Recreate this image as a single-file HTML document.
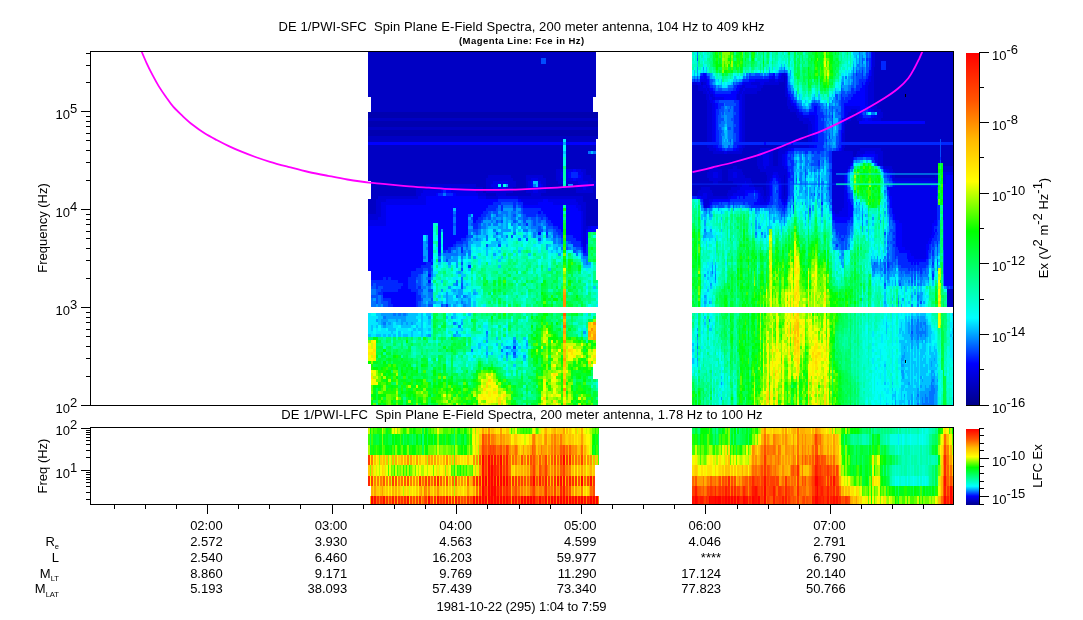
<!DOCTYPE html>
<html><head><meta charset="utf-8"><title>DE 1 PWI spectra</title>
<style>html,body{margin:0;padding:0;background:#fff}svg{display:block}text{font-family:"Liberation Sans",sans-serif;fill:#000}</style></head><body>
<svg width="1083" height="620" viewBox="0 0 1083 620">
<rect width="1083" height="620" fill="#fff"/>
<g fill="none" shape-rendering="crispEdges"><path stroke="#0000c4" stroke-width="2.5" d="M369.25 52v45M369.25 118v3M369.25 127v3M369.25 136v6M369.25 145v36M369.25 199v15M371.75 52v60M371.75 118v3M371.75 127v3M371.75 136v6M371.75 145v69M374.25 52v60M374.25 118v3M374.25 127v3M374.25 136v6M374.25 145v69M376.75 52v60M376.75 118v3M376.75 127v3M376.75 136v6M376.75 145v54M379.25 52v60M379.25 118v3M379.25 127v3M379.25 136v6M379.25 145v51M381.75 52v60M381.75 118v3M381.75 127v3M381.75 136v6M381.75 145v51M384.25 52v60M384.25 118v3M384.25 127v3M384.25 136v6M384.25 145v51M386.75 52v60M386.75 118v3M386.75 127v3M386.75 136v6M386.75 145v51M389.25 52v60M389.25 118v3M389.25 127v3M389.25 136v6M389.25 145v51M391.75 52v60M391.75 118v3M391.75 127v3M391.75 136v6M391.75 145v51M394.25 52v60M394.25 118v3M394.25 127v3M394.25 136v6M394.25 145v51M396.75 52v60M396.75 118v3M396.75 127v3M396.75 136v6M396.75 145v51M399.25 52v60M399.25 118v3M399.25 127v3M399.25 136v6M399.25 145v51M401.75 52v60M401.75 118v3M401.75 127v3M401.75 136v6M401.75 145v51M404.25 52v60M404.25 118v3M404.25 127v3M404.25 136v6M404.25 145v51M406.75 52v60M406.75 118v3M406.75 127v3M406.75 136v6M406.75 145v51M409.25 52v60M409.25 118v3M409.25 127v3M409.25 136v6M409.25 145v51M411.75 52v60M411.75 118v3M411.75 127v3M411.75 136v6M411.75 145v51M414.25 52v60M414.25 118v3M414.25 127v3M414.25 136v6M414.25 145v51M416.75 52v60M416.75 118v3M416.75 127v3M416.75 136v6M416.75 145v42M419.25 52v60M419.25 118v3M419.25 127v3M419.25 136v6M419.25 145v42M421.75 52v60M421.75 118v3M421.75 127v3M421.75 136v6M421.75 145v42M424.25 52v60M424.25 118v3M424.25 127v3M424.25 136v6M424.25 145v42M426.75 52v60M426.75 118v3M426.75 127v3M426.75 136v6M426.75 145v39M429.25 52v60M429.25 118v3M429.25 127v3M429.25 136v6M429.25 145v39M431.75 52v60M431.75 118v3M431.75 127v3M431.75 136v6M431.75 145v39M434.25 52v60M434.25 118v3M434.25 127v3M434.25 136v6M434.25 145v39M436.75 52v60M436.75 118v3M436.75 127v3M436.75 136v6M436.75 145v39M439.25 52v60M439.25 118v3M439.25 127v3M439.25 136v6M439.25 145v39M441.75 52v60M441.75 118v3M441.75 127v3M441.75 136v6M441.75 145v39M444.25 52v60M444.25 118v3M444.25 127v3M444.25 136v6M444.25 145v39M446.75 52v60M446.75 118v3M446.75 127v3M446.75 136v6M446.75 145v39M449.25 52v60M449.25 118v3M449.25 127v3M449.25 136v6M449.25 145v39M451.75 52v60M451.75 118v3M451.75 127v3M451.75 136v6M451.75 145v39M454.25 52v60M454.25 118v3M454.25 127v3M454.25 136v6M454.25 145v39M456.75 52v60M456.75 118v3M456.75 127v3M456.75 136v6M456.75 145v39M459.25 52v60M459.25 118v3M459.25 127v3M459.25 136v6M459.25 145v39M461.75 52v60M461.75 118v3M461.75 127v3M461.75 136v6M461.75 145v39M464.25 52v60M464.25 118v3M464.25 127v3M464.25 136v6M464.25 145v39M466.75 52v60M466.75 118v3M466.75 127v3M466.75 136v6M466.75 145v39M469.25 52v60M469.25 118v3M469.25 127v3M469.25 136v6M469.25 145v39M471.75 52v60M471.75 118v3M471.75 127v3M471.75 136v6M471.75 145v39M474.25 52v60M474.25 118v3M474.25 127v3M474.25 136v6M474.25 145v39M476.75 52v60M476.75 118v3M476.75 127v3M476.75 136v6M476.75 145v42M479.25 52v60M479.25 118v3M479.25 127v3M479.25 136v6M479.25 145v42M481.75 52v60M481.75 118v3M481.75 127v3M481.75 136v6M481.75 145v42M484.25 52v60M484.25 118v3M484.25 127v3M484.25 136v6M484.25 145v48M486.75 52v60M486.75 118v3M486.75 127v3M486.75 136v6M486.75 145v33M486.75 193v3M489.25 52v60M489.25 118v3M489.25 127v3M489.25 136v6M489.25 145v30M489.25 193v3M491.75 52v60M491.75 118v3M491.75 127v3M491.75 136v6M491.75 145v30M491.75 193v3M494.25 52v60M494.25 118v3M494.25 127v3M494.25 136v6M494.25 145v30M494.25 193v3M496.75 52v60M496.75 118v3M496.75 127v3M496.75 136v6M496.75 145v30M499.25 52v60M499.25 118v3M499.25 127v3M499.25 136v6M499.25 145v30M501.75 52v60M501.75 118v3M501.75 127v3M501.75 136v6M501.75 145v30M504.25 52v60M504.25 118v3M504.25 127v3M504.25 136v6M504.25 145v30M506.75 52v60M506.75 118v3M506.75 127v3M506.75 136v6M506.75 145v30M506.75 193v3M509.25 52v60M509.25 118v3M509.25 127v3M509.25 136v6M509.25 145v30M509.25 193v3M511.75 52v60M511.75 118v3M511.75 127v3M511.75 136v6M511.75 145v33M511.75 193v3M514.25 52v60M514.25 118v3M514.25 127v3M514.25 136v6M514.25 145v36M514.25 187v9M516.75 52v60M516.75 118v3M516.75 127v3M516.75 136v6M516.75 145v51M519.25 52v60M519.25 118v3M519.25 127v3M519.25 136v6M519.25 145v51M521.75 52v60M521.75 118v3M521.75 127v3M521.75 136v6M521.75 145v51M524.25 52v60M524.25 118v3M524.25 127v3M524.25 136v6M524.25 145v51M526.75 52v60M526.75 118v3M526.75 127v3M526.75 136v6M526.75 145v30M526.75 193v3M529.25 52v60M529.25 118v3M529.25 127v3M529.25 136v6M529.25 145v30M529.25 193v3M531.75 52v60M531.75 118v3M531.75 127v3M531.75 136v6M531.75 145v30M534.25 52v60M534.25 118v3M534.25 127v3M534.25 136v6M534.25 145v30M536.75 52v60M536.75 118v3M536.75 127v3M536.75 136v6M536.75 145v30M539.25 52v60M539.25 118v3M539.25 127v3M539.25 136v6M539.25 145v30M541.75 52v6M541.75 64v48M541.75 118v3M541.75 127v3M541.75 136v6M541.75 145v30M541.75 193v3M544.25 52v6M544.25 64v48M544.25 118v3M544.25 127v3M544.25 136v6M544.25 145v33M544.25 193v3M546.75 52v60M546.75 118v3M546.75 127v3M546.75 136v6M546.75 145v51M549.25 52v60M549.25 118v3M549.25 127v3M549.25 136v6M549.25 145v51M551.75 52v60M551.75 118v3M551.75 127v3M551.75 136v6M551.75 145v51M554.25 52v60M554.25 118v3M554.25 127v3M554.25 136v6M554.25 145v51M556.75 52v60M556.75 118v3M556.75 127v3M556.75 136v6M556.75 145v24M556.75 181v15M559.25 52v60M559.25 118v3M559.25 127v3M559.25 136v6M559.25 145v24M559.25 184v12M561.75 52v60M561.75 118v3M561.75 127v3M561.75 136v6M561.75 145v24M561.75 184v12M564.25 52v60M564.25 118v3M564.25 127v3M564.25 136v3M564.25 187v9M566.75 52v60M566.75 118v3M566.75 127v3M566.75 136v6M566.75 145v24M566.75 184v12M569.25 52v60M569.25 118v3M569.25 127v3M569.25 136v6M569.25 145v24M569.25 187v9M571.75 52v60M571.75 118v3M571.75 127v3M571.75 136v6M571.75 145v24M571.75 187v9M574.25 52v60M574.25 118v3M574.25 127v3M574.25 136v6M574.25 145v24M574.25 184v12M576.75 52v60M576.75 118v3M576.75 127v3M576.75 136v6M576.75 145v24M576.75 193v3M579.25 52v60M579.25 118v3M579.25 127v3M579.25 136v6M579.25 145v24M579.25 193v3M581.75 52v60M581.75 118v3M581.75 127v3M581.75 136v6M581.75 145v24M581.75 193v3M584.25 52v60M584.25 118v3M584.25 127v3M584.25 136v6M584.25 145v24M584.25 193v9M586.75 52v60M586.75 118v3M586.75 127v3M586.75 136v6M586.75 145v30M586.75 193v33M589.25 52v60M589.25 118v3M589.25 127v3M589.25 136v6M589.25 145v6M589.25 154v21M589.25 193v33M591.75 52v60M591.75 118v3M591.75 127v3M591.75 136v6M591.75 145v6M591.75 154v24M591.75 193v33M594.25 52v45M594.25 118v3M594.25 127v3M594.25 136v6M594.25 145v6M594.25 154v27M594.25 187v39M596.75 118v3M596.75 127v3M596.75 136v3M596.75 199v27"/><path stroke="#0000b0" stroke-width="2.5" d="M369.25 112v6M369.25 121v6M369.25 130v6M371.75 112v6M371.75 121v6M371.75 130v6M374.25 112v6M374.25 121v6M374.25 130v6M376.75 112v6M376.75 121v6M376.75 130v6M379.25 112v6M379.25 121v6M379.25 130v6M381.75 112v6M381.75 121v6M381.75 130v6M384.25 112v6M384.25 121v6M384.25 130v6M386.75 112v6M386.75 121v6M386.75 130v6M389.25 112v6M389.25 121v6M389.25 130v6M391.75 112v6M391.75 121v6M391.75 130v6M394.25 112v6M394.25 121v6M394.25 130v6M396.75 112v6M396.75 121v6M396.75 130v6M399.25 112v6M399.25 121v6M399.25 130v6M401.75 112v6M401.75 121v6M401.75 130v6M404.25 112v6M404.25 121v6M404.25 130v6M406.75 112v6M406.75 121v6M406.75 130v6M409.25 112v6M409.25 121v6M409.25 130v6M411.75 112v6M411.75 121v6M411.75 130v6M414.25 112v6M414.25 121v6M414.25 130v6M416.75 112v6M416.75 121v6M416.75 130v6M419.25 112v6M419.25 121v6M419.25 130v6M421.75 112v6M421.75 121v6M421.75 130v6M424.25 112v6M424.25 121v6M424.25 130v6M426.75 112v6M426.75 121v6M426.75 130v6M429.25 112v6M429.25 121v6M429.25 130v6M431.75 112v6M431.75 121v6M431.75 130v6M434.25 112v6M434.25 121v6M434.25 130v6M436.75 112v6M436.75 121v6M436.75 130v6M439.25 112v6M439.25 121v6M439.25 130v6M441.75 112v6M441.75 121v6M441.75 130v6M444.25 112v6M444.25 121v6M444.25 130v6M446.75 112v6M446.75 121v6M446.75 130v6M449.25 112v6M449.25 121v6M449.25 130v6M451.75 112v6M451.75 121v6M451.75 130v6M454.25 112v6M454.25 121v6M454.25 130v6M456.75 112v6M456.75 121v6M456.75 130v6M459.25 112v6M459.25 121v6M459.25 130v6M461.75 112v6M461.75 121v6M461.75 130v6M464.25 112v6M464.25 121v6M464.25 130v6M466.75 112v6M466.75 121v6M466.75 130v6M469.25 112v6M469.25 121v6M469.25 130v6M471.75 112v6M471.75 121v6M471.75 130v6M474.25 112v6M474.25 121v6M474.25 130v6M476.75 112v6M476.75 121v6M476.75 130v6M479.25 112v6M479.25 121v6M479.25 130v6M481.75 112v6M481.75 121v6M481.75 130v6M484.25 112v6M484.25 121v6M484.25 130v6M486.75 112v6M486.75 121v6M486.75 130v6M489.25 112v6M489.25 121v6M489.25 130v6M491.75 112v6M491.75 121v6M491.75 130v6M494.25 112v6M494.25 121v6M494.25 130v6M496.75 112v6M496.75 121v6M496.75 130v6M499.25 112v6M499.25 121v6M499.25 130v6M501.75 112v6M501.75 121v6M501.75 130v6M504.25 112v6M504.25 121v6M504.25 130v6M506.75 112v6M506.75 121v6M506.75 130v6M509.25 112v6M509.25 121v6M509.25 130v6M511.75 112v6M511.75 121v6M511.75 130v6M514.25 112v6M514.25 121v6M514.25 130v6M516.75 112v6M516.75 121v6M516.75 130v6M519.25 112v6M519.25 121v6M519.25 130v6M521.75 112v6M521.75 121v6M521.75 130v6M524.25 112v6M524.25 121v6M524.25 130v6M526.75 112v6M526.75 121v6M526.75 130v6M529.25 112v6M529.25 121v6M529.25 130v6M531.75 112v6M531.75 121v6M531.75 130v6M534.25 112v6M534.25 121v6M534.25 130v6M536.75 112v6M536.75 121v6M536.75 130v6M539.25 112v6M539.25 121v6M539.25 130v6M541.75 112v6M541.75 121v6M541.75 130v6M544.25 112v6M544.25 121v6M544.25 130v6M546.75 112v6M546.75 121v6M546.75 130v6M549.25 112v6M549.25 121v6M549.25 130v6M551.75 112v6M551.75 121v6M551.75 130v6M554.25 112v6M554.25 121v6M554.25 130v6M556.75 112v6M556.75 121v6M556.75 130v6M559.25 112v6M559.25 121v6M559.25 130v6M561.75 112v6M561.75 121v6M561.75 130v6M564.25 112v6M564.25 121v6M564.25 130v6M566.75 112v6M566.75 121v6M566.75 130v6M569.25 112v6M569.25 121v6M569.25 130v6M571.75 112v6M571.75 121v6M571.75 130v6M574.25 112v6M574.25 121v6M574.25 130v6M576.75 112v6M576.75 121v6M576.75 130v6M579.25 112v6M579.25 121v6M579.25 130v6M581.75 112v6M581.75 121v6M581.75 130v6M584.25 112v6M584.25 121v6M584.25 130v6M586.75 112v6M586.75 121v6M586.75 130v6M589.25 112v6M589.25 121v6M589.25 130v6M591.75 112v6M591.75 121v6M591.75 130v6M594.25 112v6M594.25 121v6M594.25 130v6M596.75 112v6M596.75 121v6M596.75 130v6"/><path stroke="#0000ff" stroke-width="2.5" d="M369.25 142v3M369.25 226v45M371.75 142v3M371.75 226v54M374.25 142v3M374.25 226v54M376.75 142v3M376.75 226v54M379.25 142v3M379.25 226v54M381.75 142v3M381.75 226v54M384.25 142v3M384.25 226v51M384.25 292v6M386.75 142v3M386.75 205v75M386.75 292v6M389.25 142v3M389.25 205v72M389.25 292v6M391.75 142v3M391.75 205v75M391.75 292v12M394.25 142v3M394.25 205v75M394.25 292v15M396.75 142v3M396.75 205v75M396.75 292v15M399.25 142v3M399.25 205v78M399.25 289v18M401.75 142v3M401.75 205v78M401.75 286v21M404.25 142v3M404.25 205v102M406.75 142v3M406.75 205v102M409.25 142v3M409.25 205v72M409.25 289v18M411.75 142v3M411.75 205v66M411.75 292v15M414.25 142v3M414.25 205v66M414.25 292v15M416.75 142v3M416.75 205v63M419.25 142v3M419.25 205v63M421.75 142v3M421.75 205v60M424.25 142v3M424.25 205v30M424.25 262v3M426.75 142v3M426.75 196v39M429.25 142v3M429.25 196v66M429.25 274v3M429.25 280v3M431.75 142v3M431.75 196v63M431.75 262v3M434.25 142v3M434.25 196v27M436.75 142v3M436.75 193v30M439.25 142v3M439.25 196v57M441.75 142v3M441.75 190v3M441.75 196v33M444.25 142v3M444.25 196v54M446.75 142v3M446.75 190v3M446.75 196v54M449.25 142v3M449.25 190v3M449.25 196v51M451.75 142v3M451.75 196v51M454.25 142v3M454.25 193v15M454.25 235v9M456.75 142v3M456.75 196v45M459.25 142v3M459.25 196v45M461.75 142v3M461.75 196v42M464.25 142v3M464.25 196v42M466.75 142v3M466.75 196v39M469.25 142v3M469.25 196v18M471.75 142v3M471.75 196v18M474.25 142v3M474.25 196v27M476.75 142v3M476.75 196v24M479.25 142v3M479.25 199v18M481.75 142v3M481.75 199v15M484.25 142v3M484.25 199v12M486.75 142v3M486.75 199v9M489.25 142v3M489.25 199v6M491.75 142v3M491.75 199v6M494.25 142v3M494.25 199v3M496.75 142v3M496.75 199v3M499.25 142v3M501.75 142v3M504.25 142v3M506.75 142v3M509.25 142v3M511.75 142v3M514.25 142v3M516.75 142v3M519.25 142v3M519.25 199v3M521.75 142v3M524.25 142v3M524.25 205v3M526.75 142v3M526.75 205v3M529.25 142v3M529.25 205v3M531.75 142v3M531.75 181v6M531.75 205v3M534.25 142v3M534.25 187v3M534.25 205v3M536.75 142v3M536.75 187v3M536.75 205v3M539.25 142v3M539.25 184v3M539.25 202v6M539.25 211v3M539.25 232v3M541.75 142v3M541.75 202v9M544.25 142v3M544.25 199v15M546.75 142v3M546.75 199v18M549.25 142v3M549.25 202v18M551.75 142v3M551.75 202v21M554.25 142v3M554.25 205v21M556.75 142v3M556.75 205v21M559.25 142v3M559.25 205v24M561.75 142v3M561.75 205v27M566.75 142v3M566.75 205v30M569.25 142v3M569.25 172v6M569.25 205v30M571.75 142v3M571.75 205v30M574.25 142v3M574.25 169v3M574.25 178v3M574.25 205v33M576.75 142v3M576.75 208v33M579.25 142v3M579.25 175v3M579.25 211v30M581.75 142v3M581.75 244v3M584.25 142v3M584.25 250v3M586.75 142v3M586.75 232v12M589.25 142v3M589.25 229v3M591.75 142v3M591.75 226v6M594.25 142v3M594.25 226v6M596.75 226v3"/><path stroke="#0000d8" stroke-width="2.5" d="M369.25 214v6M371.75 214v6M374.25 214v6M376.75 199v21M379.25 196v21M381.75 196v6M384.25 196v6M386.75 196v3M389.25 196v3M391.75 196v3M394.25 196v3M396.75 196v3M399.25 196v3M401.75 196v3M404.25 196v3M406.75 196v3M409.25 196v3M411.75 196v3M414.25 196v3M416.75 187v12M419.25 187v9M421.75 187v6M424.25 187v3M426.75 184v6M429.25 184v6M431.75 184v6M434.25 184v6M436.75 184v6M439.25 184v6M441.75 184v3M444.25 184v3M446.75 184v3M449.25 184v3M451.75 184v6M454.25 184v6M456.75 184v6M459.25 184v6M461.75 184v6M464.25 184v6M466.75 184v6M469.25 184v6M471.75 184v6M474.25 184v6M476.75 187v6M479.25 187v9M481.75 187v9M484.25 193v3M486.75 178v15M486.75 196v3M489.25 175v18M489.25 196v3M491.75 175v9M491.75 187v6M491.75 196v3M494.25 175v6M494.25 190v3M494.25 196v3M496.75 175v6M496.75 190v9M499.25 175v6M499.25 190v6M501.75 175v6M501.75 190v6M504.25 175v6M504.25 190v6M506.75 175v6M506.75 187v6M509.25 175v18M511.75 178v15M514.25 181v6M519.25 196v3M521.75 196v3M524.25 196v3M526.75 175v18M526.75 196v3M529.25 175v6M529.25 190v3M529.25 196v3M531.75 175v3M531.75 190v9M534.25 175v3M534.25 193v6M536.75 175v3M536.75 193v6M539.25 175v6M539.25 190v9M541.75 175v9M541.75 187v6M541.75 196v3M544.25 178v15M544.25 196v3M546.75 196v3M549.25 196v3M551.75 196v3M554.25 196v3M556.75 169v12M556.75 196v3M559.25 169v15M559.25 196v3M561.75 169v3M561.75 178v6M561.75 196v3M564.25 196v3M566.75 181v3M566.75 196v3M569.25 181v3M569.25 196v3M571.75 181v3M571.75 196v3M574.25 181v3M574.25 196v3M576.75 181v12M576.75 196v6M579.25 184v9M579.25 196v9M581.75 169v3M581.75 187v6M581.75 196v15M584.25 169v12M584.25 190v3M584.25 202v45M586.75 175v6M586.75 187v6M586.75 226v3M589.25 175v18M591.75 178v15M594.25 181v6"/><path stroke="#0000eb" stroke-width="2.5" d="M369.25 220v6M371.75 220v6M374.25 220v6M376.75 220v6M379.25 217v9M381.75 202v24M384.25 202v24M386.75 199v6M389.25 199v6M391.75 199v6M394.25 199v6M396.75 199v6M399.25 199v6M401.75 199v6M404.25 199v6M406.75 199v6M409.25 199v6M411.75 199v6M414.25 199v6M416.75 199v6M419.25 196v9M421.75 193v12M424.25 190v15M426.75 190v6M429.25 190v6M431.75 190v6M434.25 190v6M436.75 190v3M439.25 190v3M441.75 187v3M444.25 187v3M446.75 187v3M449.25 187v3M451.75 190v3M454.25 190v3M456.75 190v6M459.25 190v6M461.75 190v6M464.25 190v6M466.75 190v6M469.25 190v6M471.75 190v6M474.25 190v6M476.75 193v3M479.25 196v3M481.75 196v3M484.25 196v3M491.75 184v3M494.25 181v9M496.75 181v9M499.25 181v3M499.25 187v3M499.25 196v3M501.75 181v9M501.75 196v3M504.25 181v3M504.25 187v3M504.25 196v3M506.75 181v3M506.75 196v3M509.25 196v3M511.75 196v3M514.25 196v3M516.75 196v3M521.75 199v3M524.25 199v6M526.75 199v6M529.25 181v9M529.25 199v6M531.75 178v3M531.75 187v3M531.75 199v6M534.25 178v3M534.25 190v3M534.25 199v6M536.75 178v3M536.75 190v3M536.75 199v6M539.25 181v3M539.25 187v3M539.25 199v3M541.75 184v3M541.75 199v3M549.25 199v3M551.75 199v3M554.25 199v6M556.75 199v6M559.25 199v6M561.75 172v6M561.75 199v6M564.25 199v6M566.75 169v12M566.75 199v6M569.25 169v3M569.25 178v3M569.25 199v6M571.75 169v3M571.75 178v3M571.75 199v6M574.25 199v6M576.75 169v3M576.75 178v3M576.75 202v6M579.25 169v6M579.25 178v6M579.25 205v6M581.75 172v15M581.75 211v33M584.25 181v9M584.25 247v3M586.75 181v6M586.75 229v3M589.25 226v3"/><path stroke="#00e8ff" stroke-width="2.5" d="M369.25 313v21M371.75 316v9M371.75 331v6M374.25 316v12M374.25 334v3M376.75 316v3M376.75 322v3M376.75 328v6M379.25 331v3M381.75 328v9M384.25 328v6M386.75 331v6M389.25 331v3M391.75 334v3M394.25 322v6M394.25 331v3M396.75 325v3M399.25 328v3M401.75 328v3M401.75 334v3M404.25 328v6M406.75 328v6M409.25 331v6M411.75 325v6M414.25 331v6M416.75 316v3M416.75 322v3M416.75 328v9M419.25 313v6M419.25 322v6M419.25 334v3M424.25 235v6M424.25 316v6M424.25 328v9M426.75 316v15M429.25 325v3M429.25 331v3M431.75 280v3M434.25 259v3M434.25 271v3M436.75 247v3M436.75 271v3M436.75 295v3M436.75 304v3M439.25 265v3M439.25 292v3M439.25 298v3M439.25 304v3M441.75 244v3M444.25 292v3M444.25 301v3M446.75 262v3M446.75 289v3M449.25 292v3M451.75 286v3M451.75 292v3M451.75 304v3M451.75 328v3M454.25 277v3M454.25 298v3M454.25 328v3M456.75 274v6M456.75 286v3M456.75 298v3M456.75 316v3M456.75 328v3M459.25 256v3M459.25 286v3M459.25 304v3M459.25 328v3M461.75 295v3M464.25 280v6M464.25 292v3M464.25 316v3M466.75 253v6M466.75 262v6M466.75 292v3M466.75 334v3M469.25 283v3M469.25 334v3M471.75 244v3M471.75 250v3M471.75 295v3M471.75 346v3M471.75 352v3M471.75 358v3M474.25 244v3M474.25 295v6M474.25 337v3M474.25 346v3M476.75 247v6M476.75 256v3M479.25 250v3M479.25 259v6M481.75 340v6M484.25 238v3M484.25 247v3M484.25 304v3M484.25 325v3M484.25 337v3M484.25 343v3M486.75 325v6M489.25 229v9M489.25 247v3M489.25 262v3M491.75 229v6M494.25 250v3M494.25 256v3M496.75 244v6M496.75 253v3M499.25 229v3M499.25 235v3M499.25 355v3M501.75 238v6M501.75 337v3M501.75 352v3M501.75 358v3M504.25 232v3M504.25 241v3M504.25 349v6M506.75 232v3M506.75 238v6M506.75 256v3M506.75 325v3M506.75 334v3M506.75 340v3M506.75 367v3M509.25 349v3M511.75 226v6M511.75 238v3M511.75 250v3M511.75 343v6M511.75 352v3M514.25 253v3M514.25 358v3M516.75 235v3M516.75 340v3M516.75 352v3M519.25 235v3M519.25 247v3M519.25 352v3M521.75 229v3M521.75 238v3M521.75 247v3M524.25 232v3M524.25 346v3M524.25 352v3M534.25 244v3M536.75 238v3M539.25 250v3M541.75 241v3M549.25 250v3M551.75 244v3M554.25 250v3M559.25 247v6M564.25 139v3M564.25 154v3M566.75 250v6M579.25 253v3M584.25 328v3M584.25 334v3M586.75 268v3M586.75 286v3M586.75 313v3M596.75 304v3"/><path stroke="#00c1ff" stroke-width="2.5" d="M369.25 334v3M371.75 325v6M376.75 313v3M376.75 325v3M376.75 334v3M379.25 313v12M379.25 334v3M381.75 316v3M381.75 325v3M384.25 334v3M386.75 322v6M389.25 319v3M389.25 325v6M389.25 334v3M391.75 319v15M394.25 319v3M394.25 328v3M394.25 334v3M396.75 322v3M399.25 319v6M399.25 331v6M401.75 325v3M404.25 322v6M404.25 334v3M406.75 316v6M406.75 325v3M406.75 334v3M409.25 313v15M411.75 313v9M411.75 331v6M414.25 313v12M414.25 328v3M416.75 313v3M416.75 319v3M416.75 325v3M419.25 328v3M421.75 313v24M426.75 301v3M426.75 313v3M426.75 334v3M429.25 313v3M429.25 319v6M429.25 328v3M431.75 286v3M434.25 274v3M436.75 301v3M439.25 262v3M439.25 295v3M439.25 301v3M441.75 253v3M441.75 280v3M444.25 295v3M446.75 316v3M449.25 265v3M449.25 295v9M451.75 256v3M451.75 289v3M451.75 295v9M454.25 208v3M454.25 292v3M454.25 301v3M454.25 313v6M456.75 271v3M456.75 289v6M456.75 304v3M456.75 322v3M456.75 334v3M459.25 298v6M459.25 334v3M461.75 271v6M461.75 304v3M461.75 319v3M461.75 328v3M464.25 256v3M464.25 274v3M464.25 286v3M464.25 298v3M466.75 283v3M466.75 298v6M469.25 262v3M469.25 268v3M469.25 292v6M469.25 313v3M471.75 214v3M471.75 232v3M471.75 238v3M474.25 235v3M474.25 241v3M474.25 289v3M474.25 301v6M476.75 241v6M476.75 292v3M479.25 235v3M479.25 241v6M479.25 343v6M481.75 229v12M484.25 235v3M486.75 229v6M486.75 247v9M486.75 337v3M486.75 346v6M486.75 355v3M489.25 226v3M489.25 244v3M491.75 214v3M491.75 223v6M491.75 241v6M491.75 352v3M494.25 226v3M494.25 232v3M494.25 241v6M496.75 226v6M496.75 235v3M496.75 241v3M496.75 337v3M496.75 343v3M499.25 223v3M499.25 238v3M499.25 250v3M499.25 259v3M499.25 265v3M501.75 256v3M501.75 343v3M501.75 355v3M504.25 217v12M504.25 235v6M504.25 346v3M506.75 244v3M506.75 358v3M509.25 220v3M509.25 352v3M514.25 364v3M516.75 217v3M516.75 223v6M516.75 343v3M516.75 349v3M516.75 355v3M519.25 214v3M519.25 220v3M519.25 229v3M519.25 250v3M519.25 346v3M524.25 337v3M524.25 358v3M526.75 226v3M526.75 232v6M526.75 340v3M526.75 346v3M529.25 229v3M529.25 253v3M531.75 232v6M534.25 181v3M536.75 181v6M536.75 235v3M539.25 241v3M541.75 232v9M544.25 226v3M546.75 238v3M549.25 232v3M549.25 238v3M549.25 244v3M549.25 268v3M551.75 235v3M551.75 250v3M554.25 244v6M556.75 244v3M556.75 250v3M561.75 250v3M564.25 151v3M581.75 259v3M584.25 265v3M586.75 265v3M589.25 265v3M591.75 151v3M594.25 286v3"/><path stroke="#00ff69" stroke-width="2.5" d="M369.25 337v3M371.75 337v3M379.25 343v3M381.75 343v3M386.75 337v3M386.75 349v3M386.75 361v3M389.25 337v6M391.75 361v3M391.75 370v3M394.25 340v3M394.25 382v3M399.25 349v6M401.75 340v3M404.25 337v3M404.25 349v6M404.25 400v5M409.25 343v3M409.25 352v3M414.25 361v3M414.25 367v3M414.25 376v3M416.75 358v3M419.25 343v3M421.75 349v3M421.75 376v3M424.25 343v3M426.75 337v3M426.75 349v3M429.25 376v3M429.25 403v2M431.75 379v3M431.75 394v3M434.25 280v3M434.25 334v3M434.25 361v3M436.75 259v3M436.75 322v6M436.75 331v3M436.75 364v3M439.25 319v3M439.25 337v3M441.75 319v3M441.75 349v3M441.75 358v3M441.75 364v6M444.25 271v3M444.25 319v3M444.25 328v3M444.25 361v3M446.75 376v3M451.75 352v3M454.25 379v3M456.75 340v3M456.75 349v3M459.25 376v3M461.75 337v3M461.75 343v3M461.75 355v3M461.75 367v3M464.25 346v3M464.25 370v3M469.25 343v3M469.25 376v3M471.75 268v3M471.75 328v3M474.25 316v3M476.75 367v3M481.75 268v3M481.75 313v3M481.75 361v3M484.25 274v3M484.25 286v6M486.75 262v3M486.75 286v6M486.75 364v3M489.25 286v3M491.75 322v3M491.75 361v3M494.25 286v3M494.25 301v3M496.75 271v3M496.75 289v3M496.75 295v3M496.75 319v3M499.25 292v3M499.25 304v3M499.25 325v3M499.25 370v3M501.75 280v3M501.75 286v6M504.25 289v3M504.25 304v3M504.25 328v3M506.75 289v3M509.25 262v3M509.25 286v3M509.25 322v3M511.75 286v3M511.75 379v6M514.25 262v3M514.25 268v3M514.25 301v6M514.25 322v3M514.25 379v3M514.25 397v3M516.75 280v3M516.75 295v3M516.75 313v6M516.75 328v3M516.75 373v6M516.75 382v3M516.75 400v3M519.25 304v3M519.25 313v3M519.25 367v3M519.25 388v6M521.75 283v3M521.75 292v3M521.75 361v3M521.75 391v3M521.75 397v8M524.25 316v3M526.75 304v3M526.75 373v3M529.25 265v3M529.25 337v3M529.25 355v12M529.25 388v3M531.75 289v3M531.75 319v6M531.75 367v3M531.75 385v3M534.25 253v3M534.25 280v3M534.25 298v3M534.25 304v3M534.25 316v3M534.25 334v3M534.25 382v3M534.25 388v6M536.75 277v3M536.75 283v3M536.75 292v6M536.75 322v3M539.25 301v3M541.75 268v3M541.75 304v3M544.25 274v6M546.75 280v3M546.75 289v3M546.75 316v3M549.25 271v3M549.25 292v3M549.25 316v3M551.75 268v3M551.75 274v6M554.25 262v3M554.25 268v3M554.25 274v3M554.25 289v3M554.25 295v3M554.25 325v6M556.75 283v3M556.75 304v3M556.75 313v3M556.75 325v3M559.25 271v3M559.25 298v6M559.25 313v6M559.25 331v6M561.75 289v3M561.75 301v6M561.75 331v6M566.75 265v3M566.75 271v6M566.75 313v3M566.75 322v3M569.25 295v6M569.25 331v6M571.75 286v3M571.75 328v9M574.25 277v9M574.25 289v3M574.25 301v6M574.25 382v3M576.75 268v3M576.75 283v3M576.75 292v3M576.75 334v3M579.25 262v3M579.25 286v3M579.25 295v3M581.75 286v6M581.75 295v3M581.75 313v3M584.25 304v3M589.25 244v3M589.25 253v6M589.25 292v3M591.75 238v3M591.75 244v3M591.75 250v3M591.75 256v3M591.75 370v3M591.75 388v6M594.25 241v3M594.25 280v3"/><path stroke="#87ff00" stroke-width="2.5" d="M369.25 340v3M371.75 361v3M371.75 391v3M376.75 370v6M379.25 391v3M384.25 385v6M396.75 382v3M396.75 394v3M416.75 391v3M416.75 403v2M424.25 388v3M424.25 394v3M424.25 400v3M444.25 376v3M444.25 397v3M449.25 397v3M449.25 403v2M451.75 388v3M454.25 397v3M476.75 397v3M479.25 385v3M481.75 373v6M481.75 400v3M484.25 373v3M494.25 373v6M496.75 379v3M496.75 403v2M499.25 391v3M506.75 403v2M541.75 337v3M541.75 400v3M546.75 334v3M546.75 349v6M546.75 358v3M546.75 364v6M546.75 379v3M546.75 391v6M549.25 334v3M549.25 370v9M549.25 382v3M549.25 403v2M551.75 343v3M551.75 391v3M554.25 343v3M554.25 349v6M554.25 361v3M554.25 370v3M554.25 397v3M556.75 340v3M556.75 388v3M559.25 355v3M559.25 364v3M559.25 379v3M559.25 385v6M561.75 370v3M564.25 253v3M564.25 277v3M564.25 286v3M566.75 361v3M566.75 367v3M566.75 373v3M566.75 379v3M569.25 373v3M569.25 382v6M569.25 391v3M571.75 340v3M571.75 382v3M571.75 397v3M574.25 346v3M576.75 355v3M576.75 361v3M576.75 367v3M581.75 346v3M584.25 355v3M584.25 364v3M589.25 343v3M589.25 355v3M591.75 349v3M594.25 319v3"/><path stroke="#f1ff00" stroke-width="2.5" d="M369.25 343v3M369.25 358v3M374.25 370v6M374.25 382v3M396.75 397v3M444.25 394v3M479.25 394v9M481.75 379v3M481.75 403v2M484.25 391v3M486.75 373v3M486.75 388v3M486.75 394v3M486.75 400v5M489.25 388v3M489.25 397v3M491.75 391v9M494.25 382v3M494.25 400v3M504.25 391v3M541.75 397v3M544.25 340v3M544.25 382v9M544.25 394v3M551.75 340v3M551.75 379v3M551.75 394v3M554.25 379v3M554.25 388v6M556.75 352v3M556.75 394v3M559.25 394v3M564.25 268v3M566.75 370v3M569.25 346v3M569.25 358v3M571.75 358v3M574.25 352v3M576.75 352v3M579.25 349v6M579.25 397v3M581.75 343v3M589.25 358v3M591.75 355v3M591.75 364v3M594.25 352v3"/><path stroke="#ffec00" stroke-width="2.5" d="M369.25 346v3M369.25 352v3M371.75 340v3M374.25 343v6M374.25 352v3M374.25 358v3M481.75 394v3M484.25 397v3M489.25 391v6M491.75 400v3M496.75 388v6M544.25 379v3M556.75 373v3M564.25 385v3M564.25 400v3M571.75 346v3M574.25 355v3M594.25 349v3"/><path stroke="#fff800" stroke-width="2.5" d="M369.25 349v3M369.25 355v3M371.75 349v3M371.75 358v3M371.75 370v3M371.75 379v6M374.25 340v3M374.25 379v3M376.75 382v3M481.75 385v3M481.75 397v3M484.25 394v3M486.75 397v3M489.25 376v3M489.25 382v3M489.25 400v3M491.75 373v3M491.75 379v12M494.25 385v3M494.25 394v6M496.75 385v3M496.75 394v3M501.75 394v6M504.25 400v5M544.25 400v5M546.75 331v3M551.75 373v3M554.25 364v3M554.25 376v3M556.75 403v2M559.25 349v3M564.25 397v3M569.25 352v6M571.75 355v3M574.25 349v3M581.75 355v3M591.75 358v3M594.25 361v3"/><path stroke="#00ff04" stroke-width="2.5" d="M369.25 361v3M371.75 400v5M374.25 367v3M374.25 385v3M374.25 394v6M376.75 367v3M379.25 385v3M379.25 394v6M379.25 403v2M381.75 367v3M381.75 394v3M381.75 400v3M384.25 349v3M384.25 361v3M384.25 373v3M384.25 394v3M386.75 370v3M386.75 376v9M389.25 370v6M391.75 364v3M391.75 385v3M391.75 400v3M394.25 355v3M396.75 367v3M396.75 376v3M399.25 403v2M401.75 370v3M401.75 391v3M401.75 400v3M404.25 373v3M406.75 340v3M409.25 382v3M409.25 391v6M411.75 367v3M411.75 391v3M414.25 394v3M416.75 370v3M416.75 379v3M416.75 388v3M419.25 379v3M419.25 385v3M419.25 400v3M421.75 364v3M421.75 379v6M421.75 400v5M426.75 403v2M429.25 394v3M431.75 400v3M434.25 370v6M434.25 385v3M434.25 400v3M439.25 382v6M439.25 394v3M441.75 382v3M444.25 379v3M446.75 388v6M449.25 382v3M451.75 376v3M451.75 382v3M454.25 388v3M459.25 388v3M464.25 385v3M466.75 385v3M466.75 391v3M466.75 400v5M469.25 403v2M471.75 394v3M471.75 400v5M474.25 379v3M476.75 370v3M476.75 400v3M489.25 367v3M491.75 316v3M491.75 367v3M494.25 370v3M499.25 379v3M504.25 385v3M511.75 403v2M531.75 316v3M531.75 325v3M531.75 352v3M534.25 337v3M534.25 349v3M536.75 334v3M536.75 355v9M539.25 346v3M539.25 400v3M541.75 292v3M541.75 319v3M541.75 355v3M541.75 370v3M541.75 379v3M544.25 298v3M544.25 304v3M544.25 313v3M544.25 364v3M546.75 313v3M546.75 382v3M549.25 328v3M549.25 337v3M549.25 346v3M549.25 364v3M551.75 337v3M554.25 298v3M554.25 334v9M556.75 298v3M556.75 322v3M556.75 337v3M561.75 358v6M561.75 379v3M561.75 388v3M561.75 403v2M564.25 229v6M564.25 250v3M564.25 259v3M566.75 382v3M566.75 391v3M569.25 265v3M569.25 280v3M569.25 337v3M571.75 367v3M571.75 385v6M571.75 400v3M574.25 397v3M576.75 295v3M576.75 400v3M579.25 340v3M579.25 361v3M579.25 367v3M579.25 376v3M579.25 400v3M581.75 358v3M581.75 391v3M581.75 403v2M584.25 367v3M584.25 379v3M584.25 391v3M586.75 343v3M586.75 349v3M586.75 361v3M586.75 367v6M586.75 403v2M589.25 340v3M589.25 370v3M591.75 346v3M594.25 343v3"/><path stroke="#0027ff" stroke-width="2.5" d="M371.75 280v6M374.25 280v3M376.75 280v9M379.25 280v6M379.25 292v3M381.75 280v6M381.75 289v6M384.25 277v15M384.25 298v3M386.75 280v12M386.75 298v3M389.25 277v15M389.25 298v9M391.75 280v12M391.75 304v3M394.25 280v12M396.75 280v12M399.25 283v6M401.75 283v3M409.25 277v12M411.75 271v21M414.25 271v21M416.75 268v9M416.75 289v18M419.25 268v6M419.25 286v3M419.25 295v6M421.75 265v9M424.25 265v3M426.75 262v6M429.25 262v12M431.75 259v3M439.25 193v3M439.25 253v3M441.75 193v3M444.25 190v3M444.25 250v3M446.75 193v3M446.75 304v3M449.25 193v3M449.25 247v6M451.75 193v3M454.25 244v3M456.75 241v3M459.25 241v3M461.75 238v6M461.75 247v6M464.25 238v3M466.75 235v3M469.25 265v3M474.25 223v6M476.75 220v9M479.25 217v6M481.75 214v6M484.25 211v6M486.75 208v6M489.25 205v6M491.75 205v6M494.25 202v9M496.75 202v6M499.25 199v6M501.75 199v3M501.75 205v6M504.25 199v3M506.75 199v3M509.25 199v3M511.75 199v3M514.25 199v9M514.25 346v3M516.75 199v3M519.25 202v3M521.75 202v6M524.25 208v6M526.75 208v9M526.75 223v3M529.25 208v9M531.75 208v9M534.25 208v9M536.75 208v6M539.25 208v3M539.25 214v3M541.75 211v9M544.25 214v3M546.75 217v6M546.75 232v3M549.25 220v6M551.75 223v3M554.25 226v3M556.75 226v6M559.25 229v6M561.75 232v6M566.75 235v6M569.25 235v6M571.75 172v6M571.75 235v9M574.25 172v6M574.25 238v9M576.75 172v6M576.75 241v6M579.25 241v6M581.75 247v3M584.25 253v3M586.75 244v12"/><path stroke="#004dff" stroke-width="2.5" d="M371.75 286v3M371.75 295v3M374.25 283v6M374.25 295v3M376.75 289v15M379.25 286v6M381.75 286v3M381.75 295v9M384.25 301v6M386.75 301v6M416.75 277v3M416.75 283v6M419.25 274v12M419.25 289v6M419.25 301v6M421.75 289v3M421.75 298v3M424.25 268v3M426.75 268v3M429.25 277v3M429.25 283v3M429.25 289v3M429.25 304v3M431.75 268v3M431.75 289v3M431.75 298v3M431.75 304v3M439.25 259v3M441.75 304v3M446.75 250v3M446.75 259v3M451.75 247v3M454.25 214v3M454.25 223v3M454.25 247v3M456.75 244v3M459.25 244v3M461.75 244v3M461.75 262v3M461.75 268v3M461.75 283v6M464.25 241v3M466.75 238v9M469.25 214v3M469.25 235v3M471.75 217v3M471.75 223v3M471.75 235v3M474.25 229v3M476.75 229v6M479.25 223v6M481.75 220v3M484.25 217v3M486.75 214v3M486.75 244v3M489.25 211v9M494.25 211v3M496.75 208v9M496.75 220v3M496.75 232v3M499.25 244v3M501.75 202v3M501.75 220v3M504.25 202v3M506.75 202v3M509.25 202v3M511.75 202v3M511.75 235v3M514.25 208v3M514.25 214v3M514.25 220v3M514.25 352v3M516.75 202v3M519.25 205v3M521.75 208v6M524.25 214v9M526.75 217v3M526.75 238v3M531.75 217v3M534.25 217v9M536.75 214v3M539.25 217v6M539.25 226v6M539.25 238v3M541.75 58v6M541.75 229v3M544.25 58v6M544.25 217v3M546.75 223v9M546.75 235v3M549.25 226v3M551.75 226v3M554.25 229v9M556.75 232v3M559.25 235v3M561.75 238v6M566.75 247v3M569.25 241v3M574.25 250v3M576.75 247v3M579.25 247v3M581.75 250v3"/><path stroke="#0074ff" stroke-width="2.5" d="M371.75 289v6M371.75 298v9M374.25 289v6M374.25 301v6M379.25 295v12M384.25 316v3M384.25 322v3M394.25 313v3M399.25 313v3M404.25 313v3M416.75 280v3M421.75 274v15M421.75 292v6M421.75 301v6M424.25 256v3M424.25 271v3M424.25 286v3M424.25 295v3M424.25 304v3M426.75 241v3M426.75 247v3M426.75 277v3M426.75 283v3M429.25 286v3M429.25 292v6M429.25 301v3M431.75 265v3M431.75 271v6M431.75 292v6M431.75 301v3M439.25 256v3M444.25 193v3M444.25 253v3M444.25 304v3M446.75 253v6M449.25 253v6M451.75 250v6M454.25 211v3M454.25 217v6M454.25 226v9M454.25 253v3M454.25 322v3M456.75 247v9M456.75 280v6M456.75 295v3M459.25 325v3M461.75 253v6M461.75 277v6M461.75 301v3M464.25 244v3M464.25 250v6M464.25 295v3M464.25 304v3M466.75 247v3M469.25 220v6M469.25 229v6M469.25 238v3M469.25 250v6M471.75 220v3M471.75 229v3M471.75 349v3M474.25 232v3M476.75 238v3M479.25 229v6M481.75 226v3M484.25 223v6M486.75 217v3M486.75 235v6M486.75 331v3M489.25 223v3M491.75 211v3M491.75 220v3M494.25 217v3M494.25 223v3M494.25 229v3M496.75 223v3M496.75 238v3M499.25 205v6M499.25 214v3M499.25 220v3M501.75 211v9M501.75 349v3M504.25 205v3M504.25 211v3M506.75 205v3M506.75 211v6M506.75 235v3M506.75 346v3M506.75 352v3M509.25 205v3M511.75 205v3M511.75 211v9M511.75 223v3M514.25 211v3M514.25 217v3M514.25 232v3M514.25 340v3M514.25 355v3M516.75 205v3M516.75 220v3M519.25 211v3M519.25 217v3M519.25 223v3M519.25 238v3M521.75 214v6M524.25 223v3M524.25 229v3M526.75 229v3M529.25 217v3M531.75 220v9M534.25 184v3M534.25 226v3M534.25 232v6M536.75 217v15M539.25 223v3M541.75 220v3M541.75 226v3M544.25 220v6M549.25 229v3M551.75 229v3M554.25 238v6M556.75 235v3M559.25 238v6M561.75 247v3M566.75 241v6M569.25 247v3M574.25 247v3M576.75 250v6M584.25 256v3M586.75 256v9M589.25 151v3M594.25 151v3"/><path stroke="#00fff7" stroke-width="2.5" d="M371.75 313v3M374.25 313v3M374.25 328v6M379.25 325v6M386.75 328v3M396.75 328v9M399.25 325v3M401.75 331v3M409.25 328v3M414.25 325v3M419.25 319v3M419.25 331v3M424.25 313v3M424.25 322v6M426.75 331v3M431.75 316v3M434.25 244v3M434.25 256v3M434.25 286v3M434.25 304v3M436.75 238v3M436.75 358v3M441.75 247v3M441.75 259v3M441.75 265v3M441.75 292v3M444.25 298v3M446.75 277v3M446.75 313v3M446.75 319v3M446.75 328v6M449.25 280v3M449.25 322v3M449.25 334v3M451.75 262v3M451.75 313v3M454.25 262v3M454.25 271v3M454.25 286v3M454.25 295v3M454.25 319v3M454.25 331v3M456.75 268v3M459.25 259v3M459.25 277v3M459.25 283v3M459.25 313v12M461.75 316v3M461.75 325v3M461.75 334v3M464.25 259v3M464.25 334v3M466.75 259v3M466.75 271v3M466.75 313v3M466.75 328v6M466.75 352v3M466.75 364v3M469.25 271v3M469.25 280v3M469.25 289v3M469.25 352v3M469.25 358v3M471.75 298v3M471.75 355v3M474.25 247v3M474.25 253v3M474.25 274v6M474.25 352v3M476.75 295v3M476.75 343v3M479.25 295v3M479.25 337v6M479.25 349v6M481.75 244v9M481.75 337v3M481.75 355v3M484.25 322v3M484.25 346v3M484.25 352v3M486.75 241v3M486.75 256v6M486.75 322v3M486.75 343v3M489.25 238v6M489.25 250v3M489.25 259v3M489.25 352v3M491.75 238v3M494.25 247v3M494.25 343v6M496.75 325v3M496.75 331v3M496.75 346v6M499.25 184v3M499.25 247v3M499.25 253v3M499.25 358v3M501.75 244v3M501.75 346v3M506.75 295v3M506.75 304v3M506.75 331v3M506.75 343v3M506.75 349v3M506.75 364v3M506.75 373v3M509.25 223v6M509.25 340v6M511.75 247v3M511.75 319v3M511.75 340v3M511.75 355v6M514.25 235v3M516.75 229v3M519.25 226v3M519.25 253v3M519.25 271v3M519.25 343v3M521.75 352v3M524.25 238v9M524.25 340v6M524.25 361v3M526.75 241v3M526.75 295v3M526.75 316v3M526.75 337v3M526.75 355v3M529.25 232v3M531.75 247v3M536.75 244v3M539.25 244v6M539.25 259v6M541.75 256v3M544.25 232v3M544.25 238v3M549.25 247v3M549.25 253v6M549.25 262v3M551.75 247v3M561.75 253v3M564.25 145v6M569.25 250v3M579.25 256v3M586.75 283v3M586.75 289v3M589.25 304v3M591.75 262v6M591.75 283v3"/><path stroke="#cdff00" stroke-width="2.5" d="M371.75 343v6M371.75 355v3M371.75 373v3M376.75 376v3M416.75 385v3M446.75 400v3M456.75 403v2M474.25 394v3M481.75 382v3M481.75 391v3M484.25 379v3M484.25 385v3M484.25 403v2M486.75 376v6M486.75 391v3M489.25 385v3M489.25 403v2M491.75 376v3M494.25 388v3M496.75 397v6M499.25 394v3M501.75 391v3M501.75 400v3M504.25 397v3M541.75 346v3M541.75 403v2M544.25 334v6M544.25 391v3M546.75 337v3M546.75 355v3M549.25 394v3M551.75 349v3M551.75 364v3M551.75 376v3M551.75 382v3M554.25 358v3M554.25 382v6M554.25 394v3M554.25 403v2M556.75 358v3M556.75 379v3M556.75 385v3M559.25 370v3M566.75 343v3M566.75 349v6M566.75 358v3M569.25 343v3M569.25 394v9M571.75 343v3M574.25 343v3M576.75 349v3M579.25 403v2M589.25 349v6M591.75 352v3M594.25 358v3"/><path stroke="#ffe100" stroke-width="2.5" d="M371.75 352v3M371.75 376v3M374.25 349v3M374.25 355v3M484.25 388v3M486.75 382v3M494.25 391v3M499.25 397v3M504.25 394v3M554.25 373v3M554.25 400v3M564.25 370v3M571.75 349v6M591.75 322v3M591.75 334v3M594.25 355v3"/><path stroke="#1cff00" stroke-width="2.5" d="M371.75 364v6M379.25 370v3M379.25 382v3M381.75 370v3M381.75 376v6M381.75 385v3M384.25 367v6M384.25 391v3M384.25 400v3M386.75 391v3M389.25 376v3M389.25 382v3M389.25 388v6M391.75 391v3M391.75 403v2M394.25 367v3M394.25 373v3M394.25 379v3M394.25 388v6M394.25 397v3M396.75 355v3M396.75 385v3M401.75 385v6M404.25 382v3M406.75 388v3M406.75 394v3M411.75 379v6M411.75 403v2M414.25 391v3M419.25 388v3M421.75 385v3M421.75 397v3M424.25 385v3M424.25 403v2M426.75 397v6M431.75 397v3M434.25 379v3M434.25 388v6M434.25 397v3M436.75 394v6M439.25 373v3M439.25 388v3M439.25 397v3M441.75 403v2M444.25 388v3M449.25 388v3M449.25 400v3M451.75 391v3M454.25 385v3M454.25 391v3M459.25 400v3M461.75 400v3M464.25 391v3M464.25 397v3M471.75 397v3M474.25 400v3M476.75 379v3M476.75 385v6M479.25 382v3M489.25 370v3M496.75 376v3M501.75 382v3M504.25 313v3M506.75 385v3M511.75 397v3M531.75 349v3M531.75 355v3M536.75 340v3M536.75 373v6M539.25 379v3M539.25 385v6M541.75 328v3M541.75 382v9M544.25 316v3M544.25 367v3M549.25 325v3M549.25 331v3M549.25 343v3M549.25 352v3M549.25 385v6M551.75 295v3M551.75 358v3M556.75 346v3M556.75 367v3M559.25 340v6M561.75 349v3M561.75 364v3M561.75 373v6M561.75 382v6M561.75 394v3M564.25 238v3M564.25 244v3M564.25 256v3M564.25 262v3M566.75 337v3M569.25 283v3M569.25 364v6M569.25 379v3M574.25 340v3M576.75 340v3M576.75 364v3M576.75 391v3M579.25 358v3M579.25 364v3M579.25 385v6M581.75 388v3M584.25 352v3M584.25 361v3M584.25 370v3M584.25 400v3M586.75 394v3M589.25 394v3M589.25 403v2M591.75 397v3"/><path stroke="#63ff00" stroke-width="2.5" d="M371.75 385v6M374.25 403v2M376.75 379v3M379.25 376v6M381.75 391v3M381.75 397v3M386.75 394v6M389.25 394v11M394.25 370v3M396.75 370v3M396.75 379v3M396.75 388v3M396.75 403v2M399.25 397v3M419.25 391v3M424.25 379v3M424.25 397v3M426.75 391v6M439.25 376v3M441.75 388v3M441.75 394v3M441.75 400v3M444.25 391v3M446.75 403v2M449.25 385v3M451.75 400v5M454.25 400v3M456.75 394v6M464.25 382v3M464.25 388v3M466.75 397v3M471.75 391v3M474.25 403v2M476.75 394v3M479.25 373v3M479.25 379v3M479.25 391v3M481.75 370v3M484.25 376v3M484.25 400v3M491.75 370v3M499.25 385v3M504.25 388v3M506.75 397v3M509.25 385v3M536.75 343v3M539.25 376v3M539.25 403v2M541.75 340v3M541.75 352v3M541.75 376v3M544.25 301v3M544.25 325v6M544.25 352v9M544.25 370v6M546.75 346v3M546.75 373v6M546.75 385v3M546.75 403v2M551.75 346v3M551.75 352v3M551.75 370v3M551.75 388v3M551.75 400v3M556.75 349v3M556.75 364v3M556.75 382v3M556.75 397v3M559.25 352v3M559.25 361v3M559.25 373v3M559.25 391v3M561.75 343v6M561.75 352v3M564.25 274v3M564.25 283v3M566.75 340v3M566.75 376v3M566.75 385v6M566.75 397v3M566.75 403v2M569.25 340v3M569.25 361v3M569.25 370v3M571.75 361v3M571.75 394v3M574.25 358v3M576.75 343v3M579.25 343v3M581.75 361v3M584.25 343v3M586.75 358v3M591.75 361v3M591.75 403v2M594.25 340v3"/><path stroke="#00ff18" stroke-width="2.5" d="M371.75 394v3M374.25 337v3M374.25 361v3M374.25 388v6M376.75 337v6M376.75 355v3M376.75 361v3M376.75 385v3M379.25 388v3M381.75 352v3M384.25 364v3M384.25 379v3M384.25 403v2M386.75 364v3M386.75 388v3M389.25 358v3M389.25 385v3M391.75 367v3M391.75 373v3M391.75 379v3M391.75 388v3M394.25 385v3M394.25 403v2M399.25 394v3M399.25 400v3M401.75 358v3M401.75 367v3M401.75 373v3M401.75 379v3M401.75 403v2M404.25 364v3M404.25 379v3M406.75 367v6M406.75 382v3M406.75 391v3M406.75 400v5M409.25 364v3M409.25 376v3M409.25 388v3M409.25 397v3M409.25 403v2M411.75 373v3M411.75 385v3M411.75 400v3M414.25 385v3M414.25 397v3M416.75 367v3M416.75 382v3M419.25 397v3M421.75 388v3M424.25 337v3M424.25 364v3M426.75 388v3M429.25 382v3M429.25 388v3M434.25 382v3M436.75 385v3M436.75 391v3M439.25 379v3M441.75 385v3M444.25 346v3M444.25 364v6M449.25 379v3M451.75 337v3M451.75 349v3M451.75 379v3M451.75 397v3M454.25 403v2M456.75 385v9M459.25 394v3M461.75 397v3M464.25 379v3M464.25 394v3M464.25 400v3M466.75 382v3M466.75 394v3M469.25 388v3M474.25 397v3M476.75 373v6M476.75 382v3M476.75 403v2M479.25 364v3M479.25 370v3M484.25 367v3M504.25 283v3M506.75 388v3M509.25 382v3M514.25 385v3M514.25 394v3M514.25 400v5M531.75 334v3M534.25 352v3M534.25 358v3M536.75 316v3M536.75 328v3M536.75 337v3M536.75 346v3M536.75 370v3M536.75 379v3M539.25 328v3M539.25 349v6M539.25 367v3M539.25 391v3M539.25 397v3M541.75 283v3M541.75 316v3M541.75 325v3M541.75 358v6M541.75 367v3M541.75 373v3M544.25 280v3M544.25 295v3M546.75 325v3M549.25 349v3M549.25 358v3M551.75 304v3M551.75 322v12M561.75 337v6M561.75 355v3M564.25 208v3M569.25 259v6M569.25 268v3M569.25 328v3M571.75 370v9M574.25 361v6M574.25 391v6M574.25 403v2M576.75 313v3M576.75 337v3M576.75 373v6M576.75 382v3M576.75 388v3M579.25 265v6M579.25 373v3M579.25 382v3M579.25 391v3M581.75 337v3M581.75 367v6M584.25 346v3M584.25 358v3M584.25 376v3M584.25 385v6M586.75 355v3M586.75 373v3M589.25 373v3M589.25 388v3M591.75 247v3M591.75 340v6M591.75 400v3"/><path stroke="#40ff00" stroke-width="2.5" d="M371.75 397v3M379.25 373v3M379.25 400v3M381.75 382v3M381.75 388v3M384.25 382v3M386.75 367v3M386.75 400v5M389.25 364v3M391.75 394v6M394.25 364v3M394.25 376v3M394.25 394v3M396.75 400v3M404.25 376v3M406.75 385v3M414.25 388v3M416.75 394v9M419.25 394v3M421.75 394v3M424.25 370v3M424.25 382v3M424.25 391v3M426.75 382v6M436.75 400v3M439.25 391v3M439.25 400v5M441.75 391v3M441.75 397v3M444.25 382v6M444.25 403v2M446.75 394v6M449.25 391v3M451.75 394v3M456.75 400v3M459.25 391v3M459.25 397v3M459.25 403v2M464.25 403v2M466.75 388v3M469.25 394v6M474.25 388v3M476.75 391v3M484.25 370v3M486.75 370v3M496.75 382v3M504.25 280v3M504.25 379v3M506.75 391v3M506.75 400v3M509.25 388v6M509.25 400v5M511.75 391v3M534.25 343v3M536.75 352v3M539.25 382v3M541.75 322v3M541.75 331v6M541.75 343v3M541.75 364v3M544.25 343v3M544.25 349v3M544.25 361v3M546.75 322v3M546.75 361v3M546.75 370v3M546.75 397v3M549.25 379v3M551.75 334v3M554.25 346v3M556.75 343v3M556.75 376v3M559.25 346v3M559.25 358v3M559.25 367v3M559.25 376v3M559.25 382v3M559.25 400v3M561.75 367v3M561.75 391v3M561.75 397v6M564.25 235v3M564.25 247v3M564.25 265v3M566.75 394v3M569.25 376v3M569.25 403v2M571.75 262v3M571.75 337v3M571.75 364v3M571.75 379v3M571.75 391v3M571.75 403v2M574.25 337v3M574.25 367v3M579.25 394v3M581.75 340v3M581.75 349v3M581.75 364v3M581.75 397v6M584.25 382v3M584.25 394v3M584.25 403v2M586.75 346v3M586.75 352v3M589.25 346v3M589.25 367v3M589.25 400v3M594.25 346v3"/><path stroke="#009bff" stroke-width="2.5" d="M374.25 298v3M376.75 304v3M376.75 319v3M381.75 304v3M381.75 313v3M381.75 319v6M384.25 313v3M384.25 319v3M384.25 325v3M386.75 313v9M389.25 313v6M389.25 322v3M391.75 313v6M394.25 316v3M396.75 313v9M399.25 316v3M401.75 313v12M404.25 316v6M406.75 313v3M406.75 322v3M411.75 322v3M424.25 241v15M424.25 259v3M424.25 274v12M424.25 289v6M424.25 298v6M426.75 235v6M426.75 244v3M426.75 250v12M426.75 271v6M426.75 280v3M426.75 286v15M426.75 304v3M429.25 298v3M429.25 316v3M429.25 334v3M431.75 277v3M431.75 283v3M434.25 301v3M441.75 229v3M441.75 289v3M441.75 301v3M444.25 256v6M446.75 292v12M449.25 259v6M449.25 286v3M449.25 304v3M451.75 259v3M451.75 316v3M454.25 250v3M454.25 256v6M454.25 283v3M454.25 289v3M454.25 304v3M454.25 334v3M456.75 256v12M456.75 301v3M456.75 331v3M459.25 247v9M459.25 271v3M459.25 289v9M461.75 259v3M461.75 265v3M461.75 289v6M461.75 298v3M461.75 322v3M464.25 247v3M464.25 301v3M466.75 250v3M466.75 295v3M466.75 304v3M469.25 217v3M469.25 226v3M469.25 241v9M469.25 256v3M469.25 298v9M471.75 226v3M471.75 241v3M474.25 238v3M474.25 256v3M474.25 292v3M476.75 235v3M479.25 238v3M481.75 223v3M484.25 220v3M484.25 229v6M486.75 220v9M486.75 334v3M486.75 340v3M486.75 352v3M489.25 220v3M491.75 217v3M494.25 214v3M494.25 220v3M494.25 235v3M494.25 253v3M496.75 217v3M499.25 211v3M499.25 217v3M499.25 226v3M499.25 232v3M499.25 241v3M501.75 223v15M504.25 208v3M504.25 214v3M504.25 229v3M506.75 184v3M506.75 208v3M506.75 217v15M506.75 355v3M509.25 208v12M509.25 229v3M509.25 346v3M511.75 208v3M511.75 220v3M511.75 349v3M514.25 223v9M514.25 337v3M514.25 343v3M514.25 349v3M516.75 208v9M519.25 208v3M521.75 220v9M524.25 226v3M524.25 235v3M524.25 355v3M526.75 220v3M526.75 343v3M529.25 220v9M531.75 229v3M534.25 229v3M536.75 232v3M539.25 235v3M541.75 223v3M544.25 229v3M546.75 244v6M549.25 235v3M551.75 232v3M551.75 238v3M556.75 238v6M556.75 247v3M559.25 244v3M559.25 253v3M561.75 244v3M564.25 142v3M569.25 184v3M569.25 244v3M571.75 184v3M571.75 244v6M579.25 250v3M581.75 253v6M584.25 259v6M584.25 331v3M589.25 262v3"/><path stroke="#00ff55" stroke-width="2.5" d="M374.25 364v3M374.25 400v3M376.75 343v3M376.75 349v3M376.75 358v3M376.75 388v3M376.75 400v3M379.25 349v3M381.75 349v3M381.75 361v3M384.25 358v3M386.75 340v3M386.75 346v3M389.25 349v3M389.25 355v3M391.75 355v3M391.75 382v3M394.25 337v3M394.25 343v3M394.25 349v3M396.75 352v3M399.25 337v3M399.25 367v9M399.25 385v3M401.75 343v6M401.75 352v3M401.75 376v3M404.25 355v3M404.25 388v3M404.25 394v3M406.75 349v6M406.75 364v3M406.75 376v3M409.25 358v3M411.75 337v3M411.75 361v3M416.75 364v3M416.75 376v3M419.25 337v3M419.25 373v6M421.75 352v3M421.75 361v3M421.75 370v3M424.25 355v3M426.75 340v3M426.75 367v3M426.75 373v3M426.75 379v3M429.25 397v6M431.75 364v3M431.75 370v3M431.75 385v3M434.25 328v6M436.75 367v6M436.75 376v3M436.75 382v3M439.25 328v3M439.25 343v3M439.25 349v3M439.25 364v3M439.25 370v3M441.75 340v3M441.75 379v3M444.25 337v3M444.25 358v3M446.75 382v3M449.25 346v6M451.75 355v3M451.75 370v3M454.25 340v3M454.25 346v3M456.75 337v3M456.75 343v3M456.75 376v3M459.25 340v3M461.75 340v3M461.75 346v3M461.75 373v3M461.75 385v3M464.25 340v3M464.25 349v3M464.25 373v6M469.25 337v6M469.25 379v3M471.75 373v3M471.75 382v6M474.25 322v9M481.75 364v3M484.25 280v3M486.75 283v3M486.75 313v3M489.25 301v3M491.75 295v3M494.25 298v3M499.25 286v3M499.25 367v3M501.75 373v6M504.25 253v3M504.25 271v3M504.25 301v3M504.25 334v3M504.25 376v3M506.75 382v3M509.25 268v3M509.25 283v3M509.25 313v6M509.25 379v3M511.75 313v3M511.75 388v3M514.25 277v3M516.75 271v3M516.75 319v3M516.75 370v3M516.75 379v3M516.75 385v6M516.75 397v3M519.25 316v3M519.25 379v3M519.25 394v6M521.75 373v3M524.25 271v3M524.25 382v3M524.25 400v3M526.75 250v3M526.75 268v3M526.75 391v3M526.75 397v3M529.25 289v3M529.25 334v3M529.25 340v3M529.25 349v6M529.25 382v3M529.25 400v3M531.75 313v3M531.75 340v3M531.75 361v3M531.75 379v3M531.75 400v3M534.25 376v3M536.75 286v3M536.75 394v3M539.25 304v3M539.25 325v3M539.25 358v9M541.75 265v3M544.25 289v3M546.75 283v6M546.75 292v3M546.75 319v3M549.25 313v3M549.25 319v6M549.25 355v3M551.75 271v3M551.75 283v6M551.75 298v3M551.75 316v3M554.25 292v3M556.75 274v3M556.75 280v3M556.75 301v3M556.75 316v3M559.25 289v3M559.25 304v3M559.25 319v6M561.75 286v3M561.75 292v6M561.75 313v3M561.75 319v3M564.25 214v3M566.75 292v3M566.75 304v3M566.75 325v3M566.75 331v3M569.25 253v3M569.25 277v3M569.25 286v3M569.25 313v3M569.25 325v3M571.75 295v9M571.75 316v6M574.25 265v6M574.25 292v6M574.25 328v3M574.25 376v3M576.75 265v3M576.75 289v3M576.75 304v3M579.25 271v3M579.25 301v3M579.25 379v3M581.75 379v3M586.75 379v3M589.25 232v6M589.25 250v3M591.75 259v3M591.75 373v3M591.75 394v3M594.25 232v3M594.25 238v3M594.25 247v6M594.25 256v3M594.25 316v3M594.25 379v3M594.25 403v2M596.75 391v3M596.75 403v2"/><path stroke="#aaff00" stroke-width="2.5" d="M374.25 376v3M381.75 373v3M384.25 376v3M389.25 379v3M396.75 373v3M396.75 391v3M409.25 385v3M409.25 400v3M421.75 391v3M444.25 400v3M449.25 394v3M474.25 391v3M479.25 376v3M479.25 388v3M479.25 403v2M481.75 388v3M484.25 382v3M489.25 373v3M491.75 403v2M494.25 379v3M494.25 403v2M499.25 382v3M499.25 388v3M501.75 388v3M501.75 403v2M506.75 394v3M509.25 394v6M536.75 349v3M541.75 391v6M544.25 331v3M544.25 376v3M546.75 328v3M546.75 340v6M546.75 388v3M546.75 400v3M549.25 391v3M549.25 397v6M551.75 355v3M551.75 361v3M551.75 367v3M551.75 385v3M551.75 397v3M551.75 403v2M554.25 355v3M554.25 367v3M556.75 355v3M556.75 361v3M556.75 370v3M556.75 391v3M556.75 400v3M559.25 397v3M559.25 403v2M564.25 271v3M564.25 280v3M566.75 346v3M566.75 355v3M566.75 364v3M566.75 400v3M569.25 388v3M576.75 346v3M576.75 358v3M579.25 346v3M579.25 355v3M581.75 352v3M581.75 394v3M584.25 397v3M589.25 364v3"/><path stroke="#00ff41" stroke-width="2.5" d="M376.75 346v3M376.75 352v3M376.75 364v3M376.75 391v9M379.25 340v3M379.25 346v3M379.25 352v3M381.75 346v3M381.75 358v3M384.25 397v3M389.25 346v3M391.75 358v3M391.75 376v3M394.25 352v3M396.75 349v3M399.25 358v3M399.25 364v3M399.25 376v3M399.25 391v3M401.75 361v3M401.75 382v3M401.75 394v3M404.25 358v3M404.25 367v3M406.75 337v3M406.75 355v6M406.75 373v3M406.75 397v3M409.25 346v6M409.25 361v3M409.25 370v6M409.25 379v3M411.75 343v3M411.75 358v3M411.75 397v3M414.25 382v3M414.25 403v2M416.75 361v3M419.25 403v2M421.75 367v3M424.25 361v3M424.25 367v3M426.75 358v3M426.75 376v3M431.75 376v3M431.75 403v2M434.25 313v3M434.25 319v6M434.25 337v3M434.25 358v3M436.75 313v3M436.75 319v3M436.75 373v3M436.75 379v3M436.75 403v2M439.25 355v9M441.75 325v3M441.75 337v3M441.75 355v3M441.75 376v3M444.25 313v6M444.25 322v3M446.75 373v3M446.75 379v3M446.75 385v3M449.25 376v3M451.75 343v3M451.75 358v12M451.75 373v3M454.25 337v3M454.25 349v6M454.25 373v3M454.25 382v3M456.75 346v3M456.75 373v3M456.75 379v3M459.25 343v6M459.25 379v3M461.75 379v3M461.75 388v3M461.75 394v3M464.25 337v3M466.75 379v3M469.25 385v3M474.25 313v3M474.25 319v3M474.25 376v3M484.25 277v3M486.75 367v3M489.25 292v3M491.75 319v3M494.25 292v3M494.25 313v3M496.75 367v6M499.25 277v3M499.25 298v3M499.25 313v3M499.25 373v3M504.25 277v3M504.25 286v3M504.25 292v3M504.25 316v3M509.25 274v3M509.25 304v3M509.25 325v6M511.75 283v3M516.75 304v3M516.75 391v3M516.75 403v2M519.25 382v6M521.75 379v9M524.25 283v3M526.75 280v3M526.75 385v3M526.75 400v3M529.25 376v3M531.75 280v3M531.75 328v3M531.75 343v3M531.75 376v3M531.75 391v3M534.25 319v3M534.25 340v3M534.25 346v3M534.25 370v3M534.25 385v3M534.25 400v3M536.75 301v3M536.75 319v3M536.75 364v3M536.75 391v3M536.75 397v3M536.75 403v2M539.25 313v6M539.25 322v3M539.25 331v3M539.25 343v3M539.25 370v3M539.25 394v3M541.75 286v6M541.75 295v9M541.75 313v3M541.75 349v3M544.25 286v3M544.25 346v3M546.75 298v6M549.25 304v3M549.25 361v3M551.75 301v3M551.75 313v3M554.25 280v3M556.75 265v3M556.75 271v3M556.75 277v3M556.75 328v6M559.25 295v3M564.25 220v3M566.75 268v3M566.75 286v3M566.75 295v3M566.75 334v3M569.25 301v3M571.75 265v12M571.75 280v3M571.75 289v3M571.75 325v3M574.25 262v3M574.25 298v3M574.25 385v6M576.75 370v3M576.75 379v3M576.75 394v3M576.75 403v2M579.25 280v3M579.25 298v3M579.25 337v3M581.75 301v3M581.75 376v3M581.75 382v3M586.75 376v3M586.75 391v3M586.75 400v3M589.25 247v3M589.25 259v3M589.25 319v3M589.25 379v3M589.25 385v3M589.25 397v3M591.75 253v3M591.75 319v3M594.25 397v6M596.75 394v3"/><path stroke="#00ff92" stroke-width="2.5" d="M376.75 403v2M381.75 340v3M384.25 340v6M386.75 343v3M389.25 343v3M396.75 343v6M404.25 346v3M404.25 397v3M411.75 340v3M416.75 337v6M416.75 346v6M419.25 340v3M419.25 349v3M419.25 358v3M419.25 370v3M421.75 340v3M424.25 349v6M429.25 349v3M429.25 364v6M434.25 346v6M434.25 364v3M436.75 226v9M436.75 241v3M436.75 274v3M436.75 286v6M439.25 271v3M439.25 277v3M439.25 313v6M439.25 331v3M439.25 346v3M441.75 316v3M441.75 328v3M441.75 334v3M441.75 343v3M441.75 352v3M441.75 370v3M444.25 274v3M444.25 280v3M444.25 340v3M446.75 346v3M446.75 370v3M449.25 343v3M449.25 352v3M449.25 367v3M451.75 274v3M454.25 355v6M454.25 370v3M459.25 355v3M459.25 373v3M461.75 358v3M464.25 313v3M464.25 361v6M466.75 337v3M466.75 349v3M469.25 349v3M469.25 373v3M469.25 382v3M471.75 376v3M474.25 268v3M474.25 331v3M474.25 355v3M474.25 370v3M476.75 274v3M476.75 280v3M476.75 331v3M479.25 280v6M479.25 313v6M479.25 331v3M481.75 280v3M481.75 286v3M484.25 265v3M484.25 271v3M484.25 295v3M484.25 316v3M486.75 298v6M486.75 316v3M489.25 298v3M489.25 304v3M489.25 358v3M491.75 271v6M491.75 286v3M491.75 298v3M494.25 274v3M494.25 328v3M494.25 334v3M494.25 358v3M494.25 364v3M496.75 313v3M496.75 322v3M499.25 319v3M499.25 334v3M499.25 346v3M501.75 265v3M501.75 274v6M501.75 298v6M501.75 319v3M504.25 265v3M504.25 319v6M504.25 358v3M504.25 364v3M504.25 373v3M506.75 280v6M506.75 292v3M506.75 316v3M509.25 256v3M509.25 265v3M509.25 292v3M509.25 301v3M509.25 319v3M509.25 331v3M509.25 370v3M509.25 376v3M511.75 253v3M511.75 262v3M511.75 268v6M511.75 280v3M511.75 295v3M511.75 322v3M511.75 361v3M511.75 376v3M514.25 250v3M514.25 286v3M514.25 313v3M516.75 241v3M516.75 253v3M516.75 262v3M516.75 337v3M516.75 361v3M516.75 367v3M519.25 274v6M519.25 283v9M519.25 301v3M519.25 325v3M519.25 361v3M519.25 376v3M521.75 265v3M521.75 274v3M521.75 280v3M521.75 286v3M521.75 313v6M521.75 370v3M521.75 388v3M524.25 256v3M524.25 262v3M524.25 274v3M524.25 292v3M524.25 328v3M524.25 334v3M524.25 376v6M524.25 394v3M526.75 256v3M526.75 271v6M526.75 298v6M526.75 322v3M526.75 331v3M526.75 376v3M526.75 382v3M529.25 295v3M529.25 313v6M529.25 322v3M529.25 328v3M529.25 343v3M529.25 367v6M529.25 379v3M531.75 274v3M531.75 298v6M531.75 364v3M531.75 373v3M531.75 394v3M534.25 259v3M534.25 271v3M534.25 283v3M534.25 292v3M534.25 301v3M534.25 322v6M534.25 367v3M534.25 397v3M536.75 256v3M536.75 280v3M536.75 289v3M536.75 385v3M539.25 256v3M539.25 283v9M539.25 295v6M541.75 271v3M544.25 253v6M544.25 271v3M546.75 265v6M546.75 274v3M551.75 262v6M554.25 265v3M554.25 313v3M554.25 322v3M556.75 268v3M556.75 289v3M556.75 295v3M556.75 319v3M559.25 268v3M559.25 280v3M561.75 268v9M561.75 322v3M561.75 328v3M566.75 259v3M566.75 319v3M569.25 274v3M569.25 322v3M571.75 256v3M571.75 283v3M571.75 292v3M574.25 259v3M574.25 316v3M574.25 331v3M576.75 259v3M576.75 274v3M576.75 316v3M576.75 325v6M579.25 292v3M579.25 304v3M579.25 322v3M581.75 277v3M581.75 283v3M581.75 292v3M581.75 322v3M584.25 301v3M584.25 337v3M586.75 298v3M586.75 337v3M589.25 274v3M589.25 280v3M589.25 286v3M589.25 376v3M591.75 235v3M591.75 241v3M591.75 298v3M591.75 376v9M594.25 262v3M594.25 298v3M596.75 286v3M596.75 379v3M596.75 397v3"/><path stroke="#00ff7d" stroke-width="2.5" d="M379.25 337v3M379.25 355v3M381.75 337v3M386.75 355v3M391.75 346v9M396.75 340v3M399.25 340v3M399.25 346v3M401.75 337v3M401.75 349v3M406.75 343v3M409.25 337v6M409.25 355v3M411.75 364v3M414.25 343v3M414.25 358v3M416.75 343v3M416.75 355v3M419.25 346v3M419.25 355v3M419.25 361v9M421.75 346v3M424.25 340v3M426.75 352v6M426.75 370v3M429.25 343v3M429.25 370v6M429.25 379v3M431.75 349v3M431.75 355v6M431.75 373v3M431.75 382v3M434.25 343v3M434.25 355v3M436.75 265v3M436.75 283v3M436.75 298v3M436.75 316v3M436.75 328v3M436.75 361v3M439.25 322v3M441.75 313v3M441.75 331v3M441.75 346v3M441.75 361v3M444.25 283v3M444.25 343v3M444.25 349v9M446.75 340v6M449.25 337v6M449.25 370v6M451.75 268v3M451.75 340v3M454.25 367v3M454.25 376v3M456.75 352v3M459.25 337v3M459.25 349v3M459.25 382v3M461.75 349v3M461.75 376v3M461.75 382v3M464.25 352v3M464.25 367v3M466.75 346v3M466.75 367v3M466.75 373v6M469.25 346v3M471.75 271v3M471.75 277v3M471.75 370v3M474.25 265v3M474.25 367v3M476.75 313v3M476.75 319v3M476.75 364v3M479.25 271v3M479.25 277v3M479.25 325v3M479.25 358v3M481.75 271v6M481.75 316v3M481.75 367v3M484.25 268v3M484.25 292v3M484.25 313v3M484.25 364v3M489.25 283v3M489.25 289v3M489.25 313v3M489.25 319v3M489.25 361v6M491.75 283v3M491.75 289v3M491.75 304v3M491.75 313v3M491.75 328v9M494.25 271v3M494.25 295v3M494.25 319v3M496.75 280v3M496.75 286v3M496.75 292v3M496.75 316v3M496.75 361v3M499.25 274v3M499.25 331v3M499.25 337v3M501.75 283v3M501.75 313v6M501.75 367v6M504.25 268v3M504.25 370v3M506.75 265v3M506.75 271v6M506.75 286v3M509.25 253v3M509.25 259v3M509.25 280v3M509.25 289v3M511.75 259v3M511.75 265v3M511.75 292v3M511.75 325v3M511.75 370v6M514.25 283v3M514.25 289v3M514.25 298v3M514.25 316v6M514.25 376v3M514.25 382v3M516.75 259v3M516.75 268v3M516.75 277v3M516.75 301v3M516.75 322v6M516.75 334v3M519.25 400v5M521.75 271v3M521.75 325v3M521.75 334v3M521.75 367v3M524.25 250v3M524.25 388v3M526.75 259v3M526.75 265v3M526.75 277v3M526.75 286v3M526.75 313v3M526.75 370v3M526.75 379v3M526.75 394v3M529.25 250v3M529.25 262v3M529.25 280v3M529.25 292v3M529.25 304v3M529.25 319v3M529.25 373v3M529.25 385v3M529.25 397v3M529.25 403v2M531.75 331v3M531.75 346v3M531.75 358v3M531.75 370v3M531.75 382v3M531.75 388v3M531.75 397v3M534.25 268v3M534.25 277v3M534.25 289v3M534.25 328v3M534.25 373v3M534.25 394v3M536.75 265v3M536.75 274v3M536.75 304v3M536.75 313v3M541.75 274v3M546.75 271v3M546.75 277v3M549.25 277v12M549.25 295v3M549.25 301v3M551.75 280v3M551.75 292v3M551.75 319v3M554.25 259v3M554.25 277v3M554.25 283v6M554.25 304v3M554.25 316v6M559.25 262v6M559.25 274v3M559.25 325v3M561.75 265v3M561.75 283v3M564.25 166v3M564.25 217v3M566.75 262v3M566.75 277v9M566.75 298v3M566.75 328v3M569.25 256v3M569.25 319v3M571.75 277v3M571.75 322v3M574.25 271v3M574.25 319v3M574.25 325v3M574.25 334v3M574.25 379v3M576.75 262v3M576.75 286v3M576.75 301v3M579.25 277v3M579.25 283v3M579.25 313v3M581.75 298v3M581.75 331v6M584.25 283v3M584.25 298v3M586.75 295v3M586.75 322v6M586.75 382v3M589.25 238v6M589.25 295v9M589.25 313v3M589.25 382v3M591.75 232v3M594.25 244v3M594.25 253v3M594.25 271v9M594.25 385v6M596.75 280v3"/><path stroke="#00ff2d" stroke-width="2.5" d="M379.25 358v12M381.75 355v3M381.75 364v3M381.75 403v2M384.25 355v3M386.75 352v3M386.75 358v3M386.75 373v3M386.75 385v3M389.25 352v3M389.25 361v3M389.25 367v3M394.25 358v6M394.25 400v3M396.75 358v9M399.25 355v3M399.25 361v3M399.25 379v6M399.25 388v3M401.75 364v3M401.75 397v3M404.25 361v3M404.25 370v3M404.25 385v3M404.25 391v3M406.75 361v3M406.75 379v3M409.25 367v3M411.75 370v3M411.75 376v3M411.75 388v3M411.75 394v3M414.25 370v6M414.25 379v3M414.25 400v3M416.75 373v3M419.25 382v3M421.75 358v3M421.75 373v3M424.25 358v3M424.25 373v6M426.75 361v6M429.25 385v3M429.25 391v3M431.75 388v6M434.25 316v3M434.25 325v3M434.25 367v3M434.25 376v3M434.25 394v3M434.25 403v2M436.75 388v3M439.25 367v3M441.75 373v3M444.25 325v3M444.25 370v6M446.75 349v3M451.75 346v3M451.75 385v3M454.25 343v3M454.25 394v3M456.75 382v3M459.25 385v3M461.75 391v3M461.75 403v2M464.25 343v3M466.75 370v3M469.25 391v3M469.25 400v3M471.75 319v3M471.75 379v3M471.75 388v3M474.25 373v3M474.25 382v6M479.25 361v3M479.25 367v3M484.25 283v3M486.75 280v3M491.75 364v3M494.25 280v6M494.25 289v3M494.25 367v3M496.75 373v3M499.25 280v6M499.25 289v3M499.25 301v3M499.25 316v3M499.25 376v3M501.75 379v3M501.75 385v3M504.25 382v3M506.75 379v3M511.75 385v3M511.75 394v3M511.75 400v3M514.25 388v6M516.75 394v3M521.75 376v3M521.75 394v3M526.75 388v3M526.75 403v2M531.75 337v3M531.75 403v2M534.25 331v3M534.25 355v3M534.25 361v6M534.25 379v3M534.25 403v2M536.75 325v3M536.75 331v3M536.75 367v3M536.75 382v3M536.75 388v3M536.75 400v3M539.25 319v3M539.25 334v9M539.25 355v3M539.25 373v3M544.25 283v3M544.25 292v3M544.25 319v6M546.75 295v3M546.75 304v3M549.25 298v3M549.25 340v3M549.25 367v3M554.25 331v3M556.75 286v3M556.75 292v3M556.75 334v3M559.25 292v3M559.25 328v3M559.25 337v3M561.75 298v3M564.25 223v6M564.25 241v3M566.75 301v3M569.25 271v3M569.25 289v3M569.25 304v3M571.75 259v3M571.75 304v3M571.75 313v3M574.25 286v3M574.25 313v3M574.25 370v6M574.25 400v3M576.75 298v3M576.75 385v3M576.75 397v3M579.25 370v3M581.75 304v3M581.75 373v3M581.75 385v3M584.25 340v3M584.25 349v3M584.25 373v3M586.75 364v3M586.75 385v6M586.75 397v3M589.25 391v3M591.75 367v3M594.25 259v3M594.25 391v6M596.75 400v3"/><path stroke="#00ffa6" stroke-width="2.5" d="M384.25 337v3M384.25 352v3M391.75 337v3M391.75 343v3M394.25 346v3M396.75 337v3M399.25 343v3M401.75 355v3M404.25 340v3M406.75 346v3M411.75 349v9M414.25 337v3M416.75 352v3M419.25 352v3M421.75 343v3M421.75 355v3M424.25 346v3M426.75 343v3M429.25 337v3M429.25 346v3M429.25 352v6M429.25 361v3M431.75 319v3M431.75 334v6M431.75 343v6M431.75 367v3M434.25 241v3M434.25 250v3M434.25 292v6M434.25 340v3M434.25 352v3M436.75 244v3M436.75 277v3M436.75 292v3M436.75 334v3M436.75 346v12M439.25 340v3M439.25 352v3M441.75 271v3M441.75 322v3M444.25 268v3M444.25 331v6M446.75 274v3M446.75 280v3M446.75 352v3M446.75 367v3M449.25 331v3M449.25 358v3M451.75 265v3M451.75 325v3M451.75 334v3M456.75 367v3M459.25 274v3M459.25 364v3M461.75 364v3M464.25 319v3M464.25 325v3M464.25 331v3M464.25 358v3M466.75 277v3M466.75 319v6M466.75 340v3M466.75 355v6M469.25 325v3M469.25 364v9M471.75 280v6M471.75 316v3M471.75 322v6M471.75 331v3M474.25 259v3M474.25 364v3M476.75 271v3M476.75 277v3M476.75 283v3M476.75 316v3M476.75 358v6M479.25 253v3M481.75 265v3M481.75 283v3M481.75 301v3M481.75 322v3M481.75 358v3M484.25 298v3M484.25 319v3M484.25 340v3M484.25 361v3M486.75 265v3M486.75 274v3M486.75 292v3M486.75 304v3M489.25 268v3M489.25 280v3M489.25 295v3M489.25 316v3M489.25 322v6M489.25 346v3M489.25 355v3M491.75 268v3M491.75 280v3M491.75 325v3M491.75 337v3M491.75 346v3M491.75 355v6M494.25 265v6M494.25 277v3M494.25 304v3M494.25 316v3M494.25 322v3M494.25 331v3M494.25 361v3M496.75 259v12M496.75 274v6M496.75 283v3M496.75 298v3M496.75 358v3M496.75 364v3M499.25 268v3M499.25 295v3M499.25 328v3M499.25 343v3M501.75 262v3M501.75 268v6M501.75 292v3M501.75 304v3M504.25 250v3M504.25 256v3M504.25 262v3M504.25 274v3M504.25 295v6M504.25 331v3M506.75 262v3M506.75 268v3M506.75 277v3M506.75 313v3M506.75 376v3M509.25 271v3M509.25 277v3M509.25 295v6M509.25 334v3M509.25 361v3M509.25 367v3M511.75 274v6M511.75 289v3M511.75 298v3M511.75 331v6M511.75 364v3M514.25 265v3M514.25 274v3M514.25 295v3M514.25 325v6M516.75 247v3M516.75 256v3M516.75 274v3M516.75 298v3M516.75 331v3M516.75 358v3M516.75 364v3M519.25 268v3M519.25 292v3M519.25 298v3M519.25 334v3M519.25 340v3M521.75 244v3M521.75 250v3M521.75 256v3M521.75 262v3M521.75 268v3M521.75 289v3M521.75 301v3M521.75 322v3M521.75 328v6M521.75 337v3M521.75 349v3M521.75 364v3M524.25 253v3M524.25 268v3M524.25 277v3M524.25 289v3M524.25 331v3M524.25 367v3M524.25 373v3M524.25 403v2M526.75 247v3M526.75 262v3M526.75 325v3M526.75 367v3M529.25 259v3M529.25 268v3M529.25 274v6M529.25 283v6M529.25 298v6M529.25 325v3M529.25 331v3M529.25 394v3M531.75 259v6M531.75 277v3M531.75 292v3M534.25 265v3M534.25 286v3M534.25 295v3M534.25 313v3M536.75 262v3M536.75 298v3M539.25 277v3M539.25 292v3M541.75 250v3M541.75 262v3M544.25 265v3M546.75 262v3M551.75 259v3M554.25 271v3M554.25 301v3M559.25 256v3M559.25 283v6M561.75 262v3M561.75 277v3M564.25 169v12M564.25 205v3M564.25 211v3M566.75 289v3M566.75 316v3M569.25 316v3M571.75 253v3M574.25 274v3M576.75 271v3M576.75 280v3M576.75 319v3M579.25 259v3M579.25 274v3M579.25 289v3M579.25 319v3M581.75 265v3M581.75 280v3M581.75 319v3M584.25 277v3M584.25 289v3M584.25 295v3M586.75 328v3M586.75 340v3M589.25 289v3M594.25 283v3M594.25 292v3M596.75 388v3"/><path stroke="#00ffba" stroke-width="2.5" d="M384.25 346v3M404.25 343v3M411.75 346v3M414.25 346v6M414.25 355v3M414.25 364v3M421.75 337v3M426.75 346v3M431.75 313v3M431.75 322v6M431.75 352v3M431.75 361v3M434.25 298v3M436.75 337v3M436.75 343v3M439.25 274v3M439.25 283v3M439.25 289v3M441.75 268v3M441.75 295v3M444.25 277v3M444.25 289v3M446.75 265v3M446.75 283v3M446.75 325v3M446.75 337v3M446.75 355v3M446.75 364v3M449.25 268v9M449.25 319v3M449.25 325v3M449.25 355v3M449.25 361v6M451.75 283v3M451.75 331v3M454.25 361v3M456.75 358v6M459.25 262v3M459.25 268v3M459.25 352v3M459.25 358v3M459.25 370v3M461.75 352v3M461.75 361v3M461.75 370v3M464.25 277v3M464.25 322v3M466.75 274v3M466.75 316v3M466.75 325v3M469.25 361v3M471.75 256v3M471.75 262v3M471.75 274v3M471.75 289v3M471.75 313v3M471.75 334v3M471.75 340v3M474.25 262v3M474.25 334v3M474.25 361v3M476.75 259v3M476.75 265v6M476.75 328v3M479.25 268v3M479.25 274v3M479.25 289v3M479.25 301v6M479.25 319v6M479.25 355v3M481.75 262v3M481.75 295v6M481.75 325v9M481.75 352v3M484.25 256v3M484.25 262v3M484.25 301v3M484.25 358v3M486.75 268v6M486.75 277v3M486.75 295v3M489.25 265v3M489.25 271v3M489.25 328v3M489.25 334v6M489.25 349v3M491.75 256v3M491.75 262v6M491.75 277v3M491.75 301v3M494.25 337v3M494.25 355v3M496.75 301v3M496.75 328v3M496.75 340v3M499.25 256v3M499.25 271v3M499.25 322v3M499.25 349v3M499.25 361v6M501.75 247v3M501.75 253v3M501.75 295v3M501.75 322v6M501.75 340v3M506.75 250v3M506.75 259v3M506.75 301v3M506.75 319v3M509.25 358v3M509.25 364v3M511.75 301v6M511.75 328v3M514.25 241v6M514.25 256v6M514.25 271v3M514.25 292v3M514.25 331v3M514.25 361v3M516.75 244v3M516.75 250v3M516.75 286v6M519.25 232v3M519.25 259v3M519.25 265v3M519.25 295v3M519.25 319v6M519.25 328v3M519.25 337v3M519.25 358v3M519.25 364v3M519.25 370v6M521.75 253v3M521.75 259v3M521.75 295v3M524.25 259v3M524.25 265v3M524.25 280v3M524.25 286v3M524.25 319v9M524.25 349v3M524.25 391v3M524.25 397v3M526.75 253v3M526.75 283v3M526.75 328v3M526.75 352v3M526.75 358v3M529.25 241v3M529.25 247v3M529.25 391v3M531.75 265v3M531.75 283v6M531.75 295v3M531.75 304v3M534.25 241v3M534.25 250v3M534.25 256v3M534.25 262v3M534.25 274v3M536.75 250v6M536.75 259v3M539.25 253v3M539.25 280v3M541.75 244v6M541.75 253v3M541.75 277v3M544.25 235v3M544.25 247v6M544.25 259v6M544.25 268v3M546.75 250v9M549.25 274v3M549.25 289v3M551.75 256v3M551.75 289v3M556.75 253v6M556.75 262v3M559.25 277v3M561.75 259v3M561.75 280v3M561.75 316v3M561.75 325v3M564.25 184v3M569.25 292v3M576.75 277v3M576.75 331v3M579.25 316v3M579.25 325v3M579.25 331v3M581.75 274v3M581.75 316v3M581.75 325v6M584.25 271v3M584.25 286v3M584.25 292v3M584.25 322v3M586.75 274v6M586.75 301v6M586.75 319v3M589.25 283v3M589.25 316v3M591.75 286v3M591.75 292v6M591.75 301v3M594.25 265v6M594.25 304v3M594.25 313v3M594.25 382v3M596.75 301v3"/><path stroke="#00ffce" stroke-width="2.5" d="M391.75 340v3M414.25 340v3M414.25 352v3M429.25 340v3M431.75 328v6M431.75 340v3M434.25 223v9M434.25 277v3M434.25 283v3M436.75 223v3M436.75 250v3M436.75 256v3M436.75 262v3M436.75 268v3M436.75 280v3M439.25 280v3M439.25 286v3M439.25 325v3M439.25 334v3M441.75 235v3M441.75 250v3M441.75 277v3M441.75 286v3M441.75 298v3M444.25 262v6M444.25 286v3M446.75 268v6M446.75 286v3M446.75 322v3M446.75 358v3M449.25 277v3M449.25 283v3M449.25 313v3M449.25 328v3M451.75 271v3M451.75 319v6M454.25 274v3M454.25 280v3M454.25 364v3M456.75 325v3M456.75 364v3M456.75 370v3M459.25 280v3M459.25 361v3M459.25 367v3M461.75 331v3M464.25 271v3M464.25 328v3M464.25 355v3M466.75 286v3M466.75 361v3M469.25 316v3M469.25 322v3M469.25 331v3M471.75 259v3M471.75 286v3M471.75 337v3M471.75 343v3M471.75 361v6M474.25 271v3M474.25 280v6M474.25 343v3M474.25 349v3M476.75 262v3M476.75 289v3M476.75 298v3M476.75 322v6M476.75 349v3M479.25 256v3M479.25 292v3M479.25 298v3M481.75 256v3M481.75 319v3M481.75 346v6M484.25 259v3M484.25 349v3M484.25 355v3M486.75 319v3M486.75 361v3M489.25 274v6M489.25 340v6M491.75 247v3M491.75 253v3M491.75 259v3M491.75 340v3M491.75 349v3M494.25 259v6M494.25 340v3M494.25 352v3M496.75 304v3M496.75 355v3M499.25 262v3M499.25 352v3M501.75 250v3M501.75 259v3M501.75 331v6M501.75 361v6M504.25 247v3M504.25 337v3M504.25 355v3M504.25 367v3M506.75 247v3M506.75 298v3M506.75 361v3M506.75 370v3M509.25 250v3M509.25 355v3M509.25 373v3M511.75 232v3M511.75 244v3M511.75 316v3M511.75 337v3M511.75 367v3M514.25 280v3M514.25 334v3M514.25 370v3M516.75 238v3M516.75 265v3M516.75 292v3M519.25 241v6M519.25 256v3M519.25 262v3M519.25 280v3M519.25 331v3M519.25 355v3M521.75 232v6M521.75 241v3M521.75 277v3M521.75 298v3M521.75 304v3M521.75 340v9M521.75 358v3M524.25 247v3M524.25 295v3M524.25 301v6M524.25 313v3M524.25 385v3M526.75 244v3M526.75 289v3M526.75 334v3M526.75 361v3M529.25 235v6M529.25 244v3M529.25 271v3M529.25 346v3M531.75 238v3M531.75 244v3M531.75 253v3M531.75 268v3M534.25 238v3M534.25 247v3M536.75 247v3M536.75 268v6M539.25 265v3M539.25 271v6M541.75 259v3M541.75 280v3M544.25 244v3M546.75 259v3M564.25 157v3M564.25 181v3M574.25 256v3M574.25 322v3M576.75 256v3M576.75 322v3M579.25 334v3M581.75 262v3M581.75 268v3M584.25 274v3M584.25 280v3M584.25 313v3M584.25 319v3M586.75 271v3M586.75 280v3M586.75 316v3M586.75 331v6M589.25 268v3M589.25 277v3M591.75 271v3M591.75 289v3M591.75 304v3M591.75 385v3M594.25 295v3M594.25 301v3M596.75 283v3M596.75 292v6M596.75 385v3"/><path stroke="#00ffe3" stroke-width="2.5" d="M429.25 358v3M434.25 232v9M434.25 247v3M434.25 253v3M434.25 262v9M434.25 289v3M436.75 235v3M436.75 253v3M436.75 340v3M439.25 268v3M441.75 232v3M441.75 238v6M441.75 256v3M441.75 262v3M441.75 274v3M441.75 283v3M446.75 334v3M446.75 361v3M449.25 289v3M449.25 316v3M451.75 277v6M454.25 265v6M454.25 325v3M456.75 313v3M456.75 319v3M456.75 355v3M459.25 265v3M459.25 331v3M461.75 313v3M464.25 262v9M464.25 289v3M466.75 268v3M466.75 280v3M466.75 289v3M466.75 343v3M469.25 259v3M469.25 274v6M469.25 286v3M469.25 319v3M469.25 328v3M469.25 355v3M471.75 247v3M471.75 253v3M471.75 265v3M471.75 292v3M471.75 301v6M471.75 367v3M474.25 250v3M474.25 286v3M474.25 340v3M474.25 358v3M476.75 253v3M476.75 286v3M476.75 301v6M476.75 334v9M476.75 346v3M476.75 352v6M479.25 247v3M479.25 265v3M479.25 286v3M479.25 328v3M479.25 334v3M481.75 241v3M481.75 253v3M481.75 259v3M481.75 277v3M481.75 289v6M481.75 304v3M481.75 334v3M484.25 241v6M484.25 250v6M484.25 328v9M486.75 358v3M489.25 253v6M489.25 331v3M491.75 235v3M491.75 250v3M491.75 292v3M491.75 343v3M494.25 238v3M494.25 325v3M494.25 349v3M496.75 250v3M496.75 256v3M496.75 334v3M496.75 352v3M499.25 340v3M501.75 328v3M504.25 184v3M504.25 244v3M504.25 259v3M504.25 325v3M504.25 340v6M504.25 361v3M506.75 253v3M506.75 322v3M506.75 328v3M506.75 337v3M509.25 232v18M509.25 337v3M511.75 241v3M511.75 256v3M514.25 238v3M514.25 247v3M514.25 367v3M514.25 373v3M516.75 232v3M516.75 283v3M516.75 346v3M519.25 349v3M521.75 319v3M521.75 355v3M524.25 298v3M524.25 364v3M524.25 370v3M526.75 292v3M526.75 319v3M526.75 349v3M526.75 364v3M529.25 256v3M531.75 241v3M531.75 250v3M531.75 256v3M531.75 271v3M536.75 241v3M539.25 268v3M544.25 241v3M546.75 241v3M549.25 241v3M549.25 259v3M549.25 265v3M551.75 241v3M551.75 253v3M554.25 253v6M556.75 259v3M559.25 259v3M561.75 256v3M564.25 160v6M566.75 256v3M571.75 250v3M574.25 253v3M579.25 328v3M581.75 271v3M584.25 268v3M584.25 316v3M584.25 325v3M586.75 292v3M589.25 271v3M591.75 268v3M591.75 274v9M591.75 313v6M594.25 235v3M594.25 289v3M596.75 289v3M596.75 298v3M596.75 382v3"/><path stroke="#ffd500" stroke-width="2.5" d="M486.75 385v3M489.25 379v3M499.25 400v5M544.25 397v3M564.25 343v3M564.25 367v3M564.25 376v3M564.25 391v6M569.25 349v3M589.25 328v3M591.75 325v3"/><path stroke="#ffaf00" stroke-width="2.5" d="M564.25 289v3M564.25 328v3M564.25 349v3M564.25 379v6M594.25 331v3"/><path stroke="#ff9d00" stroke-width="2.5" d="M564.25 292v3M564.25 322v3M564.25 331v3M564.25 358v3M589.25 331v6M594.25 334v6"/><path stroke="#ff8c00" stroke-width="2.5" d="M564.25 295v12M564.25 316v3M564.25 340v3M564.25 388v3M591.75 328v3M594.25 322v3"/><path stroke="#ff5700" stroke-width="2.5" d="M564.25 313v3"/><path stroke="#ffbe00" stroke-width="2.5" d="M564.25 319v3M564.25 334v6M564.25 352v6M564.25 361v6M589.25 322v3M589.25 337v3M591.75 331v3M591.75 337v3M594.25 325v6"/><path stroke="#ff6900" stroke-width="2.5" d="M564.25 325v3"/><path stroke="#ffc900" stroke-width="2.5" d="M564.25 346v3M564.25 373v3M564.25 403v2M589.25 325v3M589.25 361v3"/><path stroke="#00ffba" stroke-width="1.5" d="M692.75 52v3M692.75 58v3M692.75 64v3M692.75 199v3M692.75 331v3M694.25 64v3M694.25 325v3M694.25 370v3M695.75 55v6M695.75 64v3M695.75 313v6M695.75 337v3M695.75 346v9M695.75 376v3M697.25 214v3M698.75 52v3M698.75 67v3M698.75 340v3M698.75 349v3M698.75 361v6M700.25 67v3M700.25 217v3M700.25 322v3M700.25 331v3M700.25 337v3M700.25 343v6M700.25 352v3M700.25 370v6M701.75 52v3M701.75 61v3M701.75 235v3M701.75 247v3M701.75 262v6M701.75 280v3M701.75 364v3M701.75 370v3M703.25 247v3M703.25 256v3M703.25 277v9M703.25 328v6M703.25 352v6M703.25 370v3M704.75 61v3M704.75 253v9M704.75 343v3M704.75 349v6M704.75 358v6M704.75 370v3M704.75 376v6M704.75 388v3M706.25 61v3M706.25 241v3M706.25 250v3M706.25 256v3M706.25 286v3M706.25 322v3M706.25 346v3M706.25 361v9M707.75 55v3M707.75 250v3M707.75 340v6M707.75 355v12M707.75 373v3M707.75 379v3M709.25 52v3M709.25 64v3M709.25 244v3M709.25 256v3M709.25 346v3M709.25 361v3M709.25 367v3M709.25 373v9M709.25 385v3M710.75 244v3M710.75 250v3M710.75 355v3M712.25 70v3M712.25 295v3M712.25 325v3M713.75 211v3M713.75 217v9M713.75 259v3M713.75 289v3M713.75 301v3M713.75 352v9M713.75 364v12M713.75 397v8M715.25 73v3M715.25 223v3M715.25 289v3M715.25 313v3M715.25 337v6M715.25 346v3M715.25 355v6M715.25 367v3M715.25 385v3M715.25 400v3M716.75 76v3M716.75 235v6M716.75 256v3M716.75 328v3M716.75 334v3M716.75 346v3M716.75 367v9M716.75 385v9M716.75 397v8M718.25 223v6M718.25 244v3M718.25 265v6M718.25 280v3M718.25 325v3M718.25 343v3M718.25 349v6M718.25 367v3M718.25 373v9M718.25 397v3M718.25 403v2M719.75 214v3M719.75 220v3M719.75 241v3M719.75 247v3M719.75 253v3M719.75 265v3M719.75 274v3M719.75 280v6M719.75 343v3M719.75 364v3M719.75 388v3M721.25 250v3M721.25 256v12M721.25 271v3M721.25 277v3M721.25 340v3M722.75 214v3M722.75 226v3M722.75 238v6M722.75 352v3M722.75 370v3M722.75 391v9M724.25 79v3M724.25 214v3M724.25 229v3M724.25 238v3M724.25 250v9M724.25 382v6M724.25 391v6M724.25 400v3M725.75 79v3M725.75 226v12M725.75 244v6M725.75 397v3M727.25 79v3M727.25 247v6M727.25 340v3M727.25 352v6M727.25 373v3M727.25 385v9M727.25 400v5M728.75 76v3M728.75 217v3M728.75 226v3M728.75 238v6M728.75 262v3M728.75 346v3M728.75 352v6M728.75 364v6M728.75 373v3M728.75 382v3M728.75 391v6M730.25 211v3M730.25 262v3M731.75 76v3M733.25 214v3M733.25 220v6M733.25 247v3M733.25 253v3M733.25 262v3M733.25 370v3M733.25 394v3M734.75 211v3M734.75 238v3M734.75 370v3M734.75 376v3M734.75 388v3M736.25 238v3M736.25 247v3M736.25 271v3M736.25 298v6M736.25 331v3M736.25 349v3M736.25 376v6M736.25 385v3M736.25 394v9M737.75 73v3M739.25 211v3M740.75 73v3M742.25 73v3M742.25 217v3M745.25 211v3M746.75 70v3M748.25 229v3M749.75 55v3M749.75 229v6M752.75 214v9M754.25 214v6M754.25 223v3M754.25 229v6M755.75 67v3M757.25 262v3M757.25 271v3M758.75 61v3M758.75 241v3M760.25 214v3M760.25 238v3M761.75 55v3M761.75 64v3M761.75 247v3M763.25 214v3M763.25 244v3M764.75 52v9M766.25 70v3M766.25 217v3M766.25 223v3M766.25 247v3M767.75 67v3M769.25 55v3M772.25 235v3M773.75 58v3M773.75 64v3M775.25 64v3M775.25 226v3M776.75 61v3M776.75 229v3M778.25 226v3M781.25 55v3M782.75 58v3M784.25 232v3M785.75 55v9M787.25 55v3M787.25 223v3M788.75 67v3M788.75 220v6M790.25 52v3M790.25 58v3M791.75 52v3M791.75 64v3M791.75 217v3M793.25 52v6M793.25 220v3M794.75 85v3M794.75 202v3M796.25 52v3M796.25 58v3M796.25 79v3M796.25 211v3M797.75 217v3M799.25 82v3M799.25 223v3M799.25 229v3M800.75 64v3M800.75 211v3M800.75 217v3M802.25 91v3M802.25 97v3M805.25 229v3M808.25 205v3M809.75 97v3M809.75 232v3M811.25 211v3M811.25 226v3M812.75 223v9M814.25 85v3M814.25 208v3M815.75 91v6M815.75 199v3M817.25 94v3M818.75 88v3M818.75 226v6M820.25 205v6M820.25 214v18M821.75 94v3M821.75 235v9M823.25 97v3M823.25 217v6M823.25 226v3M824.75 97v3M824.75 217v3M826.25 238v3M826.25 247v3M827.75 97v6M827.75 226v3M829.25 88v3M829.25 223v3M829.25 244v3M829.25 259v3M830.75 232v3M830.75 238v3M832.25 91v3M832.25 262v9M833.75 253v3M833.75 259v12M835.25 280v3M836.75 79v3M836.75 274v3M838.25 265v3M838.25 274v3M839.75 268v3M839.75 274v3M839.75 280v3M842.75 58v3M842.75 67v3M842.75 277v3M844.25 52v3M844.25 58v6M844.25 67v3M844.25 253v6M845.75 55v6M845.75 265v3M847.25 64v6M847.25 265v6M847.25 274v3M848.75 52v3M848.75 265v3M851.75 340v3M851.75 349v3M851.75 358v3M851.75 364v3M853.25 172v3M853.25 190v3M853.25 247v3M853.25 325v6M853.25 337v3M853.25 346v12M854.75 232v6M856.25 193v3M856.25 229v3M856.25 238v3M856.25 313v24M856.25 343v3M856.25 349v27M856.25 379v3M857.75 232v3M859.25 244v3M859.25 253v3M859.25 259v6M859.25 271v3M859.25 295v3M859.25 313v3M859.25 319v3M859.25 328v15M859.25 346v6M859.25 358v24M859.25 403v2M860.75 229v9M860.75 325v3M860.75 334v6M860.75 343v3M860.75 349v33M860.75 385v12M860.75 400v3M862.25 199v3M862.25 235v3M862.25 262v3M862.25 274v3M862.25 280v3M862.25 349v6M862.25 397v8M863.75 226v6M863.75 241v3M863.75 259v3M863.75 316v15M863.75 364v3M863.75 370v12M863.75 394v9M865.25 202v3M865.25 238v3M865.25 253v3M865.25 259v3M865.25 268v3M865.25 277v3M865.25 313v3M865.25 319v3M865.25 367v3M865.25 376v6M866.75 253v15M866.75 274v3M868.25 256v3M868.25 325v3M868.25 334v12M868.25 352v6M868.25 364v3M868.25 379v3M868.25 388v3M868.25 394v11M869.75 262v3M869.75 271v3M869.75 313v6M869.75 322v3M869.75 328v3M869.75 343v6M869.75 370v3M869.75 403v2M871.25 208v3M871.25 283v3M871.25 313v15M871.25 370v3M872.75 208v6M872.75 289v3M872.75 298v3M874.25 211v3M874.25 223v6M874.25 232v3M874.25 295v6M874.25 304v3M874.25 316v3M874.25 325v6M875.75 211v3M875.75 217v3M875.75 238v6M875.75 283v9M875.75 313v3M875.75 322v3M875.75 328v3M877.25 217v3M877.25 223v3M877.25 235v3M877.25 313v9M877.25 325v3M878.75 220v3M878.75 238v15M878.75 313v9M880.25 286v6M881.75 202v3M881.75 220v3M881.75 241v3M881.75 295v6M881.75 316v3M883.25 211v6M883.25 235v12M886.25 292v3M887.75 298v6M889.25 304v3M890.75 292v6M890.75 304v3M890.75 313v6M890.75 373v3M893.75 286v9M893.75 298v3M893.75 304v3M895.25 289v3M896.75 316v9M896.75 349v3M896.75 367v3M896.75 376v3M899.75 301v3M904.25 286v18M907.25 286v3M910.25 286v3M910.25 298v9M913.25 286v6M916.25 286v3M928.25 301v3M929.75 301v6M932.75 319v3M934.25 286v3M934.25 316v3M934.25 322v3M935.75 268v3M935.75 277v3M935.75 319v3M937.25 328v3M938.75 340v12M940.25 331v6M940.25 340v3M941.75 394v6M944.75 352v9M944.75 364v3M944.75 370v3M946.25 292v3M946.25 349v3M946.25 355v3M946.25 361v3M946.25 367v3M946.25 373v12M946.25 388v3M947.75 319v3M947.75 325v3M947.75 337v3M947.75 343v3M947.75 400v3M949.25 313v24M949.25 340v6M949.25 373v3M949.25 388v9M950.75 397v8M862.25 434v11M863.75 434v11M865.25 434v11M868.25 434v11M889.25 434v11M892.25 465v11M893.75 465v11M896.75 445v10M896.75 465v11M899.75 445v10M899.75 465v11M901.25 428v6M902.75 428v6M902.75 455v21M904.25 428v6M904.25 455v10M907.25 445v20M908.75 455v21M911.75 428v6M911.75 445v10M911.75 465v11M913.25 428v6M913.25 455v10M914.75 428v6M914.75 445v10M916.25 428v6M916.25 445v10M916.25 465v11M917.75 445v20M920.75 465v11M922.25 455v10M923.75 445v20M925.25 445v31M926.75 465v11M928.25 445v10M929.75 428v6M931.25 428v6M931.25 455v10M932.75 455v10M934.25 455v10M937.25 455v10"/><path stroke="#00ffce" stroke-width="1.5" d="M692.75 55v3M692.75 61v3M692.75 334v6M692.75 373v3M694.25 61v3M694.25 199v3M694.25 322v3M694.25 328v3M694.25 334v3M694.25 367v3M695.75 61v3M695.75 67v6M695.75 202v3M695.75 322v3M695.75 340v3M695.75 370v3M697.25 208v6M697.25 373v3M697.25 382v3M698.75 343v3M698.75 355v3M700.25 58v6M700.25 70v3M700.25 211v6M700.25 355v9M701.75 58v3M701.75 241v3M701.75 253v3M701.75 259v3M701.75 268v3M701.75 274v6M701.75 283v3M701.75 349v3M701.75 361v3M703.25 244v3M703.25 268v3M703.25 274v3M703.25 286v3M703.25 301v3M703.25 322v6M703.25 337v6M703.25 346v6M704.75 52v3M704.75 58v3M704.75 250v3M704.75 340v3M704.75 355v3M704.75 364v3M706.25 52v3M706.25 223v3M706.25 259v9M706.25 280v3M706.25 331v3M706.25 355v6M707.75 67v6M707.75 223v3M707.75 253v3M707.75 259v3M707.75 304v3M707.75 349v3M707.75 367v6M709.25 253v3M709.25 349v6M709.25 358v3M709.25 394v6M709.25 403v2M710.75 220v3M710.75 319v3M710.75 337v9M710.75 349v3M710.75 358v6M712.25 220v9M712.25 292v3M712.25 304v3M712.25 328v6M712.25 340v3M712.25 355v3M712.25 361v3M712.25 376v3M712.25 400v3M713.75 226v3M713.75 247v12M713.75 262v3M713.75 286v3M713.75 298v3M713.75 313v3M713.75 328v3M713.75 334v6M713.75 346v6M713.75 361v3M713.75 376v3M715.25 214v3M715.25 343v3M715.25 361v3M715.25 382v3M715.25 391v3M715.25 397v3M716.75 226v6M716.75 268v3M716.75 337v6M716.75 349v3M716.75 355v3M716.75 376v3M718.25 76v3M718.25 214v3M718.25 241v3M718.25 247v3M718.25 262v3M718.25 283v3M718.25 313v12M718.25 334v3M718.25 355v3M718.25 370v3M718.25 385v3M718.25 391v3M718.25 400v3M719.75 76v3M719.75 217v3M719.75 235v3M719.75 256v9M719.75 268v3M719.75 346v3M719.75 367v3M719.75 373v9M719.75 394v3M721.25 76v3M721.25 247v3M721.25 253v3M721.25 268v3M721.25 352v3M722.75 232v6M722.75 358v3M722.75 364v3M724.25 211v3M724.25 217v3M724.25 232v6M724.25 388v3M724.25 397v3M725.75 238v6M725.75 271v3M725.75 277v6M725.75 373v12M725.75 388v6M728.75 223v3M728.75 247v3M728.75 358v3M728.75 370v3M728.75 385v6M728.75 400v5M733.25 217v3M733.25 244v3M733.25 382v12M734.75 241v9M734.75 262v3M734.75 397v8M736.25 346v3M736.25 382v3M737.75 208v3M739.25 208v3M743.75 70v3M746.75 208v3M749.75 58v3M749.75 67v6M749.75 214v3M749.75 220v9M751.25 235v3M752.75 211v3M754.25 211v3M754.25 220v3M754.25 226v3M755.75 58v3M755.75 70v3M755.75 238v3M757.25 52v3M757.25 67v3M757.25 235v9M757.25 268v3M760.25 235v3M761.75 217v3M761.75 229v3M761.75 238v3M763.25 217v3M764.75 244v3M766.25 214v3M766.25 220v3M766.25 226v3M766.25 235v9M767.75 241v6M769.25 58v3M770.75 61v3M772.25 70v3M772.25 229v3M773.75 235v6M775.25 67v3M776.75 64v6M776.75 223v6M778.25 52v9M779.75 52v6M779.75 229v3M779.75 238v3M781.25 52v3M781.25 58v6M782.75 55v3M782.75 64v3M782.75 226v3M784.25 58v3M784.25 229v3M785.75 52v3M785.75 226v3M787.25 64v3M787.25 220v3M787.25 226v3M787.25 232v3M790.25 55v3M790.25 223v3M791.75 55v3M791.75 61v3M791.75 220v3M793.25 61v3M793.25 67v6M793.25 217v3M794.75 199v3M796.25 85v3M797.75 94v3M797.75 220v3M799.25 85v3M799.25 226v3M800.75 85v3M800.75 202v3M800.75 214v3M802.25 94v3M802.25 214v3M803.75 52v3M803.75 97v3M803.75 205v6M803.75 223v6M805.25 94v3M805.25 232v3M806.75 91v6M806.75 220v15M808.25 97v6M809.75 229v3M811.25 214v3M811.25 220v3M812.75 220v3M814.25 205v3M814.25 211v3M817.25 217v3M818.75 220v3M820.25 94v3M820.25 199v6M821.75 97v3M823.25 214v3M823.25 223v3M824.75 94v3M824.75 205v3M824.75 214v3M826.25 94v6M826.25 250v3M827.75 214v3M827.75 223v3M830.75 217v3M830.75 226v6M830.75 235v3M830.75 247v6M832.25 253v3M832.25 259v3M832.25 274v3M833.75 88v3M836.75 265v3M838.25 82v3M838.25 262v3M838.25 268v3M838.25 280v6M839.75 70v3M839.75 262v3M839.75 277v3M841.25 70v3M841.25 271v3M842.75 52v6M842.75 64v3M845.75 61v3M847.25 250v3M848.75 55v6M848.75 64v3M848.75 262v3M850.25 67v3M851.75 58v6M851.75 175v3M851.75 184v3M853.25 169v3M853.25 238v3M853.25 244v3M854.75 199v3M854.75 229v3M856.25 241v3M857.75 163v3M859.25 235v9M859.25 247v3M859.25 322v6M859.25 352v3M860.75 202v3M862.25 265v3M862.25 277v3M862.25 286v3M862.25 313v6M862.25 325v3M862.25 337v12M862.25 355v9M862.25 367v6M862.25 376v21M863.75 160v3M863.75 214v3M863.75 232v3M863.75 331v9M863.75 349v15M863.75 388v3M865.25 235v3M865.25 262v3M865.25 271v3M865.25 292v3M865.25 322v3M865.25 337v12M865.25 355v12M865.25 370v6M865.25 382v18M866.75 205v3M866.75 268v3M866.75 277v6M866.75 286v6M866.75 295v3M866.75 301v3M866.75 313v9M866.75 346v3M866.75 352v3M866.75 358v12M866.75 373v3M866.75 379v18M868.25 253v3M868.25 259v3M868.25 268v3M868.25 367v12M868.25 382v6M868.25 391v3M869.75 211v3M869.75 217v3M869.75 223v3M869.75 241v6M869.75 265v6M869.75 319v3M869.75 325v3M869.75 331v9M869.75 349v9M869.75 361v9M869.75 376v6M869.75 385v3M869.75 391v6M869.75 400v3M871.25 211v9M871.25 235v3M871.25 250v3M871.25 274v9M871.25 298v9M871.25 328v6M871.25 337v21M871.25 364v3M871.25 373v6M871.25 382v18M872.75 286v3M872.75 292v3M872.75 313v9M874.25 214v6M874.25 241v3M874.25 247v3M874.25 292v3M874.25 313v3M874.25 319v3M874.25 331v3M874.25 364v3M874.25 376v15M875.75 214v3M875.75 220v3M875.75 247v3M875.75 331v3M875.75 337v3M875.75 343v3M875.75 352v3M877.25 214v3M877.25 226v9M877.25 238v6M877.25 286v6M877.25 322v3M877.25 328v3M877.25 358v3M878.75 253v3M878.75 280v6M878.75 322v3M878.75 328v3M878.75 334v3M878.75 358v3M878.75 364v3M880.25 202v3M880.25 235v3M880.25 304v3M880.25 313v9M881.75 175v3M881.75 187v3M881.75 199v3M881.75 205v3M881.75 211v3M881.75 223v15M881.75 289v3M881.75 313v3M883.25 196v6M883.25 247v3M883.25 295v3M883.25 313v6M886.25 205v6M886.25 214v12M886.25 289v3M886.25 367v3M887.75 295v3M887.75 313v6M887.75 340v6M887.75 355v3M887.75 370v6M889.25 286v3M889.25 292v3M889.25 301v3M889.25 340v3M889.25 349v9M889.25 364v3M889.25 370v3M889.25 376v3M890.75 286v3M890.75 319v3M890.75 325v3M890.75 331v12M890.75 358v6M890.75 376v12M895.25 301v3M895.25 361v3M895.25 367v3M896.75 313v3M896.75 325v9M896.75 337v6M896.75 352v3M896.75 358v9M896.75 370v6M896.75 379v6M898.25 286v3M899.75 295v3M899.75 304v3M904.25 304v3M907.25 295v6M910.25 289v3M916.25 289v9M919.25 286v3M925.25 289v6M926.75 289v3M928.25 286v3M929.75 277v3M929.75 283v3M931.25 286v3M931.25 313v9M932.75 286v3M932.75 316v3M932.75 322v3M934.25 319v3M934.25 325v3M935.75 322v3M937.25 331v15M938.75 352v3M938.75 358v3M938.75 364v3M938.75 370v9M938.75 397v3M938.75 403v2M940.25 337v3M940.25 343v6M940.25 361v3M940.25 403v2M941.75 373v15M941.75 391v3M944.75 361v3M944.75 367v3M944.75 373v3M946.25 358v3M946.25 364v3M947.75 313v6M947.75 322v3M947.75 328v9M947.75 340v3M947.75 382v3M947.75 388v12M949.25 337v3M949.25 346v6M949.25 355v3M949.25 364v9M949.25 376v12M950.75 367v3M950.75 382v3M950.75 388v9M886.25 434v11M892.25 476v10M893.75 476v10M895.25 445v10M895.25 465v11M898.25 428v6M898.25 465v11M899.75 476v10M901.25 434v11M902.75 445v10M905.75 434v11M905.75 476v10M907.25 428v6M907.25 465v11M908.75 476v10M910.25 428v6M910.25 445v31M913.25 445v10M913.25 465v11M917.75 434v11M917.75 476v10M919.25 428v6M919.25 445v31M920.75 428v6M920.75 476v10M922.25 445v10M922.25 465v11M923.75 428v6M923.75 465v11M926.75 434v11M928.25 428v17M928.25 455v10M928.25 476v10"/><path stroke="#00ffa6" stroke-width="1.5" d="M692.75 67v3M692.75 202v3M692.75 313v3M692.75 319v3M692.75 328v3M694.25 202v3M694.25 316v6M694.25 373v6M695.75 205v3M695.75 355v3M695.75 379v3M697.25 217v12M697.25 385v3M698.75 337v3M698.75 367v3M698.75 373v3M700.25 52v3M700.25 64v3M700.25 223v3M700.25 229v6M700.25 319v3M700.25 325v6M700.25 334v3M700.25 340v3M700.25 376v6M701.75 55v3M701.75 64v3M701.75 256v3M701.75 286v3M701.75 367v3M701.75 373v6M703.25 250v6M703.25 259v3M703.25 361v3M703.25 367v3M703.25 373v3M704.75 367v3M704.75 397v8M706.25 244v6M706.25 253v3M706.25 319v3M706.25 382v3M706.25 388v3M707.75 52v3M707.75 61v6M707.75 256v3M707.75 313v3M707.75 319v6M707.75 334v3M707.75 346v3M707.75 376v3M707.75 397v3M709.25 55v3M709.25 70v3M709.25 250v3M709.25 355v3M709.25 364v3M709.25 388v6M709.25 400v3M710.75 364v6M712.25 67v3M712.25 298v6M713.75 292v3M713.75 340v6M713.75 379v9M713.75 394v3M715.25 292v3M715.25 298v3M715.25 316v6M715.25 334v3M715.25 349v3M716.75 73v3M716.75 214v3M716.75 220v6M716.75 253v3M716.75 259v3M716.75 286v3M716.75 313v3M716.75 322v6M716.75 343v3M716.75 358v3M716.75 379v3M716.75 394v3M718.25 250v3M718.25 277v3M718.25 286v3M718.25 328v6M718.25 337v3M718.25 346v3M718.25 364v3M718.25 382v3M719.75 73v3M719.75 226v6M719.75 244v3M719.75 250v3M719.75 277v3M719.75 325v3M719.75 331v3M719.75 337v6M719.75 370v3M721.25 274v3M721.25 280v3M721.25 286v3M721.25 355v6M722.75 217v9M722.75 229v3M722.75 244v6M722.75 259v3M722.75 265v3M722.75 277v3M724.25 220v3M724.25 265v3M724.25 271v3M724.25 373v9M724.25 403v2M725.75 211v6M725.75 223v3M725.75 355v3M725.75 361v3M725.75 367v3M725.75 400v5M727.25 76v3M727.25 211v3M727.25 223v3M727.25 241v6M727.25 331v3M727.25 343v3M727.25 358v3M727.25 367v6M727.25 379v6M727.25 394v6M728.75 244v3M728.75 250v3M728.75 328v3M728.75 334v3M728.75 343v3M728.75 349v3M728.75 361v3M730.25 244v3M730.25 265v3M730.25 388v6M730.25 403v2M731.75 223v3M731.75 238v3M733.25 229v6M733.25 238v3M733.25 250v3M733.25 256v6M733.25 265v6M733.25 346v3M733.25 355v3M733.25 361v6M733.25 376v3M733.25 400v5M734.75 220v3M734.75 232v6M734.75 253v6M734.75 268v3M734.75 316v15M734.75 364v3M734.75 373v3M734.75 382v3M736.25 211v6M736.25 223v3M736.25 229v9M736.25 241v6M736.25 250v6M736.25 262v3M736.25 268v3M736.25 286v6M736.25 328v3M736.25 334v6M736.25 352v12M736.25 388v6M736.25 403v2M737.75 211v3M737.75 241v3M737.75 313v3M739.25 214v3M740.75 208v3M742.25 214v3M742.25 226v3M742.25 232v3M743.75 67v3M745.25 397v3M748.25 70v3M748.25 208v3M751.25 238v3M752.75 70v3M752.75 223v9M754.25 235v3M755.75 241v3M757.25 55v3M757.25 61v6M757.25 250v3M757.25 274v6M758.75 64v6M758.75 244v3M761.75 58v6M761.75 67v3M761.75 241v3M763.25 247v3M764.75 61v3M764.75 250v3M764.75 262v3M766.25 64v3M766.25 244v3M767.75 64v3M769.25 52v3M772.25 232v3M773.75 52v6M773.75 61v3M773.75 244v3M775.25 61v3M775.25 229v6M776.75 55v6M776.75 232v3M779.75 235v3M781.25 238v9M782.75 52v3M782.75 229v3M784.25 55v3M784.25 235v3M787.25 52v3M790.25 226v3M793.25 58v3M794.75 82v3M794.75 205v6M796.25 64v3M796.25 82v3M796.25 214v3M799.25 220v3M799.25 232v3M800.75 58v3M800.75 67v3M800.75 82v3M800.75 220v3M802.25 220v3M802.25 226v3M802.25 232v3M803.75 55v3M803.75 91v6M803.75 229v3M805.25 61v3M805.25 235v3M806.75 55v3M806.75 88v3M806.75 238v3M808.25 208v3M808.25 223v3M809.75 94v3M811.25 91v3M811.25 223v3M811.25 232v3M812.75 79v3M812.75 85v3M814.25 214v6M815.75 88v3M815.75 202v9M817.25 223v3M818.75 85v3M820.25 232v6M821.75 232v3M826.25 229v3M826.25 241v6M826.25 253v6M827.75 229v3M829.25 226v9M829.25 238v6M829.25 250v3M830.75 88v3M832.25 88v3M832.25 271v3M833.75 250v3M833.75 256v3M833.75 271v6M835.25 79v3M835.25 277v3M836.75 280v6M838.25 253v3M838.25 286v3M839.75 55v6M839.75 67v3M839.75 73v3M839.75 283v3M841.25 64v3M841.25 274v3M841.25 283v3M842.75 61v3M842.75 280v6M842.75 343v3M844.25 55v3M844.25 334v15M845.75 52v3M845.75 268v3M845.75 337v3M847.25 58v6M847.25 337v9M848.75 268v6M848.75 328v3M850.25 58v9M851.75 178v3M851.75 331v9M851.75 343v6M851.75 352v6M851.75 361v3M851.75 367v6M853.25 250v3M853.25 262v3M853.25 268v3M853.25 313v3M853.25 319v6M853.25 331v6M853.25 340v6M853.25 358v21M854.75 196v3M854.75 238v3M854.75 343v3M854.75 355v3M854.75 364v3M856.25 235v3M856.25 247v3M856.25 268v3M856.25 298v3M856.25 337v6M856.25 346v3M856.25 376v3M856.25 382v3M856.25 388v6M856.25 400v5M857.75 313v3M857.75 358v3M857.75 367v3M859.25 268v3M859.25 301v6M859.25 316v3M859.25 343v3M859.25 355v3M859.25 382v6M859.25 391v12M860.75 163v3M860.75 262v3M860.75 316v3M860.75 328v6M860.75 340v3M860.75 346v3M860.75 382v3M860.75 397v3M860.75 403v2M862.25 244v6M862.25 259v3M862.25 283v3M863.75 262v3M863.75 271v3M863.75 295v3M863.75 304v3M863.75 367v3M863.75 382v6M863.75 391v3M863.75 403v2M865.25 244v3M865.25 256v3M865.25 274v3M865.25 283v3M865.25 298v6M865.25 316v3M866.75 241v9M866.75 283v3M866.75 292v3M866.75 298v3M868.25 217v6M868.25 235v3M868.25 241v3M868.25 247v3M868.25 322v3M868.25 328v6M868.25 346v6M868.25 358v6M869.75 208v3M869.75 214v3M871.25 163v3M871.25 286v6M871.25 295v3M874.25 208v3M874.25 229v3M874.25 235v6M874.25 244v3M874.25 301v3M874.25 322v3M875.75 208v3M875.75 223v3M875.75 229v6M875.75 292v15M875.75 316v6M875.75 325v3M877.25 166v3M877.25 220v3M877.25 292v3M877.25 301v3M878.75 229v9M878.75 286v12M880.25 238v3M880.25 298v3M881.75 184v3M881.75 301v6M883.25 208v3M883.25 232v3M883.25 250v3M890.75 289v3M890.75 298v3M893.75 301v3M896.75 286v3M910.25 295v3M928.25 304v3M931.25 289v3M932.75 289v3M932.75 313v3M934.25 289v3M934.25 298v3M934.25 313v3M935.75 313v6M937.25 319v9M938.75 334v6M940.25 214v6M940.25 328v3M941.75 400v3M943.25 289v3M944.75 343v9M946.25 298v6M946.25 331v6M946.25 343v6M946.25 352v3M946.25 370v3M946.25 385v3M946.25 394v3M947.75 403v2M949.25 397v8M736.25 428v6M853.25 434v11M859.25 434v11M866.75 434v11M871.25 428v6M874.25 428v6M883.25 434v11M884.75 434v11M887.75 434v11M890.75 445v10M890.75 476v10M892.25 445v10M893.75 445v10M895.25 428v6M898.25 455v10M901.25 445v31M904.25 445v10M904.25 465v11M905.75 428v6M905.75 445v31M908.75 428v6M908.75 445v10M911.75 455v10M914.75 455v21M916.25 455v10M917.75 428v6M917.75 465v11M920.75 445v20M926.75 445v20M928.25 465v11M929.75 455v10M932.75 428v6M934.25 428v6M935.75 455v10"/><path stroke="#00fff7" stroke-width="1.5" d="M692.75 70v6M692.75 340v3M692.75 355v3M692.75 364v3M692.75 370v3M694.25 55v6M694.25 340v9M694.25 364v3M695.75 73v3M695.75 328v6M695.75 358v9M695.75 373v3M697.25 199v3M697.25 319v3M697.25 325v3M697.25 367v3M697.25 376v3M698.75 70v3M700.25 208v3M700.25 364v3M701.75 211v3M701.75 229v3M701.75 238v3M701.75 244v3M701.75 295v3M701.75 325v6M701.75 334v9M701.75 352v6M703.25 52v3M703.25 61v3M703.25 217v3M703.25 226v3M703.25 265v3M703.25 295v6M703.25 304v3M704.75 67v3M704.75 244v3M704.75 265v3M704.75 271v3M704.75 280v3M704.75 289v3M704.75 313v3M704.75 328v3M706.25 271v3M706.25 277v3M706.25 289v3M706.25 328v3M706.25 349v3M707.75 214v3M707.75 226v6M707.75 238v6M707.75 247v3M707.75 265v3M707.75 280v3M707.75 292v12M709.25 220v3M709.25 271v6M709.25 283v3M709.25 292v3M709.25 304v3M709.25 325v3M709.25 331v15M710.75 241v3M710.75 268v3M710.75 304v3M710.75 313v3M710.75 322v3M712.25 229v3M712.25 244v6M712.25 256v3M712.25 280v3M712.25 334v6M712.25 379v3M712.25 391v9M713.75 208v3M713.75 229v3M713.75 238v3M713.75 244v3M713.75 265v6M713.75 274v3M713.75 283v3M713.75 319v3M713.75 325v3M715.25 208v6M715.25 244v3M715.25 259v3M715.25 286v3M715.25 379v3M715.25 394v3M716.75 82v3M716.75 208v3M716.75 232v3M716.75 265v3M716.75 271v3M716.75 280v3M716.75 352v3M718.25 211v3M718.25 220v3M718.25 229v6M719.75 211v3M719.75 238v3M719.75 352v9M719.75 385v3M719.75 397v8M721.25 223v6M721.25 232v3M721.25 361v3M721.25 373v3M722.75 208v3M722.75 367v3M722.75 373v6M722.75 385v6M724.25 208v3M725.75 82v3M725.75 208v3M725.75 256v3M725.75 268v3M728.75 376v3M730.25 79v3M733.25 73v6M733.25 211v3M733.25 235v3M737.75 76v3M739.25 73v3M740.75 76v3M745.25 73v3M749.75 211v3M749.75 217v3M751.25 214v6M751.25 229v6M754.25 208v3M757.25 217v3M758.75 70v3M758.75 232v6M760.25 211v3M761.75 226v3M763.25 223v3M763.25 235v3M764.75 70v3M764.75 220v6M764.75 238v6M766.25 232v3M767.75 217v9M767.75 235v6M769.25 61v3M770.75 55v6M770.75 220v3M772.25 223v3M773.75 70v3M773.75 223v6M773.75 232v3M773.75 241v3M775.25 220v6M776.75 220v3M778.25 61v3M778.25 220v3M779.75 64v3M779.75 226v3M784.25 52v3M784.25 61v3M785.75 223v3M787.25 61v3M787.25 67v3M787.25 217v3M788.75 217v3M790.25 61v3M790.25 67v3M791.75 73v3M791.75 79v3M791.75 214v3M793.25 76v3M794.75 193v3M796.25 196v3M797.75 97v3M797.75 181v3M797.75 187v3M797.75 208v3M799.25 208v3M800.75 199v3M800.75 205v3M802.25 100v3M802.25 205v3M803.75 100v3M803.75 211v3M803.75 220v3M805.25 226v3M806.75 97v3M806.75 103v3M806.75 214v3M808.25 175v3M808.25 181v6M808.25 190v9M809.75 100v3M809.75 226v3M811.25 97v3M811.25 199v3M812.75 88v6M812.75 178v3M812.75 202v3M812.75 214v3M814.25 91v3M815.75 196v3M817.25 97v3M817.25 184v3M817.25 205v3M818.75 208v6M820.25 172v3M820.25 178v12M821.75 100v3M821.75 223v9M823.25 100v3M823.25 205v3M824.75 202v3M826.25 208v12M826.25 223v3M827.75 103v3M827.75 205v6M830.75 94v3M830.75 220v3M832.25 250v3M835.25 85v3M835.25 253v3M835.25 259v3M836.75 82v6M836.75 250v3M838.25 271v3M839.75 82v3M839.75 88v3M839.75 265v3M841.25 265v6M842.75 268v6M844.25 73v3M847.25 73v3M847.25 256v3M847.25 262v3M848.75 61v3M848.75 67v3M848.75 250v6M848.75 259v3M850.25 70v3M850.25 244v6M851.75 52v3M851.75 241v3M851.75 247v3M853.25 235v3M853.25 241v3M854.75 163v3M854.75 202v3M854.75 217v9M856.25 220v3M856.25 226v3M857.75 199v3M857.75 226v3M859.25 199v3M859.25 229v6M860.75 205v6M860.75 220v3M862.25 232v3M862.25 289v9M862.25 304v3M863.75 208v3M863.75 217v9M865.25 160v3M865.25 205v3M865.25 211v3M865.25 217v3M865.25 232v3M865.25 265v3M866.75 226v3M866.75 232v3M866.75 238v3M866.75 325v9M866.75 400v3M869.75 112v3M869.75 226v3M869.75 235v3M869.75 250v3M871.25 223v3M871.25 232v3M871.25 238v9M871.25 253v3M871.25 268v6M871.25 400v3M872.75 163v3M872.75 232v6M872.75 241v3M872.75 247v3M872.75 280v3M872.75 304v3M872.75 337v6M872.75 346v3M872.75 352v6M872.75 364v6M872.75 373v21M872.75 400v5M874.25 250v6M874.25 277v3M874.25 283v3M874.25 289v3M874.25 340v3M874.25 346v6M874.25 397v3M874.25 403v2M875.75 250v3M875.75 349v3M875.75 355v6M875.75 364v3M875.75 370v3M875.75 376v24M877.25 250v3M877.25 277v3M877.25 283v3M877.25 331v3M877.25 355v3M877.25 364v6M877.25 373v9M877.25 385v6M877.25 394v9M878.75 256v3M878.75 343v6M878.75 355v3M878.75 370v3M878.75 379v15M878.75 400v3M880.25 169v3M880.25 208v3M880.25 244v3M880.25 250v3M880.25 256v3M880.25 283v3M880.25 328v6M880.25 337v3M880.25 343v6M880.25 361v3M880.25 367v6M880.25 379v15M881.75 247v3M881.75 259v3M881.75 277v3M881.75 283v3M881.75 325v3M881.75 331v3M881.75 343v12M881.75 361v6M881.75 370v3M881.75 385v6M881.75 397v8M883.25 184v6M883.25 205v3M883.25 256v3M883.25 277v3M883.25 292v3M883.25 298v3M883.25 325v45M883.25 373v3M883.25 382v12M883.25 400v3M884.75 226v3M884.75 316v15M884.75 334v6M884.75 343v3M884.75 349v12M884.75 385v3M884.75 391v9M884.75 403v2M886.25 229v9M886.25 244v3M886.25 250v3M886.25 280v3M886.25 286v3M886.25 298v3M886.25 313v3M886.25 340v9M886.25 352v9M886.25 370v6M886.25 382v9M886.25 394v3M887.75 289v3M887.75 304v3M887.75 322v3M887.75 337v3M887.75 379v3M887.75 385v3M887.75 394v9M889.25 322v9M889.25 334v3M889.25 382v3M889.25 391v9M889.25 403v2M890.75 394v11M892.25 289v6M892.25 346v3M892.25 373v3M893.75 319v6M893.75 343v3M893.75 349v3M893.75 355v9M893.75 367v3M893.75 373v6M893.75 388v3M893.75 400v5M895.25 295v3M895.25 316v6M895.25 325v12M895.25 343v3M895.25 349v6M895.25 385v3M896.75 277v6M896.75 391v9M898.25 319v15M898.25 337v21M898.25 364v3M898.25 373v9M898.25 388v6M899.75 289v6M899.75 313v6M899.75 352v3M899.75 364v3M899.75 370v18M901.25 292v6M901.25 316v3M902.75 286v6M902.75 295v3M902.75 304v3M902.75 313v6M904.25 319v3M905.75 292v3M905.75 298v3M907.25 289v6M907.25 304v3M907.25 313v6M908.75 289v3M908.75 295v6M908.75 304v3M910.25 313v6M910.25 349v3M913.25 298v3M913.25 352v3M913.25 394v3M913.25 400v5M914.75 286v3M919.25 289v3M919.25 304v3M919.25 352v3M919.25 379v6M922.25 286v6M923.75 286v3M925.25 295v3M925.25 304v3M926.75 292v3M926.75 298v6M926.75 313v3M928.25 289v3M928.25 313v9M928.25 343v12M928.25 370v3M929.75 268v9M929.75 313v9M931.25 280v6M932.75 328v3M932.75 340v6M934.25 277v3M934.25 283v3M934.25 340v3M935.75 331v12M937.25 274v6M937.25 349v3M938.75 262v3M938.75 382v3M940.25 379v3M940.25 385v3M940.25 394v3M946.25 289v3M947.75 367v3M947.75 373v3M950.75 313v9M950.75 328v3M952.25 364v3M952.25 370v3M952.25 376v21M895.25 476v10M898.25 476v10M902.75 434v11M907.25 476v10M910.25 434v11M913.25 476v10M919.25 434v11M919.25 476v10M922.25 428v17M922.25 476v10M925.25 476v10"/><path stroke="#009bff" stroke-width="1.5" d="M692.75 76v3M695.75 76v3M697.25 67v9M697.25 328v3M697.25 337v3M697.25 343v3M697.25 352v3M697.25 358v3M698.75 76v3M700.25 202v3M701.75 208v3M703.25 67v3M703.25 208v3M703.25 235v3M704.75 211v6M704.75 220v6M704.75 232v6M704.75 274v3M704.75 295v3M704.75 301v3M706.25 232v3M707.75 208v3M709.25 214v3M709.25 301v3M710.75 73v6M710.75 214v3M710.75 229v3M710.75 283v3M712.25 265v6M713.75 82v3M715.25 265v9M715.25 280v3M716.75 85v3M718.25 208v3M719.75 85v3M721.25 85v3M721.25 382v3M721.25 397v3M722.75 127v3M722.75 136v9M724.25 112v9M724.25 124v3M724.25 133v6M724.25 142v6M725.75 106v3M725.75 115v9M725.75 139v9M725.75 205v3M727.25 130v9M727.25 142v6M728.75 142v3M730.25 205v3M731.75 139v6M733.25 208v3M734.75 205v3M736.25 79v3M737.75 205v3M739.25 79v3M740.75 79v3M742.25 205v3M743.75 205v3M745.25 76v3M748.25 73v3M755.75 211v3M755.75 220v9M755.75 235v3M757.25 208v3M758.75 226v3M760.25 226v3M764.75 208v3M764.75 235v3M766.25 73v3M766.25 208v3M767.75 208v3M769.25 70v3M769.25 214v6M770.75 208v6M772.25 211v3M773.75 208v6M773.75 217v6M775.25 208v3M776.75 211v3M778.25 211v6M779.75 214v9M781.25 67v3M784.25 223v3M785.75 214v3M787.25 70v3M787.25 208v9M788.75 76v6M788.75 202v6M790.25 70v6M790.25 208v3M790.25 214v3M791.75 85v6M791.75 199v6M793.25 88v3M794.75 154v3M794.75 160v3M794.75 166v6M796.25 91v6M796.25 154v3M796.25 163v6M796.25 172v3M796.25 187v3M797.75 100v3M799.25 100v3M799.25 157v6M799.25 166v3M799.25 172v6M799.25 190v3M800.75 100v3M800.75 163v3M800.75 169v3M800.75 184v9M802.25 160v3M802.25 172v3M802.25 181v3M802.25 187v3M802.25 202v3M803.75 106v3M803.75 154v3M803.75 166v6M803.75 181v3M805.25 106v3M805.25 187v3M805.25 193v6M805.25 202v3M805.25 211v3M805.25 217v3M806.75 166v6M806.75 181v3M806.75 187v9M808.25 154v3M808.25 166v3M809.75 103v3M809.75 154v9M809.75 166v6M809.75 187v12M809.75 205v3M809.75 214v3M811.25 172v3M812.75 166v6M812.75 193v9M812.75 205v6M814.25 97v3M814.25 172v15M814.25 190v3M815.75 175v3M815.75 181v3M817.25 100v3M817.25 190v3M817.25 196v6M818.75 172v3M818.75 187v3M818.75 196v3M820.25 160v9M821.75 166v3M821.75 178v3M821.75 184v3M821.75 190v3M821.75 205v3M821.75 211v6M823.25 103v3M823.25 169v3M823.25 184v3M824.75 106v3M824.75 157v3M826.25 163v18M826.25 187v3M826.25 196v6M827.75 109v6M827.75 118v3M827.75 124v6M827.75 136v3M827.75 142v3M827.75 163v6M827.75 172v15M827.75 190v12M829.25 121v3M829.25 127v3M829.25 202v3M829.25 208v3M830.75 103v3M830.75 112v3M830.75 121v3M830.75 127v12M830.75 142v3M830.75 205v3M832.25 103v3M832.25 139v9M832.25 232v3M832.25 238v6M833.75 97v6M833.75 109v3M833.75 136v6M833.75 145v3M833.75 232v9M833.75 247v3M835.25 91v3M835.25 133v15M835.25 238v3M836.75 103v3M836.75 124v9M838.25 94v6M838.25 247v3M839.75 91v3M839.75 256v3M841.25 82v3M841.25 250v15M842.75 76v6M842.75 85v3M842.75 250v3M842.75 256v3M842.75 262v6M844.25 85v6M845.75 85v6M847.25 85v6M847.25 244v6M848.75 76v9M848.75 175v6M848.75 238v6M848.75 247v3M850.25 76v3M850.25 169v3M850.25 187v3M850.25 229v6M851.75 73v3M851.75 79v3M851.75 232v6M853.25 64v3M853.25 163v3M853.25 199v3M853.25 211v12M854.75 160v3M856.25 55v12M856.25 208v6M857.75 67v3M857.75 160v3M859.25 160v3M859.25 202v3M859.25 208v3M860.75 52v15M862.25 52v3M862.25 208v6M862.25 220v3M862.25 226v6M863.75 64v3M865.25 52v3M865.25 67v6M865.25 214v3M866.75 112v3M866.75 220v3M871.25 160v3M871.25 259v6M872.75 217v3M872.75 262v3M872.75 271v6M875.75 268v3M877.25 256v6M877.25 268v6M878.75 265v6M880.25 220v3M880.25 271v3M881.75 169v3M881.75 262v6M881.75 274v3M883.25 172v6M883.25 259v3M883.25 265v3M883.25 271v3M884.75 184v3M884.75 193v3M884.75 211v3M884.75 235v3M884.75 241v3M884.75 259v3M884.75 274v9M884.75 301v3M886.25 187v6M886.25 259v3M886.25 268v3M887.75 214v3M887.75 232v3M887.75 280v3M889.25 247v3M889.25 256v3M889.25 274v3M889.25 280v3M890.75 271v6M892.25 271v3M893.75 268v9M895.25 271v3M895.25 280v6M895.25 400v5M896.75 265v3M898.25 271v6M898.25 280v3M898.25 298v3M898.25 304v3M899.75 277v3M901.25 280v9M901.25 304v3M901.25 358v9M901.25 370v3M902.75 277v9M902.75 298v3M902.75 355v6M902.75 364v3M902.75 370v9M904.25 274v6M904.25 346v3M904.25 352v6M904.25 394v3M905.75 277v6M907.25 277v3M908.75 277v3M908.75 283v3M908.75 322v12M908.75 382v3M908.75 400v5M910.25 334v3M911.75 295v3M911.75 316v3M911.75 340v9M911.75 394v11M913.25 274v3M913.25 325v12M914.75 292v3M914.75 319v21M916.25 271v3M916.25 322v3M916.25 334v9M916.25 397v3M917.75 280v3M917.75 292v3M917.75 301v3M917.75 316v3M917.75 340v9M917.75 388v6M917.75 397v6M919.25 277v3M919.25 283v3M919.25 295v3M919.25 322v9M919.25 334v3M920.75 292v9M920.75 316v6M920.75 328v3M920.75 337v3M920.75 376v3M920.75 385v3M920.75 391v14M922.25 280v3M922.25 292v3M922.25 316v12M922.25 334v9M922.25 379v3M922.25 391v6M923.75 277v9M923.75 301v3M923.75 316v6M923.75 325v6M923.75 334v6M923.75 391v12M925.25 277v3M925.25 319v3M925.25 337v6M925.25 385v9M926.75 277v3M926.75 325v12M926.75 388v9M928.25 280v3M928.25 388v15M929.75 259v6M929.75 385v6M931.25 256v6M931.25 265v3M931.25 361v6M931.25 370v12M932.75 268v3M932.75 370v3M932.75 376v3M932.75 382v3M934.25 259v3M934.25 268v3M934.25 358v3M934.25 373v15M934.25 394v11M935.75 247v9M935.75 385v20M937.25 256v3M937.25 379v3M937.25 385v6M938.75 244v9M944.75 286v3"/><path stroke="#004dff" stroke-width="1.5" d="M692.75 79v3M695.75 79v3M697.25 58v3M697.25 76v3M698.75 79v3M700.25 73v3M700.25 199v3M701.75 202v3M704.75 208v3M706.25 208v3M709.25 76v3M710.75 79v6M712.25 79v3M712.25 205v3M713.75 85v3M715.25 85v6M715.25 205v3M718.25 88v3M718.25 115v15M718.25 205v3M719.75 88v3M719.75 100v3M719.75 109v15M719.75 127v18M719.75 202v6M721.25 88v3M721.25 100v3M721.25 106v6M721.25 118v3M721.25 130v3M721.25 136v9M721.25 205v3M722.75 100v3M722.75 106v9M722.75 118v3M722.75 202v6M724.25 100v3M724.25 202v3M725.75 100v6M725.75 148v3M725.75 202v3M727.25 100v6M727.25 202v3M728.75 88v3M728.75 100v6M728.75 109v3M728.75 127v3M728.75 145v3M728.75 205v3M730.25 88v3M730.25 100v9M730.25 127v3M730.25 139v3M730.25 202v3M731.75 88v3M731.75 100v6M731.75 118v3M731.75 202v3M733.25 82v6M733.25 100v45M733.25 205v3M734.75 103v3M734.75 112v3M734.75 124v3M734.75 133v9M734.75 202v3M736.25 82v3M736.25 202v3M737.75 82v3M737.75 202v3M739.25 202v3M740.75 202v3M742.25 79v3M742.25 202v3M745.25 202v3M746.75 76v3M746.75 202v3M749.75 73v3M749.75 205v3M754.25 196v3M755.75 73v3M757.25 73v3M758.75 73v3M763.25 76v3M767.75 205v3M769.25 205v3M770.75 205v3M773.75 184v21M775.25 181v6M775.25 193v6M775.25 202v3M776.75 73v3M776.75 184v6M776.75 193v15M778.25 205v6M779.75 208v3M781.25 208v9M782.75 211v3M784.25 70v3M784.25 214v3M785.75 208v3M787.25 73v3M787.25 202v3M788.75 85v6M788.75 154v3M788.75 160v6M788.75 196v6M790.25 88v3M790.25 163v3M790.25 169v3M790.25 181v18M790.25 205v3M791.75 154v6M791.75 175v3M791.75 181v15M793.25 91v6M793.25 157v3M793.25 166v6M793.25 184v6M793.25 193v3M793.25 208v3M796.25 100v3M796.25 151v3M796.25 178v3M797.75 103v3M799.25 106v3M799.25 151v3M800.75 106v3M800.75 151v3M802.25 109v3M803.75 109v3M803.75 151v3M805.25 109v3M805.25 154v3M805.25 169v9M809.75 208v3M811.25 103v6M811.25 151v3M811.25 163v3M812.75 157v3M812.75 163v3M814.25 100v3M814.25 151v15M814.25 169v3M814.25 193v3M815.75 151v15M817.25 154v12M818.75 103v3M818.75 154v6M818.75 166v3M820.25 106v6M820.25 151v3M821.75 109v3M821.75 118v3M821.75 151v6M823.25 112v3M823.25 130v3M823.25 145v3M823.25 151v6M823.25 160v3M824.75 115v3M824.75 121v9M824.75 133v9M824.75 148v3M826.25 109v12M826.25 127v12M826.25 142v18M827.75 151v6M829.25 106v3M829.25 112v6M829.25 133v3M829.25 145v6M829.25 163v9M829.25 175v12M829.25 190v6M829.25 199v3M830.75 148v3M830.75 163v6M830.75 172v27M830.75 202v3M832.25 106v9M832.25 118v9M832.25 220v6M833.75 148v3M833.75 223v6M835.25 94v3M835.25 148v3M835.25 229v3M836.75 94v6M836.75 109v3M836.75 136v12M836.75 235v3M838.25 112v3M838.25 130v15M838.25 232v9M839.75 100v6M839.75 112v3M839.75 118v12M839.75 238v6M841.25 88v6M841.25 235v3M841.25 241v9M842.75 91v6M842.75 235v3M842.75 241v9M844.25 91v9M844.25 238v3M845.75 94v3M845.75 235v15M847.25 91v6M847.25 175v12M847.25 226v12M848.75 91v3M848.75 187v6M848.75 223v12M850.25 91v3M850.25 193v6M850.25 220v6M851.75 85v3M851.75 166v3M851.75 193v6M851.75 223v3M853.25 73v15M853.25 160v3M853.25 208v3M854.75 88v3M856.25 70v3M856.25 76v9M857.75 73v12M857.75 157v3M859.25 70v9M859.25 157v3M860.75 73v6M860.75 157v3M862.25 58v6M862.25 67v3M862.25 157v3M863.75 76v3M863.75 112v3M865.25 76v3M866.75 52v6M866.75 61v12M866.75 157v3M868.25 58v3M868.25 67v6M868.25 157v3M869.75 52v6M869.75 157v3M874.25 262v3M875.75 163v3M880.25 166v3M884.75 175v3M884.75 232v3M884.75 262v12M884.75 283v3M886.25 175v3M887.75 178v3M887.75 184v3M887.75 196v6M887.75 205v3M887.75 241v3M887.75 247v3M887.75 253v9M887.75 268v3M889.25 181v3M889.25 214v12M889.25 232v3M889.25 262v6M890.75 181v6M890.75 217v3M890.75 229v3M890.75 241v3M890.75 262v3M892.25 220v6M892.25 229v39M893.75 223v9M893.75 235v3M893.75 241v3M893.75 247v15M895.25 259v6M896.75 256v3M898.25 265v3M899.75 265v6M899.75 283v3M901.25 268v6M902.75 268v3M904.25 268v3M905.75 268v6M907.25 268v6M908.75 271v3M910.25 268v3M911.75 271v12M911.75 331v3M913.25 268v3M914.75 271v9M916.25 265v6M917.75 271v3M919.25 268v3M920.75 274v3M920.75 301v3M922.25 268v6M923.75 268v3M925.25 268v6M926.75 265v3M928.25 259v6M929.75 253v6M931.25 244v6M932.75 247v3M932.75 256v6M932.75 265v3M932.75 271v3M932.75 277v3M934.25 241v9M935.75 241v3M937.25 196v3M937.25 226v6M937.25 235v6M937.25 247v9M937.25 259v6M938.75 220v21M940.25 139v18M940.25 160v3M943.25 250v24M949.25 286v3"/><path stroke="#0000d8" stroke-width="1.5" d="M692.75 82v3M694.25 82v3M695.75 82v3M697.25 193v3M698.75 85v6M698.75 190v6M700.25 85v6M700.25 190v6M701.75 85v6M701.75 187v9M703.25 82v3M703.25 88v6M703.25 187v6M704.75 82v3M704.75 88v6M704.75 187v6M704.75 199v9M706.25 85v3M706.25 91v9M706.25 187v6M706.25 199v9M707.75 88v3M707.75 94v48M707.75 145v3M707.75 172v6M707.75 187v18M709.25 91v3M709.25 100v42M709.25 145v6M709.25 169v12M709.25 187v12M710.75 94v3M710.75 103v39M710.75 145v6M710.75 169v12M710.75 190v9M712.25 94v6M712.25 145v6M712.25 169v12M712.25 193v6M713.75 97v3M713.75 148v6M713.75 166v6M713.75 178v6M713.75 196v3M715.25 148v6M715.25 166v6M715.25 178v6M715.25 196v3M716.75 151v3M716.75 166v6M716.75 178v6M716.75 196v3M718.25 151v3M718.25 169v12M718.25 196v3M719.75 151v3M719.75 169v12M719.75 196v3M721.25 151v3M721.25 169v12M721.25 196v3M722.75 151v3M722.75 196v3M724.25 196v3M725.75 196v3M727.25 151v3M727.25 193v6M728.75 151v3M728.75 169v12M728.75 190v6M730.25 151v3M730.25 169v12M730.25 190v6M731.75 151v3M731.75 169v12M731.75 187v9M733.25 151v3M733.25 166v6M733.25 178v6M733.25 187v6M734.75 151v3M734.75 166v6M734.75 178v6M734.75 187v6M736.25 151v3M736.25 166v6M736.25 178v6M736.25 187v6M737.75 94v6M737.75 151v3M737.75 169v21M739.25 91v9M739.25 148v6M739.25 169v21M740.75 88v6M740.75 148v6M740.75 169v18M742.25 85v6M742.25 94v48M742.25 145v6M742.25 172v12M743.75 85v3M743.75 91v51M743.75 145v3M743.75 175v9M745.25 88v6M745.25 178v3M746.75 88v6M746.75 178v6M748.25 88v6M748.25 178v6M749.75 88v6M749.75 178v9M751.25 82v3M751.25 88v6M751.25 181v6M752.75 82v3M752.75 88v6M752.75 184v3M754.25 82v3M754.25 88v6M755.75 82v3M755.75 88v6M755.75 187v3M757.25 82v9M757.25 154v12M757.25 187v3M758.75 82v9M758.75 151v18M758.75 187v3M760.25 85v6M760.25 148v24M760.25 187v6M761.75 85v3M761.75 148v24M761.75 187v9M763.25 148v6M763.25 166v6M763.25 190v9M764.75 82v3M764.75 148v3M764.75 169v3M764.75 196v6M766.25 82v3M766.25 148v6M766.25 166v9M766.25 181v18M767.75 82v3M767.75 148v6M767.75 166v30M769.25 79v6M769.25 148v33M770.75 79v6M770.75 151v27M772.25 79v6M772.25 151v24M773.75 79v6M773.75 166v6M775.25 82v3M775.25 166v6M776.75 82v3M776.75 166v6M778.25 79v6M778.25 151v24M779.75 79v3M779.75 148v30M781.25 76v6M781.25 148v36M782.75 73v9M782.75 148v6M782.75 166v33M784.25 73v3M784.25 148v6M784.25 169v6M784.25 196v6M785.75 76v21M785.75 148v3M785.75 169v30M787.25 94v12M787.25 145v6M788.75 100v9M788.75 145v3M790.25 103v9M790.25 145v3M791.75 106v6M791.75 145v3M793.25 106v6M793.25 145v3M794.75 109v3M794.75 145v3M796.25 109v6M796.25 145v3M797.75 112v6M797.75 145v3M799.25 115v6M799.25 145v3M800.75 115v6M800.75 145v3M802.25 115v6M802.25 145v3M803.75 118v6M803.75 145v3M805.25 118v6M805.25 145v3M806.75 118v6M806.75 145v3M808.25 118v24M808.25 145v3M809.75 121v21M811.25 124v18M832.25 151v54M833.75 151v60M835.25 151v63M836.75 151v63M838.25 151v63M839.75 151v60M841.25 151v60M842.75 133v9M842.75 145v63M844.25 121v21M844.25 145v3M844.25 151v24M845.75 118v6M845.75 151v21M847.25 115v6M847.25 151v18M848.75 112v9M848.75 151v15M850.25 112v9M850.25 151v12M851.75 109v9M851.75 151v12M853.25 109v6M854.75 109v3M856.25 109v9M856.25 154v3M857.75 112v9M857.75 151v6M859.25 118v3M859.25 151v6M860.75 118v3M860.75 148v6M862.25 148v6M863.75 148v6M865.25 148v3M866.75 148v3M868.25 85v21M868.25 148v3M869.75 82v24M869.75 148v3M871.25 76v33M871.25 148v3M872.75 52v57M872.75 118v3M872.75 148v3M874.25 52v15M874.25 106v6M874.25 118v3M874.25 148v3M875.75 106v6M875.75 118v3M875.75 148v6M877.25 109v12M877.25 148v6M878.75 109v12M878.75 148v18M880.25 109v12M880.25 148v18M881.75 112v6M881.75 151v15M884.75 166v3M886.25 166v3M887.75 166v3M889.25 166v6M890.75 166v6M892.25 169v9M893.75 172v9M895.25 178v3M896.75 178v3M898.25 178v3M899.75 178v3M901.25 178v3M902.75 178v3M904.25 178v3M905.75 178v3M907.25 178v3M908.75 178v3M910.25 178v3M911.75 178v3M913.25 178v3M914.75 178v3M916.25 178v3M917.75 178v3M919.25 178v3M920.75 178v3M922.25 178v3M923.75 178v3M925.25 178v3M926.75 178v3M928.25 178v3M929.75 178v3M931.25 178v3M932.75 178v3M934.25 178v3M935.75 175v6M937.25 175v6M943.25 166v6M944.75 166v6M946.25 166v6M947.75 166v6M949.25 166v6M950.75 166v6M952.25 166v6"/><path stroke="#0000c4" stroke-width="1.5" d="M692.75 85v57M692.75 145v51M694.25 85v57M694.25 145v51M695.75 85v57M695.75 145v51M697.25 85v57M697.25 145v48M698.75 91v51M698.75 145v45M700.25 91v51M700.25 145v45M701.75 82v3M701.75 91v51M701.75 145v42M703.25 94v48M703.25 145v42M704.75 94v48M704.75 145v42M706.25 100v42M706.25 145v42M707.75 148v24M707.75 178v9M709.25 151v18M709.25 181v6M710.75 151v18M710.75 181v9M712.25 151v18M712.25 181v12M713.75 154v12M713.75 184v12M715.25 154v12M715.25 184v12M716.75 154v12M716.75 184v12M718.25 154v15M718.25 181v15M719.75 154v15M719.75 181v15M721.25 154v15M721.25 181v15M722.75 154v42M724.25 154v42M725.75 154v42M727.25 154v39M728.75 154v15M728.75 181v9M730.25 154v15M730.25 181v9M731.75 154v15M731.75 181v6M733.25 154v12M733.25 184v3M734.75 154v12M734.75 184v3M736.25 154v12M736.25 184v3M737.75 154v15M739.25 154v15M740.75 154v15M742.25 151v21M743.75 148v27M745.25 94v48M745.25 145v33M746.75 94v48M746.75 145v33M748.25 94v48M748.25 145v33M749.75 94v48M749.75 145v33M751.25 94v48M751.25 145v36M752.75 94v48M752.75 145v39M754.25 94v48M754.25 145v42M755.75 94v48M755.75 145v42M757.25 91v51M757.25 145v9M757.25 166v21M758.75 91v51M758.75 145v6M758.75 169v18M760.25 91v51M760.25 145v3M760.25 172v15M761.75 88v54M761.75 145v3M761.75 172v15M763.25 85v57M763.25 145v3M763.25 172v18M764.75 85v57M764.75 145v3M764.75 172v24M766.25 85v57M766.25 145v3M766.25 175v6M767.75 85v57M767.75 145v3M769.25 85v57M769.25 145v3M770.75 85v57M770.75 145v6M772.25 85v57M772.25 145v6M773.75 85v57M773.75 145v21M775.25 85v57M775.25 145v21M776.75 85v57M776.75 145v21M778.25 85v57M778.25 145v6M779.75 82v60M779.75 145v3M781.25 82v60M781.25 145v3M782.75 82v60M782.75 145v3M784.25 76v66M784.25 145v3M784.25 175v21M785.75 97v45M785.75 145v3M787.25 106v36M788.75 109v33M790.25 112v30M791.75 112v30M793.25 112v30M794.75 112v30M796.25 115v27M797.75 118v24M799.25 121v21M800.75 121v21M802.25 121v21M803.75 124v18M805.25 124v18M806.75 124v18M844.25 148v3M845.75 124v18M845.75 145v6M847.25 121v21M847.25 145v6M848.75 121v21M848.75 145v6M850.25 121v21M850.25 145v6M851.75 118v24M851.75 145v6M853.25 115v27M853.25 145v12M854.75 112v30M854.75 145v12M856.25 118v24M856.25 145v9M857.75 121v21M857.75 145v6M859.25 124v18M859.25 145v6M860.75 124v18M860.75 145v3M862.25 124v18M862.25 145v3M863.75 124v18M863.75 145v3M865.25 124v18M865.25 145v3M866.75 124v18M866.75 145v3M868.25 124v18M868.25 145v3M869.75 124v18M869.75 145v3M871.25 124v18M871.25 145v3M872.75 124v18M872.75 145v3M874.25 67v39M874.25 124v18M874.25 145v3M875.75 52v54M875.75 124v18M875.75 145v3M877.25 52v57M877.25 124v18M877.25 145v3M878.75 52v57M878.75 124v18M878.75 145v3M880.25 52v57M880.25 124v18M880.25 145v3M881.75 52v9M881.75 70v42M881.75 118v3M881.75 124v18M881.75 145v6M883.25 52v9M883.25 70v51M883.25 124v18M883.25 145v21M884.75 52v9M884.75 70v51M884.75 124v18M884.75 145v21M886.25 52v69M886.25 124v18M886.25 145v21M887.75 52v69M887.75 124v18M887.75 145v21M889.25 52v69M889.25 124v18M889.25 145v21M890.75 52v69M890.75 124v18M890.75 145v21M892.25 52v69M892.25 124v18M892.25 145v24M893.75 52v69M893.75 124v18M893.75 145v27M895.25 52v69M895.25 124v18M895.25 145v33M896.75 52v69M896.75 124v18M896.75 145v33M898.25 52v69M898.25 124v18M898.25 145v33M899.75 52v69M899.75 124v18M899.75 145v33M901.25 52v69M901.25 124v18M901.25 145v33M902.75 52v69M902.75 124v18M902.75 145v33M904.25 52v69M904.25 124v18M904.25 145v33M905.75 52v69M905.75 124v18M905.75 145v33M907.25 52v69M907.25 124v18M907.25 145v33M908.75 52v69M908.75 124v18M908.75 145v33M910.25 52v69M910.25 124v18M910.25 145v33M911.75 52v69M911.75 124v18M911.75 145v33M913.25 52v69M913.25 124v18M913.25 145v33M914.75 52v69M914.75 124v18M914.75 145v33M916.25 52v69M916.25 124v18M916.25 145v33M917.75 52v69M917.75 124v18M917.75 145v33M919.25 52v69M919.25 124v18M919.25 145v33M920.75 52v69M920.75 124v18M920.75 145v33M922.25 52v69M922.25 124v18M922.25 145v33M923.75 52v69M923.75 124v18M923.75 145v33M925.25 52v90M925.25 145v33M926.75 52v90M926.75 145v33M928.25 52v90M928.25 145v33M929.75 52v90M929.75 145v33M931.25 52v90M931.25 145v33M932.75 52v90M932.75 145v33M934.25 52v90M934.25 145v33M935.75 52v90M935.75 145v30M937.25 52v90M937.25 145v30M938.75 52v90M938.75 145v18M940.25 52v87M941.75 52v90M941.75 145v18M943.25 52v90M943.25 145v21M944.75 52v90M944.75 145v21M946.25 52v90M946.25 145v21M947.75 52v90M947.75 145v21M947.75 289v18M949.25 52v90M949.25 145v21M949.25 289v18M950.75 52v90M950.75 145v21M950.75 289v18M952.25 52v90M952.25 145v21M952.25 289v18"/><path stroke="#0027ff" stroke-width="1.5" d="M692.75 142v3M692.75 196v3M694.25 79v3M694.25 142v3M694.25 196v3M695.75 142v3M695.75 196v3M697.25 79v3M697.25 142v3M698.75 142v3M700.25 142v3M701.75 73v3M701.75 142v3M701.75 199v3M703.25 142v3M703.25 205v3M704.75 142v3M706.25 73v3M706.25 142v3M707.75 76v3M707.75 142v3M709.25 79v6M709.25 142v3M710.75 85v3M710.75 142v3M710.75 205v3M712.25 85v3M712.25 142v3M712.25 202v3M713.75 88v3M713.75 142v3M713.75 202v3M715.25 91v3M715.25 100v3M715.25 142v3M715.25 202v3M716.75 91v3M716.75 100v3M716.75 109v36M716.75 202v3M718.25 91v3M718.25 100v15M718.25 130v18M718.25 202v3M719.75 91v3M719.75 103v6M719.75 145v3M721.25 91v3M721.25 103v3M721.25 145v3M721.25 202v3M722.75 91v3M722.75 103v3M722.75 148v3M724.25 91v3M724.25 148v3M725.75 91v3M727.25 91v3M727.25 148v3M728.75 91v3M728.75 148v3M728.75 202v3M730.25 91v3M730.25 148v3M730.25 199v3M731.75 148v3M731.75 199v3M733.25 88v3M733.25 145v3M733.25 199v6M734.75 85v6M734.75 100v3M734.75 106v6M734.75 115v9M734.75 127v6M734.75 142v6M734.75 199v3M736.25 85v3M736.25 100v48M736.25 199v3M737.75 100v45M737.75 196v6M739.25 82v3M739.25 142v3M739.25 199v3M740.75 82v3M740.75 142v3M740.75 196v6M742.25 142v3M742.25 196v6M743.75 79v3M743.75 142v3M743.75 199v6M745.25 79v3M745.25 142v3M745.25 196v6M746.75 79v3M746.75 142v3M746.75 196v6M748.25 79v3M748.25 142v3M748.25 193v12M749.75 76v3M749.75 142v3M749.75 193v12M751.25 76v3M751.25 142v3M751.25 193v15M752.75 76v3M752.75 142v3M752.75 193v15M754.25 76v3M754.25 142v3M754.25 190v3M754.25 199v3M754.25 205v3M755.75 76v3M755.75 142v3M755.75 193v9M755.75 205v3M757.25 76v3M757.25 142v3M757.25 193v6M757.25 205v3M758.75 76v3M758.75 142v3M758.75 205v3M760.25 76v3M760.25 142v3M760.25 205v3M761.75 76v3M761.75 142v3M761.75 205v3M763.25 142v3M763.25 205v3M764.75 76v3M764.75 205v3M766.25 76v3M766.25 142v3M766.25 205v3M767.75 76v3M767.75 142v3M769.25 73v3M769.25 142v3M769.25 202v3M770.75 73v3M770.75 142v3M770.75 196v9M772.25 73v3M772.25 142v3M772.25 181v24M773.75 142v3M773.75 178v6M775.25 76v3M775.25 142v3M775.25 178v3M776.75 76v3M776.75 142v3M776.75 181v3M776.75 190v3M778.25 73v3M778.25 142v3M778.25 184v21M779.75 142v3M779.75 199v9M781.25 142v3M781.25 202v6M782.75 142v3M782.75 205v6M784.25 142v3M784.25 208v6M785.75 142v3M785.75 205v3M787.25 76v12M787.25 142v3M787.25 154v12M787.25 199v3M788.75 91v3M788.75 142v3M788.75 151v3M788.75 157v3M788.75 166v6M788.75 178v18M790.25 91v6M790.25 142v3M790.25 151v12M790.25 166v3M790.25 172v9M791.75 94v6M791.75 151v3M791.75 160v15M791.75 178v3M793.25 97v6M793.25 142v3M793.25 151v6M793.25 160v6M793.25 172v12M793.25 196v6M793.25 205v3M794.75 100v3M794.75 142v3M794.75 148v3M796.25 103v3M796.25 142v3M796.25 148v3M797.75 106v3M797.75 142v3M797.75 148v3M799.25 109v3M799.25 142v3M799.25 148v3M800.75 109v3M800.75 142v3M800.75 148v3M802.25 142v3M802.25 148v3M803.75 112v3M803.75 142v3M803.75 148v3M805.25 112v3M805.25 142v3M805.25 148v6M806.75 112v3M806.75 142v3M806.75 148v6M808.25 112v3M808.25 142v3M808.25 148v3M809.75 109v3M809.75 142v3M809.75 148v3M811.25 109v3M811.25 142v3M811.25 148v3M812.75 103v9M812.75 142v3M812.75 148v6M814.25 103v3M814.25 142v3M814.25 148v3M815.75 103v3M815.75 142v3M815.75 148v3M817.25 103v12M817.25 142v12M818.75 106v48M818.75 160v6M820.25 112v39M821.75 112v6M821.75 121v30M821.75 202v3M823.25 115v15M823.25 133v12M823.25 148v3M826.25 139v3M829.25 136v3M829.25 151v12M829.25 187v3M830.75 151v12M830.75 169v3M832.25 115v3M832.25 214v6M833.75 220v3M835.25 223v6M836.75 148v3M836.75 223v12M836.75 244v3M838.25 145v6M838.25 223v9M839.75 130v18M839.75 223v15M841.25 94v36M841.25 142v3M841.25 223v12M841.25 238v3M842.75 97v21M842.75 142v3M842.75 223v12M842.75 238v3M844.25 100v3M844.25 142v3M844.25 223v15M845.75 97v6M845.75 142v3M845.75 223v12M847.25 97v6M847.25 142v3M847.25 172v3M847.25 187v6M847.25 220v6M848.75 94v6M848.75 142v3M848.75 169v3M848.75 193v6M848.75 220v3M850.25 94v6M850.25 142v3M850.25 166v3M850.25 199v3M850.25 217v3M851.75 88v9M851.75 142v3M851.75 199v6M851.75 217v6M853.25 88v6M853.25 142v3M854.75 91v3M854.75 142v3M854.75 157v3M856.25 73v3M856.25 85v6M856.25 142v3M856.25 157v3M857.75 85v6M857.75 142v3M859.25 79v12M859.25 142v3M860.75 79v9M860.75 142v3M862.25 70v12M862.25 112v3M862.25 142v3M863.75 79v6M863.75 109v3M863.75 115v3M863.75 142v3M865.25 79v3M865.25 109v9M865.25 142v3M866.75 58v3M866.75 73v6M866.75 109v3M866.75 115v3M866.75 142v3M868.25 73v3M868.25 115v3M868.25 142v3M869.75 58v12M869.75 115v3M869.75 142v3M871.25 142v3M871.25 157v3M872.75 142v3M872.75 157v6M874.25 142v3M874.25 160v3M875.75 142v3M877.25 142v3M878.75 142v3M880.25 142v3M881.75 61v9M881.75 142v3M881.75 166v3M883.25 61v9M883.25 142v3M883.25 169v3M884.75 61v9M884.75 142v3M884.75 172v3M886.25 142v3M886.25 172v3M887.75 142v3M887.75 175v3M887.75 190v6M887.75 262v6M889.25 142v3M889.25 175v6M889.25 199v15M890.75 142v3M890.75 178v3M890.75 208v9M892.25 142v3M892.25 181v6M892.25 214v6M893.75 142v3M893.75 220v3M893.75 232v3M893.75 238v3M893.75 244v3M895.25 142v3M895.25 223v36M896.75 142v3M896.75 247v9M898.25 142v3M898.25 250v15M899.75 142v3M899.75 253v12M901.25 142v3M901.25 253v15M902.75 142v3M902.75 253v15M904.25 142v3M904.25 253v15M905.75 142v3M905.75 253v15M907.25 142v3M907.25 259v9M908.75 142v3M908.75 262v9M910.25 142v3M910.25 262v6M911.75 142v3M911.75 265v6M913.25 142v3M913.25 262v6M914.75 142v3M914.75 265v6M916.25 142v3M916.25 262v3M917.75 142v3M917.75 265v6M919.25 142v3M919.25 262v6M920.75 142v3M920.75 262v12M922.25 142v3M922.25 262v6M923.75 142v3M923.75 262v6M925.25 142v3M925.25 262v6M926.75 142v3M926.75 259v6M928.25 142v3M928.25 250v9M929.75 142v3M929.75 244v9M931.25 142v3M931.25 241v3M932.75 142v3M932.75 238v9M932.75 250v6M932.75 262v3M932.75 274v3M934.25 142v3M934.25 226v6M934.25 235v6M935.75 142v3M935.75 226v3M935.75 232v9M937.25 142v3M937.25 187v9M937.25 199v27M937.25 232v3M937.25 241v6M938.75 142v3M938.75 205v15M940.25 157v3M941.75 142v3M943.25 142v3M943.25 220v30M944.75 142v3M946.25 142v3M947.75 142v3M947.75 286v3M949.25 142v3M950.75 142v3M950.75 286v3M952.25 142v3M952.25 286v3"/><path stroke="#00ff92" stroke-width="1.5" d="M692.75 205v9M692.75 217v6M692.75 376v3M694.25 208v3M694.25 313v3M695.75 208v3M695.75 214v3M695.75 220v6M695.75 382v3M695.75 388v3M697.25 253v3M697.25 394v3M697.25 400v5M698.75 55v6M698.75 64v3M698.75 199v6M698.75 331v3M698.75 352v3M698.75 358v3M700.25 220v3M700.25 235v3M700.25 241v3M700.25 304v3M700.25 313v6M700.25 349v3M700.25 382v3M701.75 400v3M703.25 313v3M703.25 319v3M703.25 358v3M703.25 379v3M704.75 373v3M704.75 382v6M704.75 391v3M706.25 370v3M706.25 376v3M706.25 394v3M707.75 58v3M707.75 328v6M707.75 391v3M709.25 61v3M709.25 67v3M709.25 370v3M709.25 382v3M710.75 52v3M710.75 58v3M710.75 67v6M710.75 373v6M710.75 382v3M710.75 400v3M713.75 70v3M713.75 214v3M713.75 391v3M715.25 295v3M715.25 322v3M715.25 328v6M715.25 352v3M715.25 373v3M716.75 217v3M716.75 289v3M716.75 382v3M718.25 256v6M718.25 289v3M718.25 298v3M718.25 304v3M718.25 340v3M718.25 358v6M719.75 223v3M719.75 313v3M719.75 328v3M721.25 73v3M721.25 283v3M721.25 325v3M721.25 349v3M722.75 250v3M722.75 256v3M722.75 262v3M722.75 268v9M722.75 280v6M722.75 346v6M724.25 76v3M724.25 226v3M724.25 262v3M724.25 274v6M724.25 358v9M724.25 370v3M725.75 76v3M725.75 346v3M725.75 358v3M725.75 370v3M727.25 214v3M727.25 253v3M727.25 268v3M727.25 325v3M727.25 334v3M727.25 346v3M727.25 376v3M728.75 73v3M728.75 256v3M728.75 301v3M728.75 313v12M728.75 337v6M730.25 76v3M730.25 217v3M730.25 241v3M730.25 247v3M730.25 253v6M730.25 376v3M730.25 394v9M731.75 73v3M731.75 208v6M731.75 229v3M731.75 235v3M731.75 244v9M731.75 376v6M733.25 340v3M733.25 349v6M733.25 367v3M733.25 397v3M734.75 52v3M734.75 217v3M734.75 226v6M734.75 250v3M734.75 259v3M734.75 265v3M734.75 313v3M734.75 331v6M734.75 340v6M734.75 349v3M734.75 367v3M734.75 379v3M736.25 220v3M736.25 259v3M736.25 265v3M736.25 277v3M736.25 283v3M736.25 292v6M736.25 304v3M736.25 313v6M736.25 322v3M736.25 340v3M736.25 364v12M737.75 229v3M737.75 244v3M737.75 298v3M737.75 358v3M739.25 223v6M739.25 235v3M739.25 367v6M740.75 211v3M742.25 211v3M742.25 229v3M742.25 235v3M743.75 211v3M745.25 67v6M745.25 214v6M745.25 232v3M746.75 67v3M746.75 211v6M748.25 67v3M748.25 211v3M748.25 220v9M748.25 232v3M749.75 52v3M749.75 64v3M749.75 235v6M749.75 352v3M751.25 70v3M752.75 232v3M754.25 67v3M755.75 55v3M755.75 244v3M757.25 58v3M757.25 244v6M757.25 256v3M757.25 283v3M758.75 55v3M758.75 247v3M758.75 262v6M758.75 271v3M760.25 52v3M760.25 58v6M760.25 70v3M760.25 241v3M761.75 52v3M761.75 244v3M764.75 64v3M764.75 265v3M764.75 271v3M766.25 52v3M766.25 58v3M766.25 67v3M767.75 247v3M772.25 52v3M772.25 58v3M772.25 64v6M772.25 238v3M775.25 52v9M778.25 229v3M781.25 247v3M782.75 232v3M784.25 238v3M785.75 232v3M787.25 229v3M787.25 235v6M788.75 64v3M788.75 226v3M790.25 229v3M790.25 235v3M791.75 223v6M794.75 79v3M794.75 211v6M796.25 55v3M796.25 61v3M796.25 70v3M797.75 55v3M797.75 85v3M797.75 91v3M797.75 223v3M800.75 55v3M800.75 61v3M800.75 70v6M800.75 223v12M802.25 88v3M802.25 223v3M803.75 58v3M803.75 64v3M803.75 235v3M805.25 52v9M805.25 64v3M805.25 85v9M805.25 238v3M806.75 61v6M806.75 82v6M806.75 235v3M806.75 241v6M806.75 250v6M808.25 94v3M808.25 211v3M809.75 91v3M809.75 235v3M811.25 88v3M811.25 229v3M814.25 220v6M815.75 211v3M817.25 91v3M818.75 82v3M818.75 235v3M820.25 238v3M821.75 247v3M823.25 91v6M823.25 229v3M823.25 241v3M826.25 232v3M826.25 259v6M829.25 235v3M829.25 256v3M829.25 265v3M830.75 253v3M833.75 82v6M833.75 283v3M835.25 283v3M835.25 343v3M836.75 73v3M836.75 271v3M838.25 79v3M839.75 52v3M839.75 64v3M839.75 286v3M839.75 334v3M839.75 340v3M841.25 52v3M841.25 61v3M841.25 277v3M841.25 349v3M842.75 337v6M844.25 259v6M844.25 328v6M844.25 349v6M844.25 361v3M845.75 271v6M845.75 334v3M845.75 340v9M847.25 55v3M847.25 331v6M847.25 346v3M848.75 274v3M848.75 313v6M848.75 322v6M848.75 331v6M848.75 346v3M850.25 52v6M850.25 256v3M851.75 250v3M851.75 265v3M851.75 313v6M851.75 325v6M851.75 373v3M853.25 187v3M853.25 256v3M853.25 265v3M853.25 274v3M853.25 316v3M853.25 388v3M853.25 403v2M854.75 334v6M854.75 346v9M854.75 358v6M854.75 367v9M856.25 166v3M856.25 244v3M856.25 250v6M856.25 259v6M856.25 289v9M856.25 304v3M856.25 385v3M856.25 397v3M857.75 235v3M857.75 241v3M857.75 316v6M857.75 325v9M857.75 346v12M857.75 361v6M857.75 370v6M857.75 379v3M859.25 196v3M859.25 250v3M859.25 256v3M859.25 265v3M859.25 286v6M859.25 388v3M860.75 226v3M860.75 238v6M860.75 256v6M860.75 295v3M860.75 304v3M860.75 313v3M860.75 319v6M862.25 163v3M862.25 238v6M862.25 250v6M862.25 271v3M863.75 199v3M863.75 238v3M863.75 244v6M863.75 265v6M863.75 277v3M863.75 298v6M863.75 313v3M865.25 247v3M865.25 280v3M865.25 286v6M865.25 295v3M865.25 304v3M866.75 250v3M868.25 223v9M868.25 238v3M868.25 244v3M868.25 250v3M868.25 271v6M868.25 313v9M871.25 292v3M874.25 166v3M875.75 226v3M875.75 235v3M877.25 298v3M877.25 304v3M878.75 211v3M878.75 223v3M878.75 298v3M878.75 304v3M880.25 172v3M880.25 292v6M881.75 178v3M881.75 193v6M883.25 217v3M883.25 229v3M890.75 301v3M893.75 295v3M896.75 295v3M926.75 286v3M929.75 289v3M929.75 295v6M931.25 292v6M932.75 295v3M934.25 292v6M934.25 304v3M937.25 283v6M937.25 313v6M938.75 328v6M940.25 205v3M941.75 205v3M941.75 214v3M941.75 253v3M941.75 403v2M943.25 292v3M944.75 292v3M944.75 301v3M946.25 295v3M946.25 304v3M946.25 337v6M946.25 391v3M946.25 397v3M716.75 428v6M851.75 434v11M854.75 434v11M856.25 434v11M860.75 434v11M871.25 434v11M875.75 428v6M880.25 428v17M881.75 434v11M883.25 428v6M886.25 428v6M886.25 465v11M889.25 428v6M889.25 445v10M890.75 465v11M892.25 428v6M893.75 428v6M895.25 455v10M896.75 428v6M899.75 428v6M899.75 455v10M929.75 434v11M929.75 465v21M931.25 434v11M931.25 465v21M934.25 465v21M937.25 428v6"/><path stroke="#00ff7d" stroke-width="1.5" d="M692.75 214v3M692.75 316v3M692.75 325v3M692.75 379v3M694.25 211v3M694.25 379v6M695.75 211v3M695.75 217v3M695.75 385v3M697.25 229v3M697.25 244v6M697.25 298v3M697.25 304v3M697.25 388v6M697.25 397v3M698.75 61v3M698.75 325v6M698.75 346v3M698.75 382v3M700.25 226v3M700.25 238v3M700.25 244v3M700.25 256v3M700.25 298v6M700.25 385v3M701.75 379v9M701.75 391v9M701.75 403v2M703.25 364v3M703.25 376v3M703.25 385v3M706.25 373v3M706.25 379v3M706.25 397v8M707.75 337v3M707.75 352v3M707.75 382v9M707.75 394v3M707.75 400v5M709.25 58v3M710.75 55v3M710.75 61v6M710.75 379v3M710.75 385v3M710.75 403v2M712.25 55v3M712.25 61v3M713.75 67v3M713.75 388v3M715.25 70v3M715.25 304v3M715.25 325v3M716.75 241v3M716.75 247v6M716.75 292v3M716.75 304v3M716.75 316v6M716.75 331v3M718.25 253v3M718.25 292v6M719.75 286v6M719.75 316v9M719.75 334v3M721.25 316v9M721.25 328v3M721.25 343v3M722.75 76v6M722.75 253v3M722.75 286v3M722.75 325v3M722.75 334v3M722.75 340v6M722.75 400v5M724.25 223v3M724.25 259v3M724.25 268v3M724.25 340v3M724.25 346v3M724.25 367v3M725.75 217v6M725.75 319v6M725.75 349v6M725.75 364v3M727.25 220v3M727.25 226v15M727.25 256v3M727.25 265v3M727.25 274v3M727.25 289v3M727.25 316v3M727.25 328v3M727.25 337v3M727.25 349v3M727.25 364v3M728.75 259v3M728.75 265v3M728.75 292v3M728.75 298v3M728.75 304v3M728.75 331v3M730.25 73v3M730.25 214v3M730.25 220v3M730.25 229v9M730.25 277v3M730.25 346v3M731.75 220v3M731.75 226v3M731.75 232v3M731.75 241v3M731.75 253v3M731.75 262v3M731.75 370v6M731.75 388v3M733.25 298v3M733.25 331v6M733.25 343v3M733.25 358v3M734.75 58v3M734.75 214v3M734.75 223v3M734.75 274v3M734.75 292v3M734.75 337v3M734.75 346v3M734.75 352v3M736.25 70v3M736.25 226v3M736.25 256v3M736.25 280v3M736.25 319v3M736.25 343v3M737.75 214v3M737.75 223v3M737.75 232v9M737.75 301v6M737.75 316v3M737.75 352v6M739.25 220v3M739.25 232v3M739.25 373v3M740.75 238v3M742.25 220v6M742.25 241v3M743.75 52v6M743.75 274v3M745.25 220v3M745.25 226v6M745.25 247v3M745.25 400v3M746.75 64v3M746.75 217v6M746.75 331v3M748.25 64v3M749.75 61v3M749.75 247v3M749.75 262v3M749.75 268v3M749.75 313v3M749.75 355v3M749.75 370v6M751.25 67v3M751.25 241v6M752.75 235v3M752.75 271v3M752.75 280v3M754.25 64v3M754.25 238v3M755.75 52v3M755.75 61v6M755.75 247v3M757.25 253v3M757.25 259v3M757.25 280v3M758.75 52v3M758.75 58v3M760.25 55v3M760.25 244v3M763.25 70v3M763.25 250v6M764.75 253v3M764.75 280v3M766.25 55v3M766.25 61v3M766.25 250v3M772.25 55v3M772.25 241v3M773.75 247v6M775.25 235v6M776.75 52v3M776.75 235v3M778.25 235v3M779.75 241v3M781.25 250v3M782.75 235v9M784.25 241v3M785.75 235v3M788.75 55v9M790.25 232v3M793.25 226v3M794.75 76v3M796.25 67v3M796.25 76v3M797.75 88v3M797.75 229v3M799.25 79v3M800.75 76v6M800.75 244v3M802.25 61v3M802.25 76v6M802.25 85v3M802.25 229v3M803.75 85v6M803.75 232v3M803.75 241v3M805.25 73v3M806.75 52v3M806.75 58v3M806.75 79v3M806.75 247v3M808.25 214v6M808.25 226v3M809.75 238v3M811.25 85v3M812.75 232v3M814.25 82v3M815.75 85v3M815.75 214v3M817.25 88v3M817.25 229v3M818.75 79v3M818.75 232v3M818.75 253v3M820.25 91v3M820.25 244v3M821.75 244v3M823.25 232v3M823.25 238v3M824.75 220v12M826.25 91v3M826.25 235v3M827.75 91v6M827.75 232v9M829.25 85v3M829.25 247v3M829.25 253v3M830.75 259v3M832.25 277v6M833.75 277v3M835.25 76v3M835.25 337v6M835.25 346v3M835.25 355v3M836.75 76v3M838.25 76v3M838.25 289v3M838.25 334v6M839.75 331v3M839.75 337v3M839.75 343v6M839.75 361v3M841.25 55v6M841.25 280v3M841.25 334v15M842.75 334v3M842.75 346v24M844.25 268v6M844.25 280v6M844.25 316v3M844.25 355v6M844.25 364v6M845.75 328v6M845.75 349v3M847.25 271v3M847.25 277v6M847.25 328v3M847.25 349v9M848.75 277v3M848.75 283v3M848.75 319v3M848.75 337v9M848.75 355v3M848.75 364v3M848.75 370v3M848.75 397v3M850.25 250v3M850.25 262v9M850.25 274v3M850.25 337v6M850.25 358v3M851.75 253v3M851.75 259v3M851.75 268v3M851.75 319v6M851.75 376v9M851.75 397v3M851.75 403v2M853.25 175v6M853.25 259v3M853.25 283v3M853.25 292v3M853.25 298v3M853.25 304v3M853.25 379v9M853.25 391v12M854.75 166v3M854.75 241v6M854.75 316v18M854.75 340v3M854.75 376v6M856.25 169v3M856.25 190v3M856.25 256v3M856.25 265v3M856.25 271v3M856.25 280v3M856.25 301v3M856.25 394v3M857.75 238v3M857.75 262v3M857.75 268v3M857.75 322v3M857.75 334v12M857.75 376v3M857.75 385v3M857.75 397v3M859.25 277v9M859.25 292v3M859.25 298v3M860.75 196v6M860.75 250v3M860.75 274v3M860.75 280v3M860.75 301v3M862.25 256v3M863.75 235v3M863.75 250v9M863.75 274v3M863.75 280v3M863.75 292v3M865.25 241v3M868.25 211v6M868.25 232v3M868.25 280v3M869.75 298v3M869.75 304v3M877.25 205v3M877.25 295v3M878.75 169v3M878.75 214v3M878.75 226v3M878.75 301v3M880.25 187v3M880.25 193v3M881.75 181v3M883.25 220v9M896.75 289v6M896.75 304v3M929.75 286v3M929.75 292v3M931.25 298v9M932.75 292v3M932.75 298v3M932.75 304v3M935.75 280v3M940.25 208v6M940.25 238v3M940.25 244v3M940.25 253v3M941.75 208v3M941.75 226v3M941.75 235v3M941.75 247v3M941.75 259v3M941.75 277v6M941.75 286v3M941.75 292v3M941.75 298v3M941.75 304v3M944.75 295v6M944.75 304v3M944.75 319v6M944.75 328v15M946.25 313v6M946.25 322v9M946.25 400v3M422.75 434v11M454.25 434v11M698.75 428v6M713.75 428v6M733.25 434v11M739.25 428v6M844.25 434v11M850.25 434v11M857.75 434v11M868.25 428v6M877.25 428v6M878.75 428v6M881.75 428v6M883.25 465v11M884.75 428v6M887.75 428v6M889.25 465v11M890.75 428v6M929.75 445v10M935.75 428v6M937.25 476v10"/><path stroke="#00ff55" stroke-width="1.5" d="M692.75 223v6M692.75 238v3M692.75 274v3M692.75 289v3M692.75 298v3M692.75 388v3M694.25 217v3M694.25 223v3M694.25 292v3M694.25 403v2M695.75 271v3M695.75 289v3M695.75 295v3M695.75 301v6M697.25 238v3M697.25 262v3M697.25 268v6M698.75 205v3M698.75 211v6M698.75 226v3M698.75 322v3M698.75 379v3M700.25 262v6M700.25 292v3M700.25 397v3M701.75 388v3M703.25 388v3M715.25 67v3M716.75 301v3M718.25 52v3M718.25 61v3M718.25 67v3M719.75 67v3M719.75 292v3M719.75 298v9M721.25 67v3M721.25 289v3M721.25 313v3M721.25 331v6M722.75 292v6M722.75 304v3M724.25 283v3M724.25 313v3M724.25 325v3M724.25 334v6M724.25 349v3M725.75 286v9M725.75 325v3M725.75 331v3M727.25 259v3M727.25 277v3M727.25 298v3M727.25 319v3M728.75 271v9M728.75 289v3M730.25 238v3M730.25 289v3M730.25 295v6M730.25 343v3M730.25 352v3M730.25 364v3M730.25 370v3M730.25 382v3M731.75 256v6M731.75 268v6M731.75 298v3M731.75 331v3M731.75 349v3M731.75 358v3M731.75 364v6M731.75 385v3M731.75 400v5M733.25 58v3M733.25 64v3M733.25 271v15M733.25 292v6M733.25 301v6M733.25 313v3M733.25 322v3M734.75 55v3M734.75 67v3M734.75 277v6M734.75 286v6M734.75 298v3M737.75 217v6M737.75 250v9M737.75 289v6M737.75 319v3M737.75 328v3M737.75 340v9M737.75 373v3M737.75 385v3M737.75 397v6M739.25 238v6M739.25 250v3M739.25 265v3M739.25 274v3M739.25 280v3M739.25 286v3M739.25 295v3M739.25 301v3M739.25 313v3M739.25 358v9M739.25 379v6M739.25 388v3M740.75 217v15M740.75 235v3M740.75 247v3M740.75 301v6M740.75 316v3M740.75 325v3M742.25 247v3M743.75 214v3M743.75 220v3M743.75 226v3M743.75 259v3M743.75 271v3M743.75 292v3M743.75 298v3M743.75 340v3M743.75 391v6M743.75 400v3M745.25 61v3M745.25 244v3M745.25 265v3M745.25 274v3M745.25 280v6M745.25 292v3M745.25 301v3M745.25 373v3M745.25 379v3M745.25 388v6M745.25 403v2M746.75 223v6M746.75 235v3M746.75 241v3M746.75 262v3M746.75 271v3M746.75 280v3M746.75 325v6M746.75 334v9M746.75 391v3M748.25 52v3M748.25 61v3M748.25 214v3M748.25 244v3M749.75 244v3M749.75 250v6M749.75 265v3M749.75 280v3M749.75 286v6M749.75 295v3M749.75 301v3M749.75 316v3M749.75 325v6M749.75 340v3M749.75 376v3M751.25 283v3M751.25 292v3M751.25 304v3M751.25 337v3M751.25 343v3M751.25 349v6M752.75 64v3M752.75 238v3M752.75 244v3M752.75 259v3M752.75 268v3M752.75 283v6M754.25 61v3M755.75 250v3M755.75 262v3M755.75 268v6M755.75 280v3M755.75 301v3M755.75 328v9M757.25 292v3M757.25 361v3M758.75 253v3M758.75 280v3M758.75 286v3M760.25 250v3M761.75 250v3M763.25 67v3M763.25 262v6M764.75 256v6M766.25 262v6M767.75 52v6M767.75 61v3M767.75 250v6M772.25 247v6M772.25 262v3M773.75 253v3M778.25 232v3M778.25 241v3M778.25 247v3M779.75 250v6M782.75 244v3M784.25 247v12M784.25 268v3M785.75 238v6M787.25 250v3M787.25 256v3M790.25 241v3M793.25 229v6M793.25 238v3M794.75 58v3M794.75 64v6M794.75 73v3M796.25 217v3M796.25 223v3M797.75 52v3M797.75 58v3M797.75 64v3M799.25 55v6M799.25 67v3M799.25 76v3M800.75 52v3M800.75 238v3M800.75 247v3M802.25 55v6M802.25 64v3M802.25 70v3M802.25 238v6M803.75 67v3M803.75 73v3M803.75 238v3M805.25 70v3M805.25 76v3M805.25 82v3M805.25 241v3M805.25 256v3M805.25 271v3M806.75 76v3M806.75 262v3M808.25 52v6M808.25 64v3M808.25 88v3M808.25 229v6M809.75 52v3M809.75 64v3M809.75 79v3M809.75 88v3M811.25 52v3M811.25 67v3M811.25 73v3M811.25 235v3M812.75 55v3M812.75 61v3M812.75 70v3M812.75 235v6M814.25 232v3M815.75 79v6M815.75 223v3M815.75 232v3M818.75 238v3M818.75 244v6M820.25 250v3M823.25 88v3M823.25 247v3M824.75 232v3M824.75 244v3M826.25 265v3M827.75 88v3M827.75 244v6M829.25 268v3M829.25 274v3M829.25 283v3M830.75 79v3M830.75 85v3M830.75 262v3M830.75 280v3M832.25 361v9M832.25 373v3M832.25 391v3M833.75 52v9M833.75 76v3M833.75 289v3M835.25 55v3M835.25 61v3M835.25 289v3M835.25 331v3M835.25 349v3M835.25 358v3M836.75 52v6M836.75 61v3M836.75 70v3M836.75 289v3M836.75 337v3M836.75 343v6M838.25 58v3M838.25 67v3M838.25 292v3M838.25 325v6M838.25 349v3M838.25 355v12M839.75 319v6M839.75 352v3M839.75 358v3M839.75 367v3M841.25 313v3M841.25 322v3M841.25 328v3M841.25 355v9M841.25 367v3M842.75 295v3M842.75 313v15M842.75 370v3M842.75 385v6M844.25 277v3M844.25 298v3M844.25 304v3M844.25 373v15M844.25 391v14M845.75 277v9M845.75 313v6M845.75 358v3M845.75 370v9M845.75 382v9M845.75 397v3M845.75 403v2M847.25 283v3M847.25 316v3M847.25 373v6M847.25 385v6M847.25 394v11M848.75 280v3M848.75 301v3M848.75 382v3M848.75 388v6M848.75 400v3M850.25 286v3M850.25 319v3M850.25 325v9M850.25 376v6M851.75 256v3M851.75 262v3M851.75 271v3M851.75 277v3M851.75 283v3M853.25 295v3M853.25 301v3M854.75 259v3M854.75 265v3M854.75 283v3M854.75 289v3M854.75 388v6M854.75 403v2M856.25 172v6M856.25 181v3M856.25 274v3M856.25 283v3M857.75 166v3M857.75 196v3M857.75 250v3M857.75 259v3M857.75 280v9M857.75 295v6M857.75 304v3M859.25 193v3M863.75 283v3M863.75 289v3M865.25 163v3M865.25 199v3M868.25 208v3M868.25 289v3M868.25 295v3M869.75 286v3M869.75 292v3M871.25 187v3M871.25 196v3M874.25 169v3M880.25 175v3M880.25 190v3M880.25 196v6M896.75 301v3M932.75 301v3M937.25 289v3M937.25 295v3M940.25 163v3M940.25 175v6M940.25 223v12M941.75 229v3M941.75 238v3M941.75 268v3M941.75 283v3M941.75 295v3M941.75 313v3M941.75 319v6M941.75 355v3M943.25 295v3M943.25 301v3M943.25 316v9M943.25 343v3M943.25 364v6M370.25 434v11M391.25 434v11M415.25 434v11M422.75 445v10M427.25 434v11M433.25 434v11M454.25 428v6M464.75 434v11M598.25 434v11M692.75 428v6M697.25 428v6M733.25 428v6M740.75 428v17M745.25 428v6M748.25 428v6M847.25 434v11M848.75 434v11M853.25 455v10M854.75 455v10M857.75 445v20M859.25 445v10M862.25 465v11M866.75 428v6M871.25 445v10M874.25 434v11M883.25 445v10M887.75 465v11M893.75 455v10M895.25 486v10M913.25 486v10M935.75 434v11"/><path stroke="#00ff41" stroke-width="1.5" d="M692.75 229v3M692.75 244v3M692.75 268v6M692.75 280v3M692.75 286v3M692.75 304v3M692.75 382v6M694.25 226v3M694.25 271v6M694.25 286v3M694.25 388v3M694.25 394v3M694.25 400v3M695.75 232v3M695.75 268v3M695.75 277v3M695.75 283v3M695.75 292v3M695.75 298v3M695.75 397v3M697.25 277v3M697.25 283v9M698.75 220v6M700.25 277v3M700.25 388v9M700.25 403v2M703.25 391v3M703.25 397v3M710.75 391v3M713.75 52v3M713.75 64v3M715.25 58v3M716.75 298v3M718.25 55v6M719.75 295v3M721.25 52v12M721.25 70v3M721.25 295v12M722.75 289v3M722.75 298v6M722.75 316v3M724.25 292v3M724.25 316v9M724.25 328v6M725.75 73v3M725.75 313v6M725.75 334v3M727.25 73v3M727.25 280v9M727.25 295v3M727.25 304v3M727.25 313v3M728.75 67v3M728.75 283v3M730.25 274v3M730.25 322v6M730.25 355v6M731.75 292v3M731.75 313v3M731.75 319v3M731.75 352v6M731.75 394v3M733.25 55v3M733.25 61v3M733.25 67v3M733.25 316v3M733.25 325v3M736.25 52v3M736.25 58v3M737.75 70v3M737.75 226v3M737.75 262v6M737.75 286v3M737.75 295v3M737.75 322v3M737.75 331v3M737.75 370v3M737.75 379v6M737.75 388v3M739.25 244v6M739.25 262v3M739.25 268v6M739.25 289v3M739.25 304v3M739.25 322v3M739.25 355v3M739.25 391v3M740.75 241v3M740.75 250v3M740.75 280v3M740.75 292v9M740.75 313v3M740.75 328v6M742.25 70v3M742.25 244v3M742.25 250v3M742.25 256v3M742.25 262v6M742.25 289v3M742.25 301v3M742.25 319v9M742.25 391v3M743.75 217v3M743.75 223v3M743.75 241v3M743.75 247v3M743.75 253v3M743.75 268v3M743.75 295v3M743.75 343v3M743.75 379v6M745.25 55v3M745.25 64v3M745.25 250v3M745.25 259v3M745.25 268v6M745.25 286v6M745.25 346v3M745.25 355v6M745.25 367v6M745.25 376v3M745.25 394v3M746.75 52v6M746.75 229v3M746.75 250v3M746.75 256v3M746.75 268v3M746.75 277v3M746.75 304v3M746.75 316v3M746.75 346v6M746.75 385v3M748.25 55v3M748.25 238v6M748.25 289v15M748.25 346v3M749.75 259v3M749.75 274v6M749.75 283v3M749.75 304v3M749.75 337v3M749.75 343v3M749.75 367v3M749.75 385v3M751.25 61v6M751.25 250v3M751.25 256v3M751.25 262v6M751.25 277v6M751.25 286v6M751.25 295v3M751.25 322v3M751.25 334v3M751.25 361v3M752.75 61v3M752.75 241v3M752.75 247v3M752.75 265v3M752.75 289v3M752.75 343v3M754.25 241v3M754.25 250v3M754.25 322v3M755.75 253v3M755.75 259v3M755.75 274v3M755.75 283v3M755.75 289v3M755.75 304v3M755.75 313v3M755.75 340v3M755.75 349v3M755.75 370v3M757.25 298v3M757.25 349v3M757.25 358v3M757.25 367v3M758.75 274v6M758.75 283v3M760.25 247v3M760.25 262v3M760.25 268v6M761.75 262v3M763.25 52v6M763.25 259v3M763.25 268v3M764.75 283v9M766.25 256v3M767.75 259v3M767.75 265v12M773.75 256v6M775.25 244v3M776.75 238v3M776.75 244v3M778.25 244v3M779.75 256v6M779.75 268v3M779.75 280v3M781.25 259v3M784.25 265v3M785.75 247v6M785.75 256v6M788.75 52v3M788.75 241v3M791.75 235v3M791.75 397v6M794.75 52v6M794.75 61v3M794.75 217v3M794.75 223v3M796.25 73v3M796.25 226v3M796.25 232v3M796.25 385v3M797.75 67v9M797.75 232v3M799.25 61v3M799.25 70v6M799.25 238v3M800.75 241v3M800.75 397v3M802.25 244v3M802.25 262v3M803.75 70v3M803.75 76v6M803.75 262v3M803.75 268v3M805.25 265v3M806.75 259v3M806.75 268v3M808.25 58v6M808.25 235v3M808.25 244v3M809.75 55v3M809.75 61v3M809.75 67v6M809.75 82v3M811.25 55v3M811.25 61v6M811.25 70v3M811.25 76v9M812.75 58v3M812.75 73v6M814.25 238v3M814.25 250v3M815.75 217v6M815.75 226v3M815.75 235v3M817.25 82v3M818.75 70v3M818.75 256v3M820.25 85v6M821.75 82v9M823.25 250v3M824.75 241v3M826.25 268v3M829.25 79v3M829.25 277v3M830.75 82v3M830.75 268v3M830.75 274v3M830.75 286v3M832.25 79v3M832.25 286v3M832.25 358v3M832.25 376v3M832.25 382v9M832.25 394v3M833.75 64v12M833.75 286v3M835.25 58v3M835.25 64v3M835.25 73v3M835.25 325v6M836.75 64v3M836.75 325v6M836.75 352v3M836.75 358v3M838.25 52v3M838.25 64v3M838.25 313v3M838.25 322v3M838.25 367v3M838.25 373v3M838.25 382v3M838.25 391v3M839.75 289v3M839.75 316v3M839.75 364v3M841.25 289v6M841.25 301v3M841.25 316v6M841.25 370v6M841.25 379v3M841.25 385v3M841.25 400v5M842.75 289v6M842.75 373v12M842.75 391v9M842.75 403v2M844.25 292v6M844.25 301v3M845.75 286v3M845.75 379v3M845.75 394v3M845.75 400v3M847.25 286v3M847.25 292v3M847.25 379v6M847.25 391v3M848.75 298v3M848.75 304v3M850.25 280v6M850.25 304v3M850.25 382v21M851.75 274v3M851.75 280v3M851.75 286v3M851.75 298v6M854.75 253v6M854.75 280v3M854.75 286v3M854.75 292v9M856.25 178v3M857.75 253v3M857.75 274v6M857.75 289v3M857.75 301v3M859.25 172v9M859.25 190v3M860.75 169v3M860.75 247v3M862.25 169v3M862.25 196v3M863.75 190v3M863.75 196v3M863.75 286v3M865.25 193v6M866.75 175v3M866.75 187v3M866.75 199v6M868.25 205v3M868.25 286v3M868.25 298v3M869.75 163v3M869.75 205v3M869.75 274v3M871.25 169v3M871.25 190v6M871.25 202v3M872.75 166v3M872.75 172v3M872.75 190v3M874.25 175v3M874.25 193v3M875.75 187v3M875.75 193v3M877.25 169v3M877.25 190v6M877.25 199v6M880.25 178v3M935.75 304v3M937.25 298v3M937.25 304v3M940.25 187v3M940.25 193v3M940.25 262v3M941.75 262v6M941.75 271v3M941.75 325v18M941.75 346v9M941.75 361v9M943.25 304v3M943.25 331v12M943.25 346v18M943.25 385v9M943.25 397v3M944.75 376v24M376.25 434v11M377.75 434v11M388.25 434v11M389.75 434v11M394.25 434v11M406.25 434v11M409.25 434v11M410.75 434v11M413.75 434v11M418.25 434v11M419.75 434v11M422.75 428v6M427.25 428v6M445.25 434v11M451.25 434v11M452.75 434v11M458.75 434v11M460.25 434v11M598.25 445v10M698.75 434v11M715.25 428v6M718.25 428v17M721.25 428v6M736.25 445v10M742.25 434v11M743.75 428v17M844.25 445v10M851.75 455v10M853.25 445v10M859.25 455v10M860.75 428v6M862.25 476v10M863.75 445v31M865.25 445v10M866.75 445v10M868.25 455v31M869.75 428v6M871.25 465v11M875.75 434v11M881.75 445v10M886.25 455v10M886.25 476v10M887.75 455v10M887.75 476v10M889.25 455v10M919.25 486v10M922.25 486v10M925.25 486v10M931.25 486v10M934.25 445v10M934.25 486v10M935.75 465v21M937.25 445v10"/><path stroke="#00ff18" stroke-width="1.5" d="M692.75 232v6M692.75 253v3M692.75 265v3M692.75 283v3M692.75 391v3M692.75 397v8M694.25 238v6M694.25 247v6M694.25 256v3M694.25 265v3M694.25 280v3M694.25 391v3M695.75 241v6M695.75 250v3M695.75 259v3M695.75 286v3M695.75 394v3M695.75 403v2M698.75 229v3M698.75 241v3M698.75 394v3M698.75 400v3M700.25 280v3M700.25 286v3M700.25 400v3M715.25 55v3M715.25 61v3M718.25 64v3M719.75 58v6M721.25 64v3M724.25 295v6M724.25 304v3M725.75 295v3M725.75 301v3M728.75 286v3M730.25 316v3M731.75 70v3M731.75 277v3M731.75 289v3M731.75 328v3M731.75 334v3M731.75 340v3M733.25 52v3M734.75 61v3M736.25 55v3M736.25 64v6M737.75 55v3M737.75 271v6M737.75 283v3M739.25 52v3M739.25 61v3M739.25 319v3M739.25 328v12M739.25 346v6M739.25 397v3M740.75 67v3M740.75 244v3M740.75 253v3M740.75 265v3M740.75 283v3M740.75 289v3M740.75 340v6M740.75 349v9M740.75 364v3M740.75 370v3M742.25 64v3M742.25 292v9M742.25 316v3M742.25 328v6M742.25 340v3M742.25 364v6M742.25 382v3M742.25 394v3M743.75 229v12M743.75 244v3M743.75 301v6M743.75 328v3M743.75 334v6M743.75 346v3M743.75 352v3M743.75 358v6M743.75 367v3M743.75 385v3M743.75 397v3M745.25 52v3M745.25 58v3M745.25 298v3M745.25 313v3M745.25 331v3M745.25 337v3M745.25 352v3M745.25 361v3M746.75 238v3M746.75 259v3M746.75 286v3M746.75 295v9M746.75 355v3M746.75 361v9M746.75 373v6M746.75 382v3M748.25 247v9M748.25 271v6M748.25 280v6M748.25 304v3M748.25 319v9M748.25 343v3M748.25 349v9M748.25 370v3M748.25 379v3M748.25 391v3M748.25 400v3M749.75 391v3M751.25 55v3M751.25 253v3M751.25 271v3M751.25 301v3M751.25 316v6M751.25 325v3M751.25 331v3M751.25 364v3M751.25 376v3M751.25 382v3M751.25 388v6M751.25 403v2M752.75 250v9M752.75 301v6M752.75 325v6M752.75 334v3M752.75 340v3M752.75 355v6M752.75 376v3M754.25 52v3M754.25 253v3M754.25 319v3M754.25 337v3M754.25 346v12M754.25 361v3M755.75 286v3M755.75 292v3M755.75 298v3M755.75 337v3M755.75 346v3M755.75 367v3M755.75 373v3M755.75 382v3M755.75 391v3M757.25 331v3M757.25 337v3M757.25 343v3M757.25 364v3M757.25 370v9M757.25 388v3M757.25 403v2M758.75 292v3M758.75 304v3M758.75 322v3M758.75 331v3M758.75 346v3M758.75 382v3M760.25 259v3M760.25 274v3M760.25 280v3M761.75 256v6M761.75 265v3M761.75 283v3M761.75 289v3M761.75 313v3M761.75 319v3M761.75 349v3M761.75 367v6M763.25 277v6M772.25 253v6M772.25 265v3M775.25 256v3M776.75 250v6M778.25 256v3M778.25 400v3M779.75 274v6M779.75 286v9M781.25 262v6M782.75 253v6M784.25 274v3M784.25 280v3M785.75 244v3M785.75 268v6M785.75 277v3M785.75 283v3M787.25 262v3M787.25 271v3M787.25 385v3M787.25 403v2M788.75 244v3M791.75 391v3M793.25 241v3M793.25 247v3M793.25 253v3M793.25 385v3M793.25 394v3M794.75 385v3M796.25 388v3M797.75 238v3M799.25 244v3M799.25 376v3M799.25 388v3M799.25 394v9M800.75 379v3M800.75 388v3M802.25 247v3M802.25 253v6M802.25 265v3M803.75 253v3M803.75 259v3M803.75 373v3M805.25 274v6M805.25 283v3M805.25 346v9M805.25 361v3M805.25 373v6M806.75 274v3M808.25 70v6M808.25 79v6M808.25 247v3M808.25 256v3M809.75 76v3M809.75 247v3M809.75 256v3M809.75 262v3M811.25 58v3M811.25 253v3M812.75 241v3M814.25 70v6M815.75 76v3M815.75 238v3M817.25 61v3M817.25 79v3M817.25 238v3M818.75 58v3M818.75 259v3M820.25 55v9M820.25 82v3M820.25 256v3M820.25 262v3M821.75 52v15M821.75 79v3M823.25 85v3M823.25 256v3M824.75 253v3M826.25 52v3M826.25 82v3M826.25 280v3M827.75 250v3M829.25 52v3M829.25 286v6M830.75 52v3M830.75 76v3M830.75 334v3M832.25 61v3M832.25 67v3M832.25 76v3M832.25 298v3M832.25 325v3M832.25 331v3M832.25 349v3M832.25 355v3M832.25 397v3M833.75 292v3M833.75 352v9M835.25 52v3M835.25 322v3M835.25 364v6M835.25 394v3M836.75 295v3M836.75 367v3M838.25 298v3M838.25 385v3M838.25 400v5M839.75 292v3M839.75 304v3M839.75 373v3M839.75 379v6M839.75 388v3M839.75 394v3M841.25 304v3M841.25 388v3M845.75 289v3M847.25 298v3M848.75 292v3M850.25 289v3M850.25 298v3M851.75 289v3M854.75 277v3M857.75 193v3M859.25 181v9M860.75 166v3M860.75 190v3M860.75 298v3M862.25 172v3M862.25 178v3M862.25 193v3M863.75 163v3M863.75 178v3M863.75 187v3M865.25 169v6M865.25 184v6M866.75 166v6M866.75 178v6M866.75 193v3M868.25 163v3M871.25 178v3M872.75 184v3M872.75 193v6M872.75 202v6M874.25 196v6M875.75 172v3M875.75 178v6M875.75 190v3M877.25 181v3M877.25 187v3M878.75 175v3M878.75 193v3M935.75 292v6M937.25 301v3M938.75 175v3M938.75 187v3M940.25 202v3M941.75 166v3M941.75 172v3M941.75 181v3M941.75 193v3M941.75 202v3M370.25 428v6M373.25 445v10M379.25 434v11M380.75 434v11M383.75 434v11M386.75 428v17M389.75 445v10M394.25 445v10M397.25 434v11M398.75 434v11M401.75 434v11M407.75 434v11M409.25 445v10M415.25 445v10M430.25 434v11M436.25 434v11M439.25 434v11M440.75 434v11M443.75 434v11M449.75 434v11M454.25 465v11M461.75 434v11M694.25 434v11M697.25 434v11M704.75 434v11M706.25 434v11M707.75 428v6M710.75 428v17M721.25 434v11M730.25 445v10M731.75 434v11M734.75 434v11M737.75 428v6M746.75 428v17M841.25 434v11M842.75 434v11M845.75 434v11M850.25 428v6M850.25 455v21M853.25 428v6M853.25 465v11M856.25 428v6M856.25 455v10M865.25 465v21M866.75 465v11M869.75 445v10M872.75 434v11M875.75 445v10M877.25 434v11M878.75 434v11M880.25 465v11M883.25 455v10M884.75 476v10M896.75 486v10M899.75 486v10M901.25 486v10M902.75 486v10M907.25 486v10M908.75 486v10M911.75 486v10M916.25 486v10M917.75 486v10M926.75 486v10M929.75 486v10M935.75 445v10M940.25 428v6"/><path stroke="#00ff2d" stroke-width="1.5" d="M692.75 241v3M692.75 247v6M692.75 256v9M692.75 277v3M692.75 295v3M692.75 301v3M694.25 253v3M694.25 259v6M694.25 268v3M694.25 277v3M694.25 283v3M694.25 289v3M694.25 304v3M694.25 397v3M695.75 235v6M695.75 247v3M695.75 262v6M695.75 280v3M698.75 217v3M698.75 388v3M698.75 397v3M700.25 247v3M700.25 274v3M700.25 283v3M700.25 289v3M710.75 397v3M713.75 55v9M715.25 64v3M716.75 70v3M719.75 70v3M722.75 73v3M724.25 286v6M727.25 301v3M730.25 67v6M730.25 292v3M730.25 301v6M730.25 313v3M730.25 328v15M730.25 361v3M731.75 274v3M731.75 280v9M731.75 295v3M731.75 301v6M731.75 316v3M731.75 322v6M731.75 343v6M734.75 64v3M736.25 61v3M737.75 52v3M737.75 67v3M737.75 259v3M737.75 280v3M737.75 349v3M737.75 391v6M737.75 403v2M739.25 55v6M739.25 64v3M739.25 253v9M739.25 277v3M739.25 316v3M739.25 325v3M739.25 385v3M740.75 70v3M740.75 262v3M740.75 319v6M740.75 334v6M740.75 361v3M740.75 403v2M742.25 67v3M742.25 259v3M742.25 268v9M742.25 280v3M742.25 313v3M742.25 397v8M743.75 256v3M743.75 280v3M743.75 286v6M743.75 313v12M743.75 331v3M743.75 355v3M743.75 364v3M743.75 370v9M745.25 277v3M745.25 295v3M745.25 316v3M745.25 349v3M745.25 382v3M746.75 244v6M746.75 253v3M746.75 283v3M746.75 289v3M746.75 313v3M746.75 319v6M746.75 343v3M746.75 352v3M746.75 358v3M746.75 370v3M746.75 379v3M746.75 388v3M746.75 394v11M748.25 277v3M748.25 340v3M748.25 364v3M749.75 382v3M749.75 388v3M749.75 394v3M749.75 400v5M751.25 52v3M751.25 58v3M751.25 268v3M751.25 274v3M751.25 298v3M751.25 313v3M751.25 328v3M751.25 340v3M751.25 355v3M751.25 370v3M751.25 400v3M752.75 262v3M752.75 292v6M752.75 331v3M752.75 337v3M752.75 349v3M754.25 55v3M754.25 244v6M754.25 256v3M754.25 262v6M754.25 343v3M755.75 265v3M755.75 277v3M755.75 316v3M755.75 352v3M755.75 364v3M755.75 379v3M755.75 385v3M757.25 289v3M757.25 295v3M757.25 340v3M757.25 346v3M757.25 352v6M757.25 379v6M758.75 289v3M758.75 340v3M760.25 265v3M761.75 253v3M761.75 268v3M761.75 292v3M761.75 304v3M761.75 316v3M761.75 322v3M761.75 340v3M763.25 58v3M763.25 64v3M763.25 256v3M763.25 271v6M766.25 253v3M766.25 268v3M767.75 262v3M767.75 277v3M767.75 283v3M773.75 262v6M773.75 274v3M775.25 247v3M776.75 241v3M778.25 253v3M779.75 283v3M781.25 256v3M782.75 247v3M784.25 259v6M784.25 271v3M785.75 262v3M787.25 259v3M787.25 265v3M787.25 388v3M787.25 394v3M788.75 235v6M790.25 244v3M791.75 232v3M791.75 238v12M791.75 382v3M791.75 394v3M791.75 403v2M793.25 235v3M794.75 220v3M796.25 382v3M797.75 76v3M799.25 391v3M799.25 403v2M800.75 250v3M800.75 403v2M802.25 259v3M803.75 244v6M803.75 256v3M805.25 250v3M805.25 268v3M805.25 280v3M805.25 286v3M805.25 355v3M805.25 403v2M806.75 265v3M806.75 382v3M808.25 76v3M808.25 85v3M808.25 238v6M808.25 250v3M809.75 73v3M809.75 85v3M809.75 244v3M809.75 250v3M809.75 265v3M809.75 280v3M811.25 241v3M812.75 52v3M814.25 52v9M814.25 64v6M814.25 79v3M814.25 241v6M815.75 229v3M817.25 235v3M818.75 52v6M818.75 61v9M818.75 73v3M818.75 250v3M820.25 52v3M820.25 253v3M821.75 253v9M823.25 253v3M824.75 88v3M824.75 235v6M826.25 85v3M827.75 253v6M829.25 76v3M829.25 82v3M829.25 280v3M830.75 271v3M830.75 277v3M830.75 283v3M832.25 52v3M832.25 64v3M832.25 82v3M832.25 289v3M832.25 316v3M832.25 346v3M832.25 352v3M832.25 400v5M833.75 61v3M833.75 343v6M835.25 67v3M835.25 361v3M836.75 58v3M836.75 322v3M836.75 361v6M838.25 61v3M838.25 301v6M838.25 316v6M838.25 370v3M838.25 376v6M838.25 388v3M838.25 394v6M839.75 295v3M839.75 301v3M839.75 313v3M839.75 370v3M839.75 385v3M839.75 391v3M839.75 397v6M841.25 295v6M841.25 376v3M841.25 382v3M841.25 391v9M842.75 301v6M842.75 400v3M847.25 289v3M848.75 286v6M848.75 295v3M850.25 277v3M850.25 292v3M850.25 403v2M851.75 292v6M854.75 169v3M854.75 262v3M854.75 268v9M854.75 304v3M857.75 178v6M857.75 247v3M859.25 169v3M860.75 193v3M860.75 283v3M862.25 166v3M862.25 187v3M863.75 181v3M863.75 193v3M865.25 175v6M865.25 190v3M866.75 196v3M868.25 172v3M868.25 292v3M868.25 304v3M869.75 280v6M871.25 166v3M871.25 172v6M871.25 181v6M871.25 199v3M871.25 205v3M872.75 169v3M872.75 175v6M874.25 172v3M874.25 178v3M874.25 187v6M874.25 202v6M875.75 175v3M875.75 196v12M877.25 172v3M877.25 178v3M877.25 184v3M877.25 196v3M878.75 172v3M935.75 286v6M938.75 178v6M940.25 169v6M940.25 181v3M940.25 190v3M940.25 196v6M941.75 163v3M941.75 196v3M941.75 343v3M941.75 358v3M943.25 370v15M943.25 394v3M943.25 400v5M944.75 400v5M370.25 445v10M373.25 434v11M374.75 434v11M385.25 434v11M404.75 434v11M454.25 445v10M457.25 434v11M466.25 434v11M593.75 445v10M595.25 434v11M695.75 428v6M700.25 428v6M712.25 434v11M715.25 434v11M719.75 428v6M724.25 428v6M731.75 428v6M742.25 428v6M745.25 434v11M749.75 428v6M847.25 445v10M850.25 445v10M851.75 445v10M851.75 465v11M854.75 465v11M856.25 445v10M859.25 428v6M859.25 465v11M860.75 445v20M862.25 445v10M863.75 476v10M865.25 455v10M866.75 455v10M874.25 445v10M881.75 465v11M883.25 476v10M884.75 445v10M884.75 465v11M886.25 486v10M890.75 455v10M898.25 496v8M910.25 486v10M928.25 486v10M932.75 445v10"/><path stroke="#00ff69" stroke-width="1.5" d="M692.75 292v3M692.75 322v3M694.25 214v3M694.25 220v3M694.25 295v9M694.25 385v3M695.75 226v6M695.75 274v3M695.75 391v3M697.25 232v6M697.25 241v3M697.25 250v3M697.25 256v6M697.25 265v3M697.25 274v3M697.25 280v3M697.25 292v6M697.25 301v3M698.75 208v3M698.75 313v9M698.75 334v3M698.75 370v3M698.75 376v3M698.75 385v3M700.25 250v6M700.25 259v3M700.25 268v6M700.25 295v3M703.25 382v3M703.25 394v3M703.25 400v5M704.75 394v3M706.25 385v3M706.25 391v3M707.75 316v3M707.75 325v3M710.75 370v3M710.75 388v3M710.75 394v3M712.25 52v3M712.25 58v3M712.25 64v3M715.25 301v3M716.75 244v3M716.75 295v3M718.25 70v3M718.25 301v3M721.25 292v3M721.25 337v3M721.25 346v3M722.75 313v3M722.75 319v6M722.75 328v6M722.75 337v3M724.25 73v3M724.25 280v3M724.25 343v3M724.25 352v6M725.75 283v3M725.75 328v3M725.75 337v9M727.25 217v3M727.25 262v3M727.25 271v3M727.25 292v3M727.25 322v3M727.25 361v3M728.75 253v3M728.75 268v3M728.75 280v3M728.75 295v3M728.75 325v3M730.25 223v6M730.25 250v3M730.25 259v3M730.25 268v6M730.25 280v9M730.25 349v3M730.25 367v3M730.25 373v3M730.25 379v3M730.25 385v3M731.75 214v6M731.75 265v3M731.75 361v3M731.75 382v3M731.75 391v3M733.25 70v3M733.25 286v6M733.25 319v3M733.25 328v3M733.25 337v3M734.75 70v3M734.75 271v3M734.75 283v3M734.75 295v3M734.75 301v6M734.75 355v9M736.25 217v3M736.25 274v3M736.25 325v3M737.75 247v3M737.75 325v3M737.75 334v6M737.75 361v9M737.75 376v3M739.25 67v6M739.25 217v3M739.25 229v3M739.25 283v3M739.25 292v3M739.25 298v3M739.25 376v3M740.75 214v3M740.75 232v3M742.25 238v3M742.25 253v3M743.75 58v9M743.75 250v3M743.75 262v6M743.75 277v3M743.75 283v3M743.75 403v2M745.25 223v3M745.25 235v9M745.25 253v6M745.25 262v3M745.25 385v3M746.75 58v6M746.75 232v3M746.75 265v3M746.75 274v3M748.25 58v3M748.25 217v3M748.25 235v3M749.75 241v3M749.75 256v3M749.75 271v3M749.75 292v3M749.75 298v3M749.75 319v6M749.75 331v6M749.75 346v6M749.75 358v9M749.75 379v3M751.25 247v3M751.25 346v3M751.25 358v3M752.75 67v3M752.75 274v6M754.25 58v3M755.75 319v9M757.25 286v3M758.75 250v3M758.75 256v6M758.75 268v3M760.25 64v6M764.75 268v3M764.75 274v6M766.25 259v3M767.75 58v3M767.75 256v3M772.25 61v3M772.25 244v3M775.25 241v3M778.25 238v3M779.75 244v6M781.25 253v3M784.25 244v3M785.75 253v3M787.25 241v9M787.25 253v3M788.75 229v6M790.25 238v3M791.75 229v3M791.75 385v3M793.25 223v3M794.75 70v3M796.25 220v3M797.75 61v3M797.75 79v6M797.75 226v3M799.25 52v3M799.25 64v3M799.25 235v3M799.25 241v3M800.75 235v3M802.25 52v3M802.25 67v3M802.25 73v3M802.25 82v3M802.25 235v3M803.75 61v3M803.75 82v3M805.25 67v3M805.25 79v3M805.25 244v6M805.25 253v3M805.25 259v6M806.75 67v9M806.75 256v3M808.25 91v3M808.25 220v3M809.75 58v3M809.75 241v3M811.25 238v3M812.75 64v6M812.75 82v3M814.25 226v6M814.25 235v3M817.25 85v3M817.25 226v3M817.25 232v3M818.75 76v3M818.75 241v3M820.25 241v3M820.25 247v3M821.75 91v3M821.75 250v3M823.25 235v3M823.25 244v3M824.75 91v3M824.75 247v3M826.25 88v3M827.75 241v3M829.25 262v3M829.25 271v3M830.75 256v3M830.75 265v3M832.25 85v3M832.25 283v3M832.25 370v3M832.25 379v3M833.75 79v3M833.75 280v3M835.25 70v3M835.25 286v3M835.25 334v3M835.25 352v3M836.75 67v3M836.75 286v3M836.75 331v6M836.75 340v3M836.75 349v3M836.75 355v3M838.25 55v3M838.25 70v6M838.25 295v3M838.25 331v3M838.25 340v9M838.25 352v3M839.75 61v3M839.75 325v6M839.75 349v3M839.75 355v3M841.25 286v3M841.25 325v3M841.25 331v3M841.25 352v3M841.25 364v3M842.75 286v3M842.75 328v6M844.25 265v3M844.25 274v3M844.25 286v6M844.25 313v3M844.25 319v9M844.25 370v3M844.25 388v3M845.75 319v9M845.75 352v6M845.75 361v9M845.75 391v3M847.25 52v3M847.25 313v3M847.25 319v9M847.25 358v15M848.75 349v6M848.75 358v6M848.75 367v3M848.75 373v9M848.75 385v3M848.75 394v3M848.75 403v2M850.25 253v3M850.25 259v3M850.25 271v3M850.25 313v6M850.25 322v3M850.25 334v3M850.25 343v15M850.25 361v15M851.75 304v3M851.75 385v12M851.75 400v3M853.25 181v6M853.25 253v3M853.25 271v3M853.25 277v6M853.25 286v6M854.75 193v3M854.75 247v6M854.75 313v3M854.75 382v6M854.75 394v9M856.25 184v6M856.25 277v3M856.25 286v3M857.75 244v3M857.75 256v3M857.75 265v3M857.75 271v3M857.75 292v3M857.75 382v3M857.75 388v9M857.75 400v5M859.25 166v3M859.25 274v3M860.75 244v3M860.75 253v3M860.75 265v9M860.75 277v3M860.75 286v9M865.25 250v3M866.75 163v3M868.25 277v3M868.25 283v3M868.25 301v3M869.75 277v3M869.75 289v3M869.75 295v3M869.75 301v3M874.25 181v3M875.75 166v3M878.75 205v6M878.75 217v3M880.25 181v6M896.75 298v3M934.25 301v3M935.75 283v3M937.25 292v3M940.25 166v3M940.25 184v3M940.25 220v3M940.25 235v3M940.25 241v3M940.25 247v6M940.25 256v6M940.25 265v3M941.75 211v3M941.75 217v9M941.75 232v3M941.75 241v6M941.75 250v3M941.75 256v3M941.75 274v3M941.75 289v3M941.75 301v3M941.75 316v3M943.25 298v3M943.25 313v3M943.25 325v6M944.75 313v6M944.75 325v3M946.25 319v3M946.25 403v2M403.25 434v11M412.25 434v11M694.25 428v6M712.25 428v6M713.75 434v11M716.75 434v11M730.25 428v17M736.25 434v11M737.75 434v11M739.25 434v11M748.25 434v11M854.75 445v10M862.25 428v6M862.25 455v10M863.75 428v6M865.25 428v6M868.25 445v10M869.75 434v11M872.75 428v6M880.25 445v10M886.25 445v10M887.75 445v10M889.25 476v10M892.25 455v10M896.75 455v10M898.25 486v10M931.25 445v10M932.75 434v11M932.75 465v21M934.25 434v11M937.25 434v11M937.25 465v11"/><path stroke="#00c1ff" stroke-width="1.5" d="M692.75 343v3M692.75 349v3M692.75 358v6M694.25 70v6M697.25 61v6M697.25 340v3M697.25 349v3M697.25 355v3M697.25 361v6M701.75 214v6M703.25 70v3M703.25 211v6M703.25 238v3M704.75 217v3M704.75 226v3M704.75 298v3M704.75 304v3M704.75 316v3M704.75 322v3M706.25 67v6M706.25 214v6M706.25 235v3M706.25 295v9M707.75 211v3M707.75 232v6M707.75 271v3M707.75 277v3M707.75 289v3M709.25 217v3M709.25 232v9M709.25 328v3M710.75 211v3M710.75 217v3M710.75 232v6M710.75 271v6M710.75 286v3M710.75 301v3M710.75 328v3M712.25 73v6M712.25 208v3M712.25 214v3M712.25 235v3M712.25 262v3M712.25 274v3M713.75 76v3M715.25 79v6M715.25 238v3M715.25 262v3M718.25 79v3M721.25 79v6M721.25 211v3M721.25 217v3M721.25 229v3M721.25 376v3M724.25 127v6M724.25 139v3M725.75 124v3M725.75 130v9M727.25 85v3M727.25 139v3M728.75 208v3M731.75 82v3M731.75 205v3M733.25 79v3M734.75 76v6M737.75 79v3M740.75 205v3M743.75 73v3M749.75 208v3M751.25 223v3M755.75 217v3M755.75 229v3M757.25 211v6M758.75 211v3M758.75 223v3M761.75 208v3M761.75 235v3M763.25 73v3M764.75 232v3M767.75 226v9M769.25 67v3M769.25 220v9M770.75 214v6M770.75 226v3M773.75 214v3M775.25 211v3M775.25 217v3M776.75 214v6M778.25 70v3M778.25 217v3M779.75 67v3M781.25 64v3M781.25 220v12M782.75 67v3M782.75 217v6M784.25 64v3M785.75 217v6M788.75 73v3M788.75 208v6M790.25 76v3M790.25 82v3M790.25 211v3M794.75 94v3M794.75 157v3M794.75 172v12M796.25 157v3M796.25 169v3M796.25 193v3M796.25 202v3M797.75 154v3M797.75 160v3M797.75 169v3M797.75 196v3M799.25 94v6M799.25 163v3M799.25 169v3M799.25 184v6M799.25 193v6M800.75 196v3M802.25 169v3M802.25 175v6M802.25 184v3M802.25 190v9M803.75 103v3M803.75 157v9M803.75 172v9M803.75 184v3M803.75 190v9M805.25 100v3M805.25 199v3M805.25 214v3M805.25 223v3M806.75 106v3M806.75 175v3M806.75 184v3M806.75 196v12M806.75 211v3M808.25 103v6M808.25 157v3M808.25 163v3M809.75 175v3M809.75 181v3M809.75 199v6M809.75 217v3M811.25 100v3M811.25 175v3M811.25 181v12M811.25 196v3M812.75 97v3M812.75 181v12M814.25 94v3M814.25 196v6M815.75 172v3M815.75 178v3M815.75 184v3M817.25 169v3M817.25 178v3M817.25 187v3M817.25 193v3M817.25 202v3M818.75 94v6M818.75 190v3M818.75 202v6M820.25 169v3M821.75 172v6M821.75 220v3M823.25 172v9M823.25 187v15M824.75 103v3M824.75 160v6M824.75 175v6M824.75 187v6M824.75 199v3M826.25 184v3M826.25 190v3M826.25 205v3M827.75 106v3M827.75 202v3M829.25 97v6M829.25 211v3M829.25 217v3M830.75 97v3M830.75 124v3M830.75 211v3M832.25 94v3M832.25 244v3M833.75 103v3M833.75 112v24M833.75 142v3M833.75 244v3M835.25 88v3M835.25 118v6M835.25 130v3M836.75 91v3M836.75 118v6M838.25 91v3M839.75 250v3M841.25 79v3M842.75 259v3M845.75 79v6M847.25 79v6M848.75 73v3M850.25 73v3M850.25 79v6M850.25 235v3M851.75 70v3M851.75 238v3M853.25 52v3M853.25 61v3M853.25 223v12M854.75 52v6M854.75 67v6M854.75 208v6M856.25 52v3M856.25 196v3M856.25 205v3M856.25 214v3M857.75 52v3M857.75 58v6M857.75 205v9M857.75 217v3M859.25 205v3M859.25 211v9M860.75 160v3M862.25 160v3M862.25 205v3M862.25 298v3M863.75 52v6M863.75 61v3M865.25 55v12M866.75 160v3M866.75 214v3M866.75 223v3M866.75 229v3M871.25 256v3M871.25 265v3M872.75 223v3M872.75 259v3M874.25 256v6M874.25 274v3M875.75 112v3M875.75 259v3M875.75 271v3M878.75 166v3M878.75 262v3M878.75 271v3M880.25 214v3M880.25 274v6M881.75 271v3M883.25 268v3M884.75 187v3M884.75 196v3M884.75 202v6M884.75 214v3M884.75 229v3M884.75 238v3M884.75 244v9M884.75 292v9M884.75 304v3M884.75 364v3M884.75 382v3M886.25 193v3M886.25 199v3M886.25 247v3M886.25 253v6M886.25 262v6M886.25 271v9M886.25 304v3M886.25 322v12M886.25 403v2M887.75 217v6M887.75 226v6M887.75 283v3M889.25 277v3M889.25 283v3M892.25 274v3M892.25 280v6M892.25 298v3M892.25 304v3M892.25 382v3M892.25 388v3M892.25 394v6M892.25 403v2M893.75 394v3M895.25 277v3M895.25 391v9M896.75 271v3M898.25 277v3M898.25 283v3M898.25 295v3M899.75 328v6M899.75 340v3M899.75 400v5M901.25 322v9M901.25 340v18M901.25 367v3M901.25 373v3M901.25 379v3M901.25 385v20M902.75 331v6M902.75 340v15M902.75 361v3M902.75 367v3M902.75 379v3M902.75 385v6M902.75 400v3M904.25 280v6M904.25 334v12M904.25 349v3M904.25 358v12M904.25 373v15M904.25 397v8M905.75 283v9M905.75 316v24M905.75 343v18M905.75 364v3M905.75 370v3M905.75 379v6M905.75 388v3M907.25 280v6M907.25 322v24M907.25 352v15M907.25 370v6M907.25 379v6M907.25 388v12M908.75 301v3M908.75 316v6M908.75 334v48M908.75 385v15M910.25 277v9M910.25 325v9M910.25 337v6M910.25 385v15M911.75 286v3M911.75 292v3M911.75 298v3M911.75 313v3M911.75 349v45M913.25 277v6M913.25 316v9M913.25 337v9M913.25 361v3M913.25 388v3M914.75 289v3M914.75 316v3M914.75 340v18M914.75 361v15M914.75 379v6M914.75 388v17M916.25 274v3M916.25 313v9M916.25 343v3M916.25 367v6M916.25 382v15M916.25 400v5M917.75 286v6M917.75 313v3M917.75 349v39M919.25 280v3M919.25 292v3M919.25 298v6M919.25 316v6M919.25 337v6M919.25 391v9M919.25 403v2M920.75 286v6M920.75 304v3M920.75 313v3M920.75 340v3M920.75 349v27M920.75 379v6M920.75 388v3M922.25 283v3M922.25 295v6M922.25 313v3M922.25 343v15M922.25 361v15M922.25 382v9M923.75 313v3M923.75 343v12M923.75 358v6M923.75 367v24M925.25 280v6M925.25 313v6M925.25 343v9M925.25 355v30M926.75 280v3M926.75 319v6M926.75 337v6M926.75 364v9M926.75 376v12M928.25 274v3M928.25 283v3M928.25 325v12M928.25 376v12M929.75 265v3M929.75 325v18M929.75 346v9M929.75 358v12M929.75 373v12M931.25 262v3M931.25 268v6M931.25 331v3M931.25 352v9M931.25 367v3M932.75 280v6M932.75 352v18M932.75 373v3M934.25 262v6M934.25 271v6M934.25 346v6M934.25 355v3M934.25 361v12M935.75 256v3M935.75 349v15M935.75 367v3M935.75 376v9M937.25 364v3M937.25 373v6M937.25 382v3M937.25 391v14M938.75 253v3M938.75 259v3M938.75 265v3M950.75 334v3M952.25 313v3M952.25 328v6M952.25 337v3"/><path stroke="#00e8ff" stroke-width="1.5" d="M692.75 346v3M692.75 352v3M694.25 52v3M694.25 349v3M694.25 355v9M697.25 313v6M697.25 322v3M697.25 331v3M698.75 73v3M700.25 205v3M700.25 367v3M701.75 70v3M701.75 298v9M701.75 331v3M701.75 346v3M703.25 55v6M703.25 64v3M703.25 232v3M704.75 70v3M704.75 238v6M704.75 268v3M704.75 277v3M704.75 283v6M704.75 292v3M704.75 319v3M704.75 325v3M706.25 220v3M706.25 226v6M706.25 238v3M706.25 292v3M706.25 304v3M707.75 244v3M707.75 262v3M707.75 268v3M707.75 274v3M707.75 286v3M709.25 229v3M709.25 265v6M709.25 277v6M709.25 298v3M709.25 322v3M710.75 226v3M710.75 238v3M710.75 262v6M710.75 277v6M710.75 298v3M710.75 316v3M710.75 325v3M712.25 232v3M712.25 259v3M712.25 277v3M712.25 286v3M712.25 370v6M712.25 388v3M713.75 235v3M713.75 271v3M713.75 277v6M713.75 322v3M715.25 232v6M715.25 241v3M715.25 247v12M715.25 283v3M716.75 79v3M718.25 82v3M718.25 235v3M718.25 394v3M719.75 82v3M719.75 208v3M721.25 208v3M721.25 220v3M721.25 235v3M721.25 367v6M721.25 379v3M721.25 385v3M721.25 391v3M721.25 400v3M722.75 85v3M722.75 211v3M722.75 382v3M724.25 82v6M725.75 85v3M725.75 127v3M725.75 262v3M727.25 82v3M728.75 82v3M730.25 82v3M736.25 76v3M739.25 76v3M742.25 76v3M742.25 208v3M751.25 211v3M751.25 226v3M752.75 208v3M755.75 214v3M757.25 226v3M757.25 232v3M758.75 214v9M758.75 229v3M760.25 208v3M760.25 229v3M761.75 211v3M761.75 223v3M763.25 208v3M763.25 220v3M763.25 232v3M763.25 238v3M764.75 211v9M764.75 229v3M767.75 211v6M770.75 223v3M772.25 214v9M773.75 67v3M775.25 214v3M776.75 70v3M779.75 223v3M781.25 232v3M782.75 223v3M785.75 67v3M788.75 214v3M790.25 79v3M790.25 217v3M791.75 76v3M791.75 82v3M791.75 205v9M793.25 79v9M794.75 91v3M794.75 190v3M796.25 184v3M796.25 190v3M796.25 199v3M797.75 157v3M797.75 163v6M797.75 172v6M797.75 199v3M799.25 181v3M799.25 199v9M799.25 211v9M800.75 94v6M800.75 193v3M802.25 103v3M802.25 154v6M802.25 163v6M802.25 199v3M802.25 211v3M803.75 187v3M803.75 199v3M803.75 214v3M805.25 103v3M805.25 205v6M805.25 220v3M806.75 100v3M806.75 178v3M806.75 208v3M808.25 169v6M808.25 202v3M809.75 172v3M809.75 178v3M809.75 184v3M809.75 220v6M811.25 178v3M811.25 202v3M812.75 94v3M812.75 172v6M812.75 211v3M815.75 97v3M815.75 187v9M817.25 172v6M817.25 208v3M818.75 91v3M818.75 199v3M818.75 214v3M820.25 97v6M820.25 175v3M820.25 190v9M821.75 169v3M821.75 217v3M823.25 202v3M824.75 100v3M824.75 166v9M824.75 181v6M824.75 193v6M826.25 100v3M826.25 181v3M826.25 202v3M829.25 94v3M830.75 100v3M830.75 214v3M832.25 97v3M832.25 235v3M832.25 247v3M833.75 91v6M835.25 124v6M835.25 262v9M836.75 88v3M838.25 88v3M839.75 253v3M839.75 259v3M841.25 73v6M842.75 73v3M844.25 76v9M845.75 70v6M847.25 76v3M848.75 70v3M850.25 172v3M850.25 184v3M850.25 238v6M851.75 67v3M851.75 172v3M851.75 187v3M851.75 244v3M853.25 55v6M853.25 196v3M854.75 58v9M854.75 205v3M854.75 214v3M856.25 163v3M856.25 199v3M856.25 217v3M857.75 55v3M857.75 202v3M857.75 214v3M857.75 220v3M859.25 220v9M860.75 211v6M862.25 202v3M863.75 211v3M865.25 208v3M865.25 220v6M866.75 208v6M866.75 217v3M866.75 235v3M869.75 160v3M869.75 229v6M869.75 238v3M871.25 247v3M872.75 214v3M872.75 220v3M872.75 229v3M872.75 238v3M872.75 250v9M872.75 277v3M872.75 283v3M872.75 331v6M872.75 343v3M872.75 349v3M872.75 358v6M874.25 280v3M875.75 274v3M875.75 367v3M877.25 247v3M877.25 253v3M877.25 274v3M877.25 382v3M878.75 259v3M878.75 274v3M880.25 205v3M880.25 217v3M880.25 223v3M880.25 247v3M880.25 280v3M880.25 349v12M880.25 364v3M880.25 373v6M880.25 394v11M881.75 172v3M881.75 250v9M881.75 280v3M881.75 334v9M883.25 178v3M883.25 274v3M883.25 301v6M883.25 319v6M884.75 199v3M884.75 208v3M884.75 217v6M884.75 253v3M884.75 289v3M884.75 361v3M884.75 367v15M884.75 388v3M886.25 196v3M886.25 202v3M886.25 238v3M886.25 283v3M886.25 301v3M886.25 316v6M886.25 334v6M886.25 391v3M886.25 397v6M887.75 223v3M887.75 325v3M887.75 382v3M887.75 388v6M887.75 403v2M890.75 277v9M892.25 277v3M892.25 286v3M892.25 295v3M892.25 313v33M892.25 349v24M892.25 376v6M892.25 385v3M892.25 391v3M892.25 400v3M893.75 277v9M893.75 391v3M893.75 397v3M895.25 274v3M895.25 340v3M895.25 388v3M896.75 268v3M896.75 274v3M896.75 400v5M898.25 292v3M898.25 313v6M898.25 334v3M898.25 358v6M898.25 367v3M898.25 394v11M899.75 286v3M899.75 319v9M899.75 334v6M899.75 343v9M899.75 355v9M899.75 367v3M899.75 388v12M901.25 289v3M901.25 298v6M901.25 313v3M901.25 319v3M901.25 331v9M901.25 376v3M901.25 382v3M902.75 292v3M902.75 301v3M902.75 319v12M902.75 337v3M902.75 382v3M902.75 391v9M902.75 403v2M904.25 322v12M904.25 370v3M904.25 388v6M905.75 295v3M905.75 301v6M905.75 313v3M905.75 340v3M905.75 361v3M905.75 367v3M905.75 373v6M905.75 385v3M905.75 391v14M907.25 319v3M907.25 346v6M907.25 367v3M907.25 376v3M907.25 385v3M907.25 400v5M908.75 286v3M908.75 313v3M910.25 319v6M910.25 343v6M910.25 352v33M910.25 400v5M911.75 289v3M911.75 301v3M913.25 283v3M913.25 295v3M913.25 313v3M913.25 346v6M913.25 355v6M913.25 364v24M913.25 391v3M913.25 397v3M914.75 295v6M914.75 313v3M914.75 358v3M914.75 376v3M914.75 385v3M916.25 277v6M916.25 304v3M916.25 346v21M916.25 373v9M919.25 313v3M919.25 343v9M919.25 355v24M919.25 385v6M919.25 400v3M920.75 343v6M922.25 301v6M922.25 358v3M922.25 376v3M923.75 289v12M923.75 304v3M923.75 340v3M923.75 355v3M923.75 364v3M925.25 298v6M925.25 352v3M926.75 283v3M926.75 295v3M926.75 316v3M926.75 343v21M926.75 373v3M928.25 295v3M928.25 322v3M928.25 337v6M928.25 355v15M928.25 373v3M929.75 322v3M929.75 343v3M929.75 355v3M929.75 370v3M931.25 274v6M931.25 328v3M931.25 334v18M932.75 331v9M932.75 346v6M934.25 334v6M934.25 343v3M934.25 352v3M935.75 259v3M935.75 343v6M935.75 364v3M935.75 370v6M937.25 271v3M937.25 280v3M937.25 352v12M937.25 367v6M938.75 256v3M943.25 286v3M950.75 322v6M950.75 331v3M950.75 337v21M952.25 316v12M952.25 334v3M952.25 340v21M952.25 397v3M952.25 403v2M898.25 434v11"/><path stroke="#00ffe3" stroke-width="1.5" d="M692.75 367v3M694.25 67v3M694.25 205v3M694.25 331v3M694.25 337v3M694.25 352v3M695.75 52v3M695.75 199v3M695.75 319v3M695.75 325v3M695.75 334v3M695.75 343v3M695.75 367v3M697.25 202v6M697.25 370v3M697.25 379v3M700.25 55v3M701.75 67v3M701.75 220v9M701.75 232v3M701.75 250v3M701.75 271v3M701.75 289v6M701.75 313v12M701.75 343v3M701.75 358v3M703.25 220v6M703.25 229v3M703.25 241v3M703.25 262v3M703.25 271v3M703.25 289v6M703.25 316v3M703.25 334v3M703.25 343v3M704.75 55v3M704.75 64v3M704.75 247v3M704.75 262v3M704.75 331v9M704.75 346v3M706.25 55v6M706.25 64v3M706.25 268v3M706.25 274v3M706.25 283v3M706.25 313v6M706.25 325v3M706.25 334v12M706.25 352v3M707.75 217v6M707.75 283v3M709.25 223v6M709.25 241v3M709.25 247v3M709.25 259v6M709.25 286v6M709.25 295v3M709.25 313v6M710.75 223v3M710.75 247v3M710.75 253v9M710.75 289v9M710.75 331v6M710.75 346v3M710.75 352v3M712.25 211v3M712.25 217v3M712.25 238v6M712.25 250v6M712.25 283v3M712.25 289v3M712.25 313v12M712.25 343v12M712.25 358v3M712.25 364v6M712.25 382v6M712.25 403v2M713.75 73v3M713.75 232v3M713.75 241v3M713.75 295v3M713.75 304v3M713.75 316v3M713.75 331v3M715.25 76v3M715.25 217v6M715.25 226v6M715.25 364v3M715.25 370v3M715.25 376v3M715.25 388v3M715.25 403v2M716.75 211v3M716.75 262v3M716.75 274v6M716.75 283v3M716.75 361v6M718.25 73v3M718.25 217v3M718.25 238v3M718.25 271v6M718.25 388v3M719.75 79v3M719.75 232v3M719.75 271v3M719.75 349v3M719.75 361v3M719.75 382v3M719.75 391v3M721.25 214v3M721.25 238v9M721.25 364v3M721.25 388v3M721.25 394v3M721.25 403v2M722.75 82v3M722.75 355v3M722.75 361v3M722.75 379v3M724.25 241v9M725.75 250v6M725.75 259v3M725.75 265v3M725.75 274v3M725.75 385v3M725.75 394v3M727.25 208v3M728.75 79v3M728.75 211v6M728.75 220v3M728.75 229v9M728.75 379v3M728.75 397v3M730.25 208v3M731.75 79v3M733.25 226v3M733.25 241v3M733.25 373v3M733.25 379v3M734.75 73v3M734.75 208v3M734.75 385v3M734.75 391v6M736.25 73v3M736.25 208v3M743.75 208v3M745.25 208v3M751.25 220v3M754.25 70v3M757.25 70v3M757.25 220v6M757.25 229v3M757.25 265v3M758.75 238v3M760.25 217v9M760.25 232v3M761.75 70v3M761.75 214v3M761.75 220v3M763.25 211v3M763.25 226v6M763.25 241v3M764.75 67v3M764.75 226v3M764.75 247v3M766.25 211v3M766.25 229v3M767.75 70v3M769.25 64v3M770.75 52v3M770.75 64v9M772.25 226v3M773.75 229v3M775.25 70v3M778.25 64v6M778.25 223v3M779.75 58v6M779.75 232v3M781.25 235v3M782.75 61v3M784.25 226v3M785.75 64v3M785.75 229v3M787.25 58v3M788.75 70v3M790.25 64v3M790.25 220v3M791.75 58v3M791.75 67v6M793.25 64v3M793.25 73v3M793.25 214v3M794.75 88v3M794.75 184v6M794.75 196v3M796.25 88v3M796.25 205v6M797.75 178v3M797.75 184v3M797.75 190v6M797.75 202v6M797.75 211v6M799.25 88v6M800.75 88v6M800.75 208v3M802.25 208v3M802.25 217v3M803.75 202v3M803.75 217v3M805.25 97v3M806.75 217v3M808.25 178v3M808.25 187v3M808.25 199v3M811.25 94v3M811.25 205v6M811.25 217v3M812.75 217v3M814.25 88v3M814.25 202v3M817.25 181v3M817.25 211v6M817.25 220v3M818.75 217v3M818.75 223v3M820.25 211v3M823.25 208v6M824.75 208v6M826.25 220v3M826.25 226v3M827.75 211v3M827.75 217v6M829.25 91v3M829.25 214v3M829.25 220v3M830.75 91v3M830.75 223v3M830.75 241v6M832.25 256v3M835.25 82v3M835.25 250v3M835.25 256v3M835.25 271v6M836.75 253v12M836.75 268v3M836.75 277v3M838.25 85v3M838.25 250v3M838.25 256v6M838.25 277v3M839.75 76v6M839.75 85v3M839.75 271v3M841.25 67v3M842.75 70v3M842.75 274v3M844.25 64v3M844.25 70v3M844.25 250v3M845.75 64v6M845.75 250v15M847.25 70v3M847.25 253v3M847.25 259v3M848.75 256v3M850.25 175v9M851.75 55v3M851.75 64v3M851.75 181v3M853.25 193v3M854.75 226v3M856.25 223v3M856.25 232v3M857.75 223v3M857.75 229v3M859.25 163v3M860.75 217v3M860.75 223v3M862.25 268v3M862.25 301v3M862.25 319v6M862.25 328v9M862.25 364v3M862.25 373v3M863.75 202v6M863.75 340v9M865.25 226v6M865.25 325v12M865.25 349v6M865.25 400v5M866.75 271v3M866.75 304v3M866.75 322v3M866.75 334v12M866.75 349v3M866.75 355v3M866.75 370v3M866.75 376v3M866.75 397v3M866.75 403v2M868.25 112v3M868.25 160v3M868.25 262v6M869.75 220v3M869.75 247v3M869.75 253v9M869.75 340v3M869.75 358v3M869.75 373v3M869.75 382v3M869.75 388v3M869.75 397v3M871.25 220v3M871.25 226v6M871.25 334v3M871.25 358v6M871.25 367v3M871.25 379v3M871.25 403v2M872.75 226v3M872.75 244v3M872.75 295v3M872.75 301v3M872.75 322v9M872.75 370v3M872.75 394v6M874.25 220v3M874.25 286v3M874.25 334v6M874.25 343v3M874.25 352v12M874.25 367v9M874.25 391v6M874.25 400v3M875.75 244v3M875.75 253v6M875.75 277v6M875.75 334v3M875.75 340v3M875.75 346v3M875.75 361v3M875.75 373v3M875.75 400v5M877.25 208v6M877.25 244v3M877.25 280v3M877.25 334v21M877.25 361v3M877.25 370v3M877.25 391v3M877.25 403v2M878.75 277v3M878.75 325v3M878.75 331v3M878.75 337v6M878.75 349v6M878.75 361v3M878.75 367v3M878.75 373v6M878.75 394v6M878.75 403v2M880.25 211v3M880.25 226v9M880.25 241v3M880.25 253v3M880.25 301v3M880.25 322v6M880.25 334v3M880.25 340v3M881.75 190v3M881.75 208v3M881.75 214v6M881.75 238v3M881.75 244v3M881.75 286v3M881.75 292v3M881.75 319v6M881.75 328v3M881.75 355v6M881.75 367v3M881.75 373v12M881.75 391v6M883.25 181v3M883.25 190v6M883.25 202v3M883.25 253v3M883.25 280v12M883.25 370v3M883.25 376v6M883.25 394v6M883.25 403v2M884.75 223v3M884.75 313v3M884.75 331v3M884.75 340v3M884.75 346v3M884.75 400v3M886.25 211v3M886.25 226v3M886.25 241v3M886.25 295v3M886.25 349v3M886.25 361v6M886.25 376v6M887.75 286v3M887.75 292v3M887.75 319v3M887.75 328v9M887.75 346v9M887.75 358v12M887.75 376v3M889.25 289v3M889.25 295v6M889.25 313v9M889.25 331v3M889.25 337v3M889.25 343v6M889.25 358v6M889.25 367v3M889.25 373v3M889.25 379v3M889.25 385v6M889.25 400v3M890.75 322v3M890.75 328v3M890.75 343v15M890.75 364v9M890.75 388v6M892.25 301v3M893.75 313v6M893.75 325v18M893.75 346v3M893.75 352v3M893.75 364v3M893.75 370v3M893.75 379v9M895.25 286v3M895.25 292v3M895.25 298v3M895.25 304v3M895.25 313v3M895.25 322v3M895.25 337v3M895.25 346v3M895.25 355v6M895.25 364v3M895.25 370v15M896.75 283v3M896.75 334v3M896.75 343v6M896.75 355v3M896.75 385v6M898.25 289v3M898.25 370v3M898.25 382v6M899.75 298v3M904.25 313v6M907.25 301v3M908.75 292v3M910.25 292v3M913.25 292v3M913.25 301v6M914.75 301v6M916.25 283v3M916.25 298v6M925.25 286v3M926.75 304v3M928.25 292v3M928.25 298v3M929.75 280v3M931.25 322v6M932.75 325v3M934.25 280v3M934.25 328v6M935.75 262v6M935.75 271v6M935.75 325v6M937.25 346v3M938.75 355v3M938.75 361v3M938.75 367v3M938.75 379v3M938.75 385v12M938.75 400v3M940.25 349v12M940.25 364v15M940.25 382v3M940.25 388v6M940.25 397v6M941.75 370v3M941.75 388v3M944.75 289v3M947.75 346v21M947.75 370v3M947.75 376v6M947.75 385v3M949.25 352v3M949.25 358v6M950.75 358v9M950.75 370v12M950.75 385v3M952.25 361v3M952.25 367v3M952.25 373v3M952.25 400v3M890.75 434v11M892.25 434v11M893.75 434v11M895.25 434v11M896.75 434v11M896.75 476v10M898.25 445v10M899.75 434v11M901.25 476v10M902.75 476v10M904.25 434v11M904.25 476v10M907.25 434v11M908.75 434v11M910.25 476v10M911.75 434v11M911.75 476v10M913.25 434v11M914.75 434v11M914.75 476v10M916.25 434v11M916.25 476v10M920.75 434v11M923.75 434v11M923.75 476v10M925.25 428v17M926.75 428v6M926.75 476v10"/><path stroke="#1cff00" stroke-width="1.5" d="M692.75 394v3M698.75 232v6M698.75 253v3M698.75 265v3M698.75 280v6M698.75 295v3M716.75 52v3M716.75 58v3M719.75 52v3M724.25 64v3M727.25 70v3M728.75 70v3M730.25 52v3M737.75 58v6M740.75 55v6M740.75 64v3M740.75 256v3M740.75 274v3M740.75 373v3M740.75 385v3M740.75 394v9M742.25 61v3M742.25 277v3M742.25 283v3M742.25 334v6M742.25 343v3M742.25 355v9M742.25 370v3M742.25 385v3M745.25 319v3M745.25 328v3M745.25 334v3M748.25 268v3M748.25 328v3M748.25 403v2M751.25 259v3M751.25 373v3M751.25 397v3M752.75 52v6M752.75 361v6M752.75 391v3M752.75 397v3M752.75 403v2M754.25 286v6M754.25 301v3M754.25 334v3M754.25 340v3M754.25 364v3M754.25 370v3M755.75 355v3M755.75 361v3M757.25 304v3M757.25 313v3M757.25 325v6M757.25 334v3M757.25 400v3M758.75 301v3M758.75 328v3M758.75 334v6M758.75 352v15M758.75 370v6M758.75 379v3M758.75 385v3M760.25 286v6M760.25 367v3M761.75 271v3M761.75 280v3M761.75 295v9M761.75 325v3M761.75 331v9M761.75 355v3M761.75 373v3M763.25 286v3M763.25 292v3M763.25 322v6M764.75 301v3M764.75 325v3M764.75 337v3M766.25 271v12M767.75 280v3M767.75 286v3M769.25 382v3M772.25 259v3M772.25 289v3M772.25 295v3M773.75 280v3M775.25 253v3M775.25 265v3M775.25 283v3M775.25 295v3M775.25 322v6M775.25 331v9M776.75 265v3M776.75 271v3M776.75 277v3M779.75 265v3M779.75 271v3M779.75 298v3M779.75 322v3M779.75 400v3M781.25 271v3M781.25 325v3M781.25 337v3M782.75 259v3M782.75 268v3M782.75 322v3M785.75 280v3M785.75 385v6M787.25 280v3M787.25 364v3M787.25 370v3M787.25 382v3M787.25 400v3M788.75 256v6M788.75 403v2M790.25 247v3M790.25 343v3M791.75 253v3M791.75 259v3M791.75 376v6M793.25 256v3M793.25 262v3M793.25 274v3M793.25 400v3M794.75 229v3M796.25 235v3M796.25 397v8M797.75 241v3M799.25 247v3M799.25 382v3M800.75 265v3M800.75 271v3M800.75 364v3M800.75 394v3M802.25 268v3M802.25 277v3M802.25 283v3M802.25 382v6M803.75 277v3M803.75 283v3M803.75 361v3M803.75 379v3M805.25 289v3M805.25 337v3M805.25 343v3M805.25 364v3M805.25 370v3M805.25 382v6M805.25 391v3M806.75 280v3M806.75 304v3M806.75 346v3M806.75 358v3M806.75 370v3M806.75 379v3M806.75 388v3M806.75 403v2M808.25 253v3M808.25 259v3M809.75 253v3M809.75 268v3M809.75 274v6M809.75 292v3M811.25 256v3M812.75 247v3M812.75 256v3M815.75 61v6M817.25 52v3M817.25 67v6M817.25 241v12M817.25 313v3M818.75 271v3M818.75 385v3M820.25 64v3M820.25 76v3M820.25 283v3M821.75 70v6M821.75 265v3M823.25 73v6M823.25 82v3M824.75 82v3M826.25 61v3M826.25 79v3M826.25 274v6M826.25 334v3M827.75 55v3M827.75 85v3M827.75 271v3M827.75 283v6M829.25 58v6M829.25 67v3M829.25 298v3M829.25 355v6M829.25 364v6M829.25 376v3M829.25 382v3M829.25 391v9M830.75 64v6M830.75 73v3M830.75 295v3M830.75 313v9M830.75 337v3M830.75 352v3M830.75 358v3M832.25 73v3M832.25 313v3M832.25 322v3M832.25 334v3M832.25 343v3M833.75 301v3M833.75 334v3M833.75 361v3M833.75 367v3M833.75 376v3M833.75 391v3M835.25 316v3M835.25 385v6M836.75 292v3M836.75 298v3M836.75 304v3M836.75 316v6M836.75 376v6M836.75 385v3M836.75 391v6M836.75 400v5M845.75 292v3M845.75 301v6M847.25 295v3M857.75 187v3M860.75 175v9M862.25 181v3M866.75 190v3M868.25 169v3M868.25 175v3M868.25 184v3M868.25 199v3M869.75 169v3M869.75 175v3M869.75 199v3M872.75 199v3M878.75 184v3M878.75 199v6M935.75 301v3M938.75 166v3M940.25 280v3M941.75 175v3M941.75 187v3M371.75 445v10M373.25 428v6M374.75 445v10M377.75 428v6M377.75 445v10M379.25 428v6M380.75 428v6M388.25 428v6M389.75 428v6M394.25 465v11M397.25 445v10M400.25 445v10M403.25 428v6M403.25 465v11M404.75 428v6M406.25 445v10M406.25 465v11M409.25 465v11M410.75 428v6M410.75 445v10M415.25 428v6M418.25 445v10M430.25 428v6M442.25 434v11M446.75 434v11M451.25 428v6M457.25 428v6M457.25 465v11M458.75 445v10M460.25 445v10M463.25 465v11M466.25 428v6M466.25 465v11M467.75 434v11M470.75 434v11M523.25 428v6M526.25 428v6M529.25 428v6M592.25 434v11M595.25 428v6M596.75 434v11M598.25 428v6M692.75 434v11M695.75 434v11M700.25 445v10M701.75 434v11M704.75 445v10M706.25 445v10M709.25 434v11M713.75 445v10M725.75 434v11M727.25 428v17M739.25 445v10M755.75 428v6M842.75 428v6M842.75 445v20M844.25 465v11M847.25 465v11M848.75 465v11M854.75 476v10M856.25 465v11M859.25 476v10M868.25 486v10M869.75 455v21M871.25 476v10M872.75 445v10M877.25 445v10M880.25 486v10M881.75 455v10M890.75 486v10M904.25 486v10M905.75 486v10M907.25 496v8M919.25 496v8M922.25 496v8M935.75 486v10M937.25 486v10M941.75 428v6"/><path stroke="#0074ff" stroke-width="1.5" d="M694.25 76v3M697.25 52v6M697.25 334v3M697.25 346v3M701.75 205v3M704.75 229v3M706.25 211v3M707.75 73v3M709.25 73v3M709.25 208v6M709.25 319v3M710.75 208v3M712.25 82v3M712.25 271v3M713.75 79v3M713.75 205v3M715.25 274v6M716.75 88v3M716.75 205v3M718.25 85v3M719.75 124v3M721.25 112v6M721.25 121v9M721.25 133v3M722.75 88v3M722.75 115v3M722.75 121v6M722.75 130v6M722.75 145v3M724.25 88v3M724.25 103v9M724.25 121v3M724.25 205v3M725.75 88v3M725.75 109v6M727.25 88v3M727.25 106v24M727.25 205v3M728.75 85v3M728.75 106v3M728.75 112v15M728.75 130v12M730.25 85v3M730.25 109v18M730.25 130v9M730.25 142v6M731.75 85v3M731.75 106v12M731.75 121v18M731.75 145v3M734.75 82v3M736.25 205v3M739.25 205v3M743.75 76v3M745.25 205v3M746.75 73v3M746.75 205v3M748.25 76v3M748.25 205v3M751.25 73v3M751.25 208v3M752.75 73v3M754.25 73v3M754.25 193v3M755.75 208v3M755.75 232v3M758.75 208v3M760.25 73v3M761.75 73v3M761.75 232v3M764.75 73v3M767.75 73v3M769.25 208v6M772.25 205v6M773.75 205v3M775.25 73v3M775.25 187v6M775.25 199v3M775.25 205v3M776.75 208v3M779.75 70v3M779.75 211v3M781.25 70v3M781.25 217v3M782.75 70v3M782.75 214v3M784.25 67v3M784.25 217v6M785.75 70v3M785.75 211v3M787.25 205v3M788.75 82v3M790.25 85v3M790.25 199v6M791.75 91v3M791.75 196v3M793.25 190v3M793.25 202v3M793.25 211v3M794.75 97v3M794.75 151v3M794.75 163v3M796.25 97v3M796.25 160v3M796.25 175v3M796.25 181v3M797.75 151v3M799.25 103v3M799.25 154v3M799.25 178v3M800.75 103v3M800.75 154v9M800.75 166v3M800.75 172v12M802.25 106v3M802.25 151v3M805.25 157v12M805.25 178v9M805.25 190v3M806.75 109v3M806.75 154v12M806.75 172v3M808.25 109v3M808.25 151v3M808.25 160v3M809.75 106v3M809.75 151v3M809.75 163v3M809.75 211v3M811.25 154v9M811.25 166v6M811.25 193v3M812.75 100v3M812.75 154v3M812.75 160v3M814.25 166v3M814.25 187v3M815.75 100v3M815.75 166v6M817.25 166v3M818.75 100v3M818.75 169v3M818.75 175v12M818.75 193v3M820.25 103v3M820.25 154v6M821.75 103v6M821.75 157v9M821.75 181v3M821.75 187v3M821.75 193v9M821.75 208v3M823.25 106v6M823.25 157v3M823.25 163v6M823.25 181v3M824.75 109v6M824.75 118v3M824.75 130v3M824.75 142v6M824.75 151v6M826.25 103v6M826.25 121v6M826.25 160v3M826.25 193v3M827.75 115v3M827.75 121v3M827.75 130v6M827.75 139v3M827.75 145v6M827.75 157v6M827.75 169v3M827.75 187v3M829.25 103v3M829.25 109v3M829.25 118v3M829.25 124v3M829.25 130v3M829.25 139v6M829.25 172v3M829.25 196v3M829.25 205v3M830.75 106v6M830.75 115v6M830.75 139v3M830.75 145v3M830.75 199v3M830.75 208v3M832.25 100v3M832.25 127v12M832.25 148v3M832.25 226v6M833.75 106v3M833.75 229v3M833.75 241v3M835.25 97v21M835.25 232v6M835.25 241v9M836.75 100v3M836.75 106v3M836.75 112v6M836.75 133v3M836.75 238v6M836.75 247v3M838.25 100v12M838.25 115v15M838.25 241v6M839.75 94v6M839.75 106v6M839.75 115v3M839.75 244v6M841.25 85v3M842.75 82v3M842.75 88v3M842.75 253v3M844.25 241v9M845.75 76v3M845.75 91v3M847.25 238v6M848.75 85v6M848.75 172v3M848.75 181v6M848.75 235v3M848.75 244v3M850.25 85v6M850.25 190v3M850.25 226v3M851.75 76v3M851.75 82v3M851.75 169v3M851.75 190v3M851.75 226v6M853.25 67v6M853.25 166v3M853.25 202v6M854.75 73v15M856.25 67v3M856.25 160v3M856.25 202v3M857.75 64v3M857.75 70v3M859.25 52v18M860.75 67v6M862.25 55v3M862.25 64v3M862.25 214v6M862.25 223v3M863.75 58v3M863.75 67v9M863.75 157v3M865.25 73v3M865.25 157v3M868.25 52v6M868.25 61v6M871.25 112v3M872.75 112v3M872.75 265v6M874.25 112v3M874.25 163v3M874.25 265v9M875.75 262v6M877.25 262v6M880.25 259v12M881.75 268v3M883.25 262v3M884.75 178v6M884.75 190v3M884.75 256v3M884.75 286v3M886.25 178v9M887.75 181v3M887.75 202v3M887.75 208v6M887.75 235v6M887.75 244v3M887.75 250v3M887.75 271v9M889.25 184v3M889.25 226v6M889.25 235v12M889.25 250v6M889.25 259v3M889.25 268v6M890.75 220v9M890.75 232v9M890.75 244v18M890.75 265v6M892.25 226v3M892.25 268v3M893.75 262v6M895.25 265v6M896.75 259v6M898.25 268v3M898.25 301v3M899.75 271v6M899.75 280v3M901.25 274v6M902.75 271v6M904.25 271v3M905.75 274v3M907.25 274v3M908.75 274v3M908.75 280v3M910.25 271v6M911.75 283v3M911.75 304v3M911.75 319v12M911.75 334v6M913.25 271v3M914.75 280v6M916.25 325v9M917.75 274v6M917.75 283v3M917.75 295v6M917.75 304v3M917.75 319v21M917.75 394v3M917.75 403v2M919.25 271v6M919.25 331v3M920.75 277v9M920.75 322v6M920.75 331v6M922.25 274v6M922.25 328v6M922.25 397v8M923.75 271v6M923.75 322v3M923.75 331v3M923.75 403v2M925.25 274v3M925.25 322v15M925.25 394v11M926.75 268v9M926.75 397v8M928.25 265v9M928.25 277v3M928.25 403v2M929.75 391v14M931.25 250v6M931.25 382v23M932.75 379v3M932.75 385v20M934.25 250v9M934.25 388v6M935.75 244v3M937.25 265v6M938.75 241v3M943.25 274v12M946.25 286v3"/><path stroke="#00ff04" stroke-width="1.5" d="M694.25 229v9M694.25 244v3M695.75 253v6M695.75 400v3M698.75 256v9M698.75 274v3M698.75 301v6M698.75 391v3M698.75 403v2M715.25 52v3M716.75 55v3M716.75 61v9M719.75 64v3M724.25 70v3M724.25 301v3M725.75 70v3M725.75 298v3M725.75 304v3M728.75 58v3M728.75 64v3M730.25 55v9M730.25 319v3M731.75 337v3M731.75 397v3M737.75 268v3M737.75 277v3M739.25 343v3M739.25 352v3M739.25 394v3M739.25 400v5M740.75 52v3M740.75 259v3M740.75 268v6M740.75 277v3M740.75 286v3M740.75 346v3M740.75 358v3M740.75 367v3M740.75 391v3M742.25 58v3M742.25 286v3M742.25 304v3M742.25 346v9M742.25 373v9M742.25 388v3M743.75 325v3M743.75 349v3M743.75 388v3M745.25 304v3M745.25 325v3M745.25 340v6M745.25 364v3M748.25 259v6M748.25 286v3M748.25 313v6M748.25 331v9M748.25 367v3M748.25 373v6M748.25 382v9M748.25 394v6M749.75 397v3M751.25 367v3M751.25 379v3M751.25 385v3M752.75 58v3M752.75 298v3M752.75 313v12M752.75 346v3M752.75 352v3M752.75 379v3M752.75 385v3M752.75 400v3M754.25 259v3M754.25 268v3M754.25 298v3M754.25 304v3M754.25 313v6M754.25 325v6M754.25 358v3M754.25 367v3M755.75 256v3M755.75 295v3M755.75 343v3M755.75 358v3M755.75 376v3M755.75 388v3M755.75 394v3M757.25 385v3M758.75 295v6M758.75 313v9M758.75 325v3M758.75 343v3M758.75 349v3M758.75 376v3M758.75 388v6M760.25 253v6M760.25 277v3M760.25 283v3M760.25 388v3M761.75 274v6M761.75 328v3M761.75 343v6M761.75 352v3M761.75 358v9M763.25 61v3M763.25 283v3M764.75 292v3M764.75 304v3M764.75 313v3M772.25 268v6M772.25 292v3M773.75 268v3M773.75 283v3M775.25 262v3M776.75 247v3M776.75 256v9M776.75 268v3M778.25 250v3M778.25 259v3M779.75 262v3M779.75 295v3M779.75 301v3M779.75 325v3M781.25 334v3M782.75 250v3M784.25 277v3M784.25 283v6M785.75 265v3M785.75 274v3M785.75 382v3M787.25 268v3M787.25 274v3M787.25 283v3M787.25 391v3M787.25 397v3M788.75 247v6M788.75 265v3M791.75 388v3M793.25 244v3M793.25 250v3M793.25 259v3M793.25 382v3M793.25 388v6M793.25 403v2M794.75 382v3M796.25 229v3M796.25 241v3M796.25 391v6M797.75 235v3M797.75 244v3M799.25 250v3M799.25 379v3M799.25 385v3M800.75 253v12M800.75 382v6M800.75 391v3M800.75 400v3M802.25 250v3M802.25 274v3M803.75 250v3M803.75 265v3M803.75 271v6M803.75 370v3M805.25 358v3M805.25 367v3M805.25 388v3M805.25 397v3M806.75 271v3M806.75 277v3M806.75 283v6M806.75 352v3M806.75 373v6M806.75 385v3M806.75 394v9M808.25 67v3M808.25 262v6M809.75 259v3M809.75 283v6M811.25 244v9M812.75 244v3M812.75 313v3M814.25 61v3M814.25 76v3M814.25 247v3M814.25 253v3M815.75 52v9M815.75 70v3M815.75 241v3M817.25 55v3M817.25 64v3M817.25 76v3M817.25 253v3M818.75 262v6M820.25 79v3M820.25 259v3M821.75 67v3M821.75 76v3M821.75 262v3M823.25 55v3M824.75 85v3M824.75 250v3M824.75 256v6M826.25 55v3M826.25 76v3M826.25 271v3M826.25 283v6M826.25 313v3M827.75 259v12M829.25 55v3M829.25 64v3M829.25 370v3M829.25 385v3M830.75 55v9M830.75 70v3M830.75 289v6M830.75 298v9M830.75 325v3M830.75 331v3M830.75 340v3M832.25 55v6M832.25 70v3M832.25 292v6M832.25 301v6M832.25 328v3M832.25 337v6M833.75 295v6M833.75 304v3M833.75 337v6M833.75 349v3M833.75 364v3M833.75 394v3M835.25 292v9M835.25 304v3M835.25 319v3M835.25 370v3M835.25 403v2M836.75 301v3M836.75 313v3M836.75 370v3M836.75 397v3M839.75 298v3M839.75 376v3M839.75 403v2M842.75 298v3M845.75 295v6M847.25 304v3M850.25 295v3M850.25 301v3M854.75 190v3M854.75 301v3M857.75 169v3M857.75 175v3M860.75 172v3M860.75 184v6M862.25 175v3M862.25 184v3M862.25 190v3M863.75 169v9M863.75 184v3M865.25 166v3M865.25 181v3M866.75 172v3M866.75 184v3M868.25 166v3M868.25 178v3M869.75 187v3M869.75 196v3M869.75 202v3M872.75 181v3M872.75 187v3M874.25 184v3M875.75 169v3M875.75 184v3M877.25 175v3M878.75 178v6M878.75 187v6M878.75 196v3M935.75 298v3M938.75 163v3M938.75 169v6M938.75 184v3M938.75 193v6M941.75 169v3M941.75 178v3M941.75 190v3M941.75 199v3M379.25 445v10M380.75 445v10M385.25 445v10M386.75 445v10M388.25 445v10M391.25 445v10M392.75 434v11M395.75 434v11M398.75 445v10M403.25 445v10M404.75 445v10M412.25 445v10M413.75 428v6M413.75 445v10M416.75 434v11M421.25 434v11M424.25 434v11M425.75 428v27M427.25 445v10M428.75 434v11M431.75 434v11M434.75 434v11M448.25 434v11M458.75 428v6M460.25 465v11M461.75 445v10M463.25 434v11M464.75 428v6M464.75 445v10M466.25 445v10M592.25 445v10M593.75 434v11M595.25 445v10M700.25 434v11M701.75 428v6M703.25 428v17M704.75 428v6M706.25 428v6M722.75 428v6M733.25 445v10M734.75 428v6M740.75 445v10M749.75 434v11M751.25 428v17M757.25 428v6M844.25 428v6M844.25 455v10M847.25 428v6M847.25 455v10M848.75 445v10M851.75 428v6M854.75 428v6M857.75 428v6M860.75 465v11M866.75 476v10M871.25 486v18M874.25 465v11M880.25 455v10M881.75 476v10M884.75 455v10M889.25 486v10M892.25 486v10M893.75 486v10M895.25 496v8M914.75 486v10M923.75 486v10M932.75 486v10M938.75 428v6M938.75 455v10M952.25 428v6"/><path stroke="#0000eb" stroke-width="1.5" d="M697.25 82v3M698.75 82v3M700.25 79v6M701.75 79v3M701.75 196v3M703.25 79v3M703.25 85v3M703.25 193v9M704.75 76v6M704.75 85v3M704.75 193v6M706.25 79v6M706.25 88v3M706.25 193v6M707.75 85v3M707.75 91v3M707.75 205v3M709.25 88v3M709.25 94v6M709.25 199v6M710.75 91v3M710.75 97v6M710.75 199v3M712.25 91v3M712.25 100v42M712.25 199v3M713.75 94v3M713.75 103v39M713.75 145v3M713.75 172v6M715.25 97v3M715.25 145v3M715.25 172v6M716.75 97v3M716.75 148v3M716.75 172v6M718.25 97v3M718.25 148v3M719.75 97v3M721.25 97v3M722.75 97v3M724.25 151v3M725.75 151v3M728.75 196v3M730.25 196v3M733.25 172v6M733.25 193v3M734.75 172v6M734.75 193v3M736.25 94v6M736.25 148v3M736.25 172v6M736.25 193v3M737.75 91v3M737.75 148v3M737.75 190v6M739.25 88v3M739.25 145v3M739.25 190v6M740.75 85v3M740.75 94v48M740.75 145v3M740.75 187v9M742.25 91v3M742.25 184v12M743.75 82v3M743.75 88v3M743.75 184v12M745.25 82v6M745.25 181v9M746.75 82v6M746.75 184v6M748.25 82v6M748.25 184v6M749.75 82v6M749.75 187v3M751.25 85v3M751.25 187v3M752.75 85v3M752.75 187v3M754.25 85v3M754.25 187v3M755.75 79v3M755.75 85v3M757.25 79v3M758.75 79v3M758.75 190v3M760.25 79v6M760.25 193v12M761.75 79v6M761.75 196v9M763.25 79v6M763.25 154v12M763.25 199v6M764.75 79v3M764.75 151v18M764.75 202v3M766.25 79v3M766.25 154v12M766.25 199v6M767.75 79v3M767.75 154v12M767.75 196v6M769.25 181v18M770.75 178v3M772.25 76v3M772.25 175v3M773.75 76v3M773.75 172v3M775.25 79v3M775.25 172v3M776.75 79v3M776.75 172v6M778.25 175v6M779.75 76v3M779.75 178v6M781.25 73v3M781.25 184v15M782.75 154v12M782.75 199v3M784.25 154v15M784.25 202v3M785.75 73v3M785.75 151v3M785.75 166v3M785.75 199v3M787.25 91v3M787.25 172v24M788.75 97v3M788.75 148v3M790.25 100v3M790.25 148v3M791.75 103v3M793.25 103v3M794.75 106v3M797.75 109v3M799.25 112v3M800.75 112v3M803.75 115v3M805.25 115v3M806.75 115v3M808.25 115v3M809.75 115v6M809.75 145v3M811.25 115v9M811.25 145v3M812.75 115v27M812.75 145v3M814.25 115v27M832.25 205v6M833.75 211v3M835.25 214v3M836.75 214v3M838.25 214v3M839.75 211v6M841.25 148v3M841.25 211v6M842.75 124v9M842.75 208v9M844.25 118v3M844.25 175v42M845.75 106v12M845.75 172v3M845.75 190v27M847.25 106v9M847.25 169v3M847.25 202v15M848.75 106v6M848.75 166v3M850.25 106v6M850.25 163v3M851.75 106v3M853.25 106v3M854.75 106v3M856.25 106v3M857.75 106v6M859.25 106v12M860.75 115v3M860.75 154v3M862.25 118v3M862.25 154v3M863.75 118v3M865.25 85v21M865.25 151v3M866.75 82v24M866.75 151v3M868.25 79v6M868.25 106v3M868.25 118v3M868.25 151v3M869.75 76v6M869.75 106v3M869.75 118v3M869.75 151v3M871.25 67v9M871.25 109v3M871.25 118v3M871.25 151v3M872.75 109v3M872.75 151v3M874.25 115v3M874.25 151v3M875.75 115v3M875.75 154v9M877.25 154v9M883.25 166v3M886.25 169v3M887.75 169v3M889.25 172v3M890.75 172v3M890.75 187v9M892.25 178v3M892.25 187v21M893.75 187v27M895.25 181v39M896.75 181v39M898.25 181v39M899.75 181v42M901.25 181v42M902.75 181v66M904.25 181v66M905.75 181v69M907.25 181v69M908.75 181v69M910.25 181v72M911.75 181v75M913.25 181v75M914.75 181v78M916.25 181v78M917.75 181v78M919.25 181v78M920.75 181v78M922.25 181v78M923.75 181v78M925.25 181v78M926.75 181v63M928.25 181v60M929.75 181v57M931.25 181v3M931.25 187v48M932.75 181v3M932.75 187v36M934.25 181v3M934.25 187v33M935.75 181v3M935.75 187v33M937.25 181v3M943.25 172v12M944.75 172v12M946.25 172v3M947.75 172v3M949.25 172v3M950.75 172v3M952.25 172v3"/><path stroke="#0000ff" stroke-width="1.5" d="M697.25 196v3M698.75 196v3M700.25 76v3M700.25 196v3M701.75 76v3M703.25 73v6M703.25 202v3M704.75 73v3M706.25 76v3M707.75 79v6M709.25 85v3M709.25 205v3M710.75 88v3M710.75 202v3M712.25 88v3M713.75 91v3M713.75 100v3M713.75 199v3M715.25 94v3M715.25 103v39M715.25 199v3M716.75 94v3M716.75 103v6M716.75 145v3M716.75 199v3M718.25 94v3M718.25 199v3M719.75 94v3M719.75 148v3M719.75 199v3M721.25 94v3M721.25 148v3M721.25 199v3M722.75 94v3M722.75 199v3M724.25 94v6M724.25 199v3M725.75 94v6M725.75 199v3M727.25 94v6M727.25 199v3M728.75 94v6M728.75 199v3M730.25 94v6M731.75 91v9M731.75 196v3M733.25 91v9M733.25 148v3M733.25 196v3M734.75 91v9M734.75 148v3M734.75 196v3M736.25 88v6M736.25 196v3M737.75 85v6M737.75 145v3M739.25 85v3M739.25 100v42M739.25 196v3M742.25 82v3M743.75 196v3M745.25 190v6M746.75 190v6M748.25 190v3M749.75 79v3M749.75 190v3M751.25 79v3M751.25 190v3M752.75 79v3M752.75 190v3M754.25 79v3M754.25 202v3M755.75 190v3M755.75 202v3M757.25 190v3M757.25 199v6M758.75 193v12M764.75 142v3M767.75 202v3M769.25 76v3M769.25 199v3M770.75 76v3M770.75 181v15M772.25 178v3M773.75 73v3M773.75 175v3M775.25 175v3M776.75 178v3M778.25 76v3M778.25 181v3M779.75 73v3M779.75 184v15M781.25 199v3M782.75 202v3M784.25 205v3M785.75 154v12M785.75 202v3M787.25 88v3M787.25 151v3M787.25 166v6M787.25 196v3M788.75 94v3M788.75 172v6M790.25 97v3M791.75 100v3M791.75 142v3M791.75 148v3M793.25 148v3M794.75 103v3M796.25 106v3M802.25 112v3M809.75 112v3M811.25 112v3M812.75 112v3M814.25 106v9M814.25 145v3M815.75 106v36M815.75 145v3M817.25 115v27M832.25 211v3M833.75 214v6M835.25 217v6M836.75 217v6M838.25 217v6M839.75 148v3M839.75 217v6M841.25 130v12M841.25 145v3M841.25 217v6M842.75 118v6M842.75 217v6M844.25 103v15M844.25 217v6M845.75 103v3M845.75 175v15M845.75 217v6M847.25 103v3M847.25 193v9M847.25 217v3M848.75 100v6M848.75 199v21M850.25 100v6M850.25 202v15M851.75 97v9M851.75 163v3M851.75 205v12M853.25 94v12M853.25 157v3M854.75 94v12M856.25 91v15M857.75 91v15M859.25 91v15M859.25 121v3M860.75 88v27M860.75 121v3M862.25 82v30M862.25 115v3M862.25 121v3M863.75 85v24M863.75 121v3M863.75 154v3M865.25 82v3M865.25 106v3M865.25 118v6M865.25 154v3M866.75 79v3M866.75 106v3M866.75 118v6M866.75 154v3M868.25 76v3M868.25 109v3M868.25 121v3M868.25 154v3M869.75 70v6M869.75 109v3M869.75 121v3M869.75 154v3M871.25 52v15M871.25 115v3M871.25 121v3M871.25 154v3M872.75 115v3M872.75 121v3M872.75 154v3M874.25 121v3M874.25 154v6M875.75 121v3M877.25 121v3M877.25 163v3M878.75 121v3M880.25 121v3M881.75 121v3M883.25 121v3M884.75 121v3M884.75 169v3M886.25 121v3M887.75 121v3M887.75 172v3M887.75 187v3M889.25 121v3M889.25 187v12M890.75 121v3M890.75 175v3M890.75 196v12M892.25 121v3M892.25 208v6M893.75 121v3M893.75 181v6M893.75 214v6M895.25 121v3M895.25 220v3M896.75 121v3M896.75 220v27M898.25 121v3M898.25 220v30M899.75 121v3M899.75 223v30M901.25 121v3M901.25 223v30M902.75 121v3M902.75 247v6M904.25 121v3M904.25 247v6M905.75 121v3M905.75 250v3M907.25 121v3M907.25 250v9M908.75 121v3M908.75 250v12M910.25 121v3M910.25 253v9M911.75 121v3M911.75 256v9M913.25 121v3M913.25 256v6M914.75 121v3M914.75 259v6M916.25 121v3M916.25 259v3M917.75 121v3M917.75 259v6M919.25 121v3M919.25 259v3M920.75 121v3M920.75 259v3M922.25 121v3M922.25 259v3M923.75 121v3M923.75 259v3M925.25 259v3M926.75 244v15M928.25 241v9M929.75 238v6M931.25 184v3M931.25 235v6M932.75 184v3M932.75 223v15M934.25 184v3M934.25 220v6M934.25 232v3M935.75 184v3M935.75 220v6M935.75 229v3M937.25 184v3M943.25 184v36M944.75 184v102M946.25 175v111M947.75 175v111M949.25 175v111M950.75 175v111M952.25 175v111"/><path stroke="#40ff00" stroke-width="1.5" d="M698.75 238v3M698.75 244v3M698.75 268v3M698.75 277v3M719.75 55v3M724.25 61v3M724.25 67v3M725.75 67v3M728.75 55v3M730.25 64v3M731.75 52v3M731.75 67v3M737.75 64v3M739.25 340v3M740.75 61v3M740.75 388v3M742.25 55v3M745.25 322v3M746.75 292v3M748.25 256v3M748.25 265v3M748.25 358v6M751.25 394v3M752.75 367v3M752.75 373v3M752.75 382v3M752.75 388v3M752.75 394v3M754.25 271v6M754.25 292v6M754.25 331v3M755.75 397v6M757.25 301v3M757.25 316v9M757.25 391v6M758.75 394v3M760.25 295v9M760.25 349v3M760.25 361v3M760.25 373v3M760.25 379v6M761.75 286v3M761.75 376v3M761.75 382v6M763.25 289v3M763.25 298v3M763.25 319v3M763.25 328v3M764.75 295v6M764.75 316v6M764.75 334v3M764.75 340v3M764.75 346v18M767.75 289v3M767.75 304v3M769.25 376v3M769.25 385v6M769.25 397v3M772.25 277v3M772.25 283v3M772.25 298v3M772.25 304v3M773.75 271v3M773.75 289v3M773.75 316v3M773.75 328v3M773.75 334v3M773.75 397v3M775.25 250v3M775.25 259v3M775.25 268v3M775.25 286v3M775.25 292v3M775.25 319v3M775.25 340v3M776.75 283v3M778.25 262v6M778.25 274v3M778.25 283v3M778.25 298v3M778.25 394v6M778.25 403v2M779.75 304v3M779.75 313v3M779.75 319v3M779.75 334v3M779.75 403v2M781.25 268v3M781.25 274v6M781.25 283v6M781.25 322v3M781.25 328v6M781.25 358v3M781.25 379v3M781.25 385v3M782.75 262v3M782.75 271v6M782.75 319v3M784.25 289v3M784.25 361v3M784.25 382v23M785.75 286v3M785.75 361v6M785.75 370v6M785.75 379v3M785.75 400v5M787.25 286v3M787.25 298v3M787.25 373v3M787.25 379v3M790.25 385v3M790.25 400v5M791.75 250v3M791.75 358v3M793.25 265v3M793.25 271v3M793.25 277v3M793.25 283v3M793.25 379v3M794.75 388v6M796.25 379v3M799.25 256v3M800.75 268v3M800.75 274v9M800.75 346v3M800.75 358v6M800.75 367v3M800.75 373v6M802.25 271v3M802.25 280v3M802.25 370v3M802.25 379v3M802.25 388v3M802.25 394v6M803.75 280v3M803.75 286v3M803.75 358v3M803.75 364v6M803.75 376v3M803.75 382v3M803.75 391v3M805.25 328v9M805.25 400v3M806.75 292v6M806.75 355v3M806.75 361v9M809.75 271v3M811.25 259v3M812.75 250v6M812.75 319v3M814.25 256v3M815.75 67v3M815.75 73v3M815.75 244v6M817.25 73v3M817.25 256v9M818.75 268v3M818.75 277v3M818.75 316v3M818.75 331v3M820.25 67v9M820.25 265v12M820.25 313v3M821.75 268v3M821.75 274v3M821.75 313v15M823.25 52v3M823.25 58v3M823.25 64v9M823.25 79v3M823.25 259v9M824.75 271v3M826.25 64v3M826.25 289v6M826.25 304v3M826.25 316v9M826.25 328v6M827.75 52v3M827.75 82v3M829.25 70v6M829.25 292v3M829.25 316v3M829.25 343v3M829.25 352v3M829.25 373v3M829.25 388v3M829.25 400v3M830.75 328v3M830.75 343v9M830.75 361v6M830.75 385v6M832.25 319v3M833.75 313v3M833.75 319v3M833.75 328v3M833.75 373v3M833.75 382v9M833.75 397v6M835.25 301v3M835.25 313v3M835.25 376v9M835.25 391v3M836.75 382v3M836.75 388v3M847.25 301v3M857.75 184v3M857.75 190v3M863.75 166v3M868.25 181v3M868.25 190v6M869.75 166v3M869.75 172v3M869.75 178v3M869.75 190v6M938.75 190v3M938.75 202v3M941.75 184v3M368.75 434v11M371.75 434v11M374.75 428v6M376.25 428v6M376.25 445v10M383.75 445v10M385.25 428v6M388.25 465v11M392.75 445v10M397.25 465v11M400.25 434v11M409.25 428v6M412.25 428v6M416.75 428v6M416.75 445v10M418.25 428v6M419.75 428v6M419.75 445v10M421.25 445v10M428.75 428v6M433.25 428v6M436.25 445v10M443.75 428v6M445.25 428v6M446.75 428v6M451.25 445v10M451.25 465v11M452.75 428v6M455.75 434v11M458.75 465v11M460.25 428v6M461.75 428v6M463.25 445v10M470.75 428v6M470.75 445v10M472.25 465v11M511.25 428v6M517.25 428v6M520.25 428v6M521.75 428v6M524.75 428v6M527.75 428v6M530.75 428v6M536.75 428v6M596.75 445v10M598.25 455v10M692.75 445v10M694.25 445v10M697.25 445v10M700.25 455v10M709.25 428v6M716.75 445v10M719.75 434v11M721.25 445v10M722.75 434v11M724.25 434v11M734.75 445v10M737.75 445v10M745.25 445v10M748.25 445v10M752.75 428v6M841.25 428v6M841.25 445v10M857.75 465v11M862.25 486v10M871.25 455v10M874.25 486v10M878.75 445v10M880.25 476v10M883.25 486v10M887.75 486v10M896.75 496v8M902.75 496v8M904.25 496v8M910.25 496v8M911.75 496v8M913.25 496v8M920.75 486v10M938.75 434v11M949.25 428v6"/><path stroke="#63ff00" stroke-width="1.5" d="M698.75 247v6M698.75 286v6M698.75 298v3M722.75 67v3M724.25 55v3M725.75 64v3M727.25 58v6M727.25 67v3M728.75 61v3M731.75 58v3M740.75 376v9M742.25 52v3M752.75 370v3M754.25 277v3M754.25 376v6M755.75 403v2M757.25 397v3M758.75 400v5M760.25 292v3M760.25 304v3M760.25 355v3M760.25 364v3M760.25 370v3M760.25 376v3M760.25 385v3M760.25 391v3M760.25 397v3M760.25 403v2M761.75 379v3M761.75 388v3M761.75 397v3M763.25 313v6M763.25 331v6M764.75 322v3M764.75 328v6M764.75 343v3M764.75 367v6M764.75 379v12M766.25 283v6M766.25 313v3M766.25 319v3M766.25 352v3M766.25 358v6M766.25 370v3M767.75 292v12M767.75 316v6M767.75 325v6M769.25 232v3M769.25 292v6M769.25 319v3M769.25 328v9M769.25 343v3M769.25 352v12M769.25 373v3M769.25 379v3M769.25 391v6M770.75 328v6M772.25 274v3M772.25 280v3M772.25 286v3M772.25 301v3M773.75 277v3M773.75 292v3M773.75 322v6M773.75 331v3M773.75 388v3M775.25 280v3M775.25 301v3M775.25 316v3M775.25 328v3M776.75 280v3M776.75 286v6M778.25 271v3M778.25 280v3M778.25 286v6M778.25 295v3M778.25 301v3M778.25 313v3M778.25 385v6M779.75 316v3M779.75 328v6M779.75 337v6M779.75 385v3M779.75 394v3M781.25 280v3M781.25 289v3M781.25 304v3M781.25 313v9M781.25 355v3M781.25 361v3M781.25 370v3M781.25 391v3M781.25 400v3M782.75 265v3M782.75 286v3M782.75 313v6M782.75 325v3M784.25 304v3M784.25 319v3M784.25 358v3M784.25 364v3M784.25 370v9M785.75 358v3M785.75 367v3M785.75 376v3M785.75 391v9M787.25 277v3M787.25 337v3M787.25 343v3M787.25 361v3M787.25 367v3M787.25 376v3M788.75 253v3M788.75 262v3M788.75 268v3M788.75 385v6M788.75 394v3M790.25 253v3M790.25 286v3M790.25 337v6M790.25 388v6M790.25 397v3M791.75 256v3M791.75 355v3M791.75 364v3M791.75 373v3M793.25 268v3M793.25 286v3M793.25 397v3M794.75 226v3M794.75 403v2M796.25 238v3M796.25 244v6M796.25 376v3M797.75 247v3M799.25 253v3M799.25 259v3M799.25 280v3M799.25 373v3M800.75 283v6M800.75 355v3M800.75 370v3M802.25 286v6M802.25 403v2M803.75 289v3M803.75 352v6M803.75 385v3M803.75 394v6M805.25 295v3M805.25 316v12M805.25 340v3M805.25 379v3M806.75 289v3M806.75 301v3M806.75 313v6M806.75 328v3M806.75 337v3M806.75 343v3M806.75 349v3M806.75 391v3M808.25 346v3M808.25 352v3M809.75 289v3M809.75 295v6M809.75 382v3M809.75 397v3M811.25 262v6M811.25 280v3M811.25 286v3M811.25 397v3M812.75 265v3M812.75 316v3M812.75 322v3M814.25 262v3M815.75 250v3M815.75 313v3M815.75 319v3M815.75 394v3M817.25 58v3M817.25 265v12M817.25 280v6M817.25 301v3M818.75 274v3M818.75 280v9M818.75 313v3M818.75 319v3M818.75 334v6M818.75 394v3M820.25 277v6M820.25 289v3M820.25 295v3M820.25 328v3M820.25 403v2M821.75 271v3M821.75 277v18M821.75 340v3M823.25 61v3M823.25 271v3M823.25 289v3M823.25 313v3M823.25 391v3M824.75 79v3M824.75 262v6M826.25 58v3M826.25 70v6M826.25 298v6M826.25 325v3M826.25 337v3M827.75 58v3M827.75 79v3M827.75 277v3M827.75 292v3M827.75 304v3M827.75 316v3M829.25 295v3M829.25 304v3M829.25 313v3M829.25 319v3M829.25 325v3M829.25 337v6M829.25 346v3M829.25 361v3M829.25 379v3M829.25 403v2M830.75 322v3M830.75 355v3M830.75 367v3M830.75 373v3M830.75 397v6M833.75 316v3M833.75 322v6M833.75 331v3M833.75 403v2M835.25 373v3M835.25 400v3M836.75 373v3M854.75 172v3M854.75 178v3M854.75 184v6M857.75 172v3M868.25 187v3M868.25 196v3M868.25 202v3M869.75 181v3M938.75 199v3M371.75 428v6M382.25 445v10M383.75 428v6M391.25 428v6M391.25 465v11M400.25 465v11M401.75 428v6M401.75 445v10M406.25 428v6M410.75 465v11M415.25 465v11M421.25 428v6M424.25 428v6M424.25 445v10M428.75 445v10M430.25 445v10M431.75 428v6M431.75 445v10M433.25 445v10M433.25 465v11M436.25 428v6M439.25 445v10M443.75 445v10M445.25 445v10M448.25 428v6M448.25 445v10M449.75 428v6M449.75 445v10M452.75 445v10M452.75 465v11M454.25 455v10M455.75 428v6M457.25 445v10M461.75 465v11M463.25 428v6M464.75 465v11M467.75 428v6M467.75 445v10M469.25 434v11M469.25 465v11M470.75 465v11M518.75 428v6M592.25 428v6M593.75 428v6M596.75 428v6M698.75 445v10M701.75 445v10M703.25 445v10M704.75 455v10M707.75 434v21M712.25 445v10M718.25 445v10M725.75 428v6M727.25 445v10M730.25 455v10M731.75 445v10M736.25 455v10M742.25 445v10M754.25 428v17M757.25 434v11M835.25 428v6M848.75 428v6M848.75 455v10M853.25 476v10M856.25 476v10M860.75 476v10M863.75 486v10M866.75 486v10M868.25 496v8M874.25 455v10M874.25 496v8M881.75 486v10M914.75 496v8M916.25 496v8M925.25 496v8M926.75 496v8M928.25 496v8M931.25 496v8M938.75 465v11M952.25 434v11"/><path stroke="#aaff00" stroke-width="1.5" d="M698.75 271v3M722.75 58v3M727.25 64v3M731.75 61v6M754.25 283v3M754.25 382v3M760.25 313v3M760.25 328v9M760.25 352v3M760.25 394v3M761.75 391v6M761.75 400v3M763.25 373v3M763.25 382v3M764.75 394v3M764.75 400v5M766.25 301v6M766.25 316v3M766.25 325v6M766.25 343v3M766.25 355v3M766.25 376v3M766.25 385v3M769.25 244v3M769.25 262v3M769.25 268v3M769.25 274v6M769.25 283v6M769.25 322v6M769.25 400v3M770.75 232v3M770.75 241v3M770.75 247v3M770.75 316v6M770.75 343v3M770.75 352v3M770.75 358v3M770.75 376v6M772.25 319v3M773.75 298v6M773.75 319v3M773.75 352v6M773.75 373v3M773.75 379v9M773.75 394v3M773.75 400v3M775.25 277v3M775.25 346v3M775.25 397v3M776.75 292v6M776.75 304v3M776.75 388v3M778.25 304v3M778.25 325v3M779.75 349v3M779.75 379v3M779.75 388v6M781.25 292v3M781.25 298v3M781.25 364v3M782.75 289v9M782.75 304v3M782.75 328v3M784.25 298v3M784.25 316v3M784.25 322v9M784.25 349v3M784.25 355v3M785.75 289v3M787.25 328v6M787.25 340v3M787.25 346v12M788.75 274v3M788.75 280v3M788.75 286v3M788.75 379v3M788.75 391v3M790.25 259v3M790.25 265v6M790.25 295v6M790.25 349v3M791.75 265v3M791.75 361v3M793.25 289v3M793.25 295v3M793.25 304v3M793.25 328v3M793.25 337v9M793.25 349v3M793.25 355v3M793.25 364v3M793.25 370v3M793.25 376v3M794.75 367v6M796.25 250v3M797.75 253v3M797.75 388v3M797.75 394v3M799.25 274v6M799.25 286v6M799.25 313v3M799.25 364v3M799.25 370v3M800.75 292v3M800.75 301v6M800.75 313v6M800.75 334v3M800.75 343v3M800.75 349v6M802.25 304v3M802.25 349v3M802.25 358v9M802.25 391v3M803.75 292v3M803.75 301v3M803.75 316v3M803.75 349v3M805.25 304v3M806.75 331v3M808.25 268v3M808.25 340v3M809.75 316v3M809.75 346v3M809.75 355v3M809.75 385v3M811.25 274v6M811.25 289v3M811.25 298v3M811.25 304v3M811.25 316v3M811.25 340v3M811.25 358v3M811.25 379v3M811.25 388v6M811.25 403v2M812.75 262v3M812.75 271v3M812.75 277v6M812.75 289v3M812.75 325v6M814.25 277v3M814.25 283v3M814.25 313v3M814.25 394v3M815.75 259v3M815.75 292v3M815.75 301v6M815.75 316v3M815.75 322v3M815.75 331v3M815.75 376v3M815.75 388v6M815.75 397v6M817.25 292v3M817.25 319v3M818.75 292v3M818.75 304v3M818.75 340v3M818.75 397v3M820.25 298v6M820.25 325v3M820.25 394v6M821.75 301v3M821.75 361v3M821.75 367v3M821.75 382v3M821.75 388v6M821.75 397v8M823.25 277v3M823.25 283v3M823.25 361v3M823.25 367v6M823.25 379v3M823.25 394v3M823.25 403v2M824.75 52v6M824.75 70v6M824.75 280v6M824.75 331v3M826.25 67v3M826.25 346v6M826.25 385v6M826.25 394v11M827.75 61v6M827.75 76v3M827.75 274v3M827.75 295v3M827.75 382v6M829.25 328v6M830.75 403v2M833.75 379v3M854.75 175v3M854.75 181v3M869.75 184v3M938.75 274v3M940.25 268v6M940.25 277v3M940.25 286v3M940.25 313v6M368.75 445v10M379.25 465v11M391.25 455v10M394.25 428v6M394.25 455v10M401.75 465v11M403.25 486v10M407.75 428v6M407.75 465v11M412.25 465v11M418.25 465v11M421.25 465v11M422.75 465v11M427.25 455v21M451.25 455v10M454.25 486v10M455.75 445v10M455.75 465v11M469.25 428v6M469.25 445v10M472.25 445v10M475.25 434v11M475.25 465v11M478.25 445v10M512.75 428v6M535.25 428v6M590.75 428v6M595.25 455v10M698.75 455v10M701.75 455v10M706.25 455v10M709.25 445v10M710.75 445v10M716.75 455v10M719.75 445v10M724.25 445v10M733.25 455v10M740.75 455v10M748.25 455v10M749.75 445v10M760.25 428v6M836.75 428v6M838.25 428v6M839.75 428v6M841.25 455v10M842.75 465v11M845.75 428v6M847.25 476v10M850.25 476v10M869.75 486v10M878.75 465v11M886.25 496v8M905.75 496v8M908.75 496v8M929.75 496v8M932.75 496v8M938.75 445v10M940.25 434v11M940.25 465v11M950.75 428v6M952.25 445v10"/><path stroke="#87ff00" stroke-width="1.5" d="M698.75 292v3M722.75 52v6M722.75 61v6M722.75 70v3M724.25 52v3M724.25 58v3M725.75 52v12M727.25 52v6M728.75 52v3M731.75 55v3M754.25 280v3M754.25 373v3M758.75 367v3M758.75 397v3M760.25 316v6M760.25 340v9M760.25 358v3M763.25 295v3M763.25 301v6M763.25 337v6M764.75 364v3M764.75 373v6M766.25 298v3M766.25 322v3M766.25 367v3M766.25 373v3M767.75 313v3M767.75 322v3M767.75 340v3M769.25 229v3M769.25 247v3M769.25 271v3M769.25 280v3M769.25 289v3M769.25 301v6M769.25 313v6M769.25 337v6M769.25 346v6M769.25 364v9M769.25 403v2M770.75 229v3M770.75 322v3M770.75 334v9M770.75 346v3M770.75 355v3M772.25 313v3M773.75 286v3M773.75 295v3M773.75 304v3M773.75 313v3M773.75 337v6M773.75 391v3M773.75 403v2M775.25 271v6M775.25 289v3M775.25 298v3M775.25 304v3M775.25 313v3M775.25 343v3M776.75 274v3M778.25 268v3M778.25 277v3M778.25 292v3M778.25 382v3M778.25 391v3M779.75 382v3M779.75 397v3M781.25 295v3M781.25 301v3M781.25 340v15M781.25 367v3M781.25 373v6M781.25 382v3M781.25 388v3M781.25 394v6M782.75 277v9M782.75 298v6M782.75 331v3M784.25 292v6M784.25 301v3M784.25 313v3M784.25 331v3M784.25 340v3M784.25 367v3M784.25 379v3M785.75 340v3M785.75 355v3M787.25 289v3M787.25 295v3M787.25 304v3M787.25 322v3M787.25 358v3M788.75 271v3M788.75 283v3M788.75 382v3M788.75 397v6M790.25 250v3M790.25 256v3M790.25 283v3M790.25 289v3M790.25 301v6M790.25 322v12M790.25 346v3M790.25 352v3M790.25 382v3M790.25 394v3M791.75 352v3M791.75 367v6M793.25 280v3M793.25 298v3M793.25 313v3M793.25 361v3M794.75 232v9M794.75 379v3M794.75 394v9M796.25 253v3M797.75 250v3M797.75 382v3M799.25 262v3M799.25 283v3M799.25 301v6M800.75 289v3M800.75 295v6M802.25 292v6M802.25 301v3M802.25 367v3M802.25 376v3M802.25 400v3M803.75 295v3M803.75 388v3M803.75 400v5M805.25 292v3M805.25 301v3M805.25 313v3M805.25 394v3M806.75 298v3M806.75 322v6M806.75 334v3M806.75 340v3M808.25 343v3M808.25 349v3M808.25 355v9M809.75 301v6M809.75 313v3M809.75 388v3M809.75 394v3M809.75 400v5M811.25 268v6M811.25 283v3M811.25 376v3M811.25 382v6M812.75 259v3M812.75 268v3M812.75 286v3M812.75 292v15M814.25 259v3M814.25 265v6M815.75 253v6M815.75 295v6M817.25 277v3M817.25 286v6M818.75 289v3M818.75 298v6M818.75 322v6M818.75 382v3M818.75 388v3M820.25 286v3M820.25 304v3M820.25 316v6M820.25 385v3M820.25 400v3M821.75 295v6M821.75 304v3M821.75 328v3M821.75 334v6M821.75 379v3M821.75 385v3M821.75 394v3M823.25 268v3M823.25 280v3M823.25 286v3M823.25 295v3M823.25 316v3M823.25 376v3M823.25 385v6M823.25 400v3M824.75 67v3M824.75 76v3M824.75 268v3M824.75 274v3M826.25 295v3M826.25 340v6M827.75 67v3M827.75 280v3M827.75 298v6M827.75 313v3M827.75 373v3M829.25 301v3M829.25 322v3M829.25 349v3M830.75 379v6M830.75 394v3M833.75 370v3M835.25 397v3M940.25 289v6M940.25 301v3M940.25 325v3M370.25 465v11M379.25 455v10M382.25 434v11M388.25 455v10M392.75 465v11M395.75 445v10M397.25 428v6M398.75 465v11M400.25 428v6M404.75 465v11M407.75 445v10M434.75 428v6M434.75 445v10M437.75 434v11M439.25 428v6M440.75 428v6M440.75 445v10M442.25 428v6M442.25 445v10M445.25 465v11M446.75 445v10M454.25 476v10M467.75 465v11M475.25 428v6M514.25 428v6M538.25 428v6M703.25 455v10M715.25 445v10M728.75 428v17M743.75 445v10M752.75 434v11M758.75 428v6M832.25 428v6M841.25 465v11M845.75 445v31M851.75 476v10M857.75 476v10M865.25 486v10M869.75 476v10M875.75 455v21M875.75 486v10M877.25 465v11M877.25 486v10M880.25 496v8M884.75 486v10M887.75 496v8M892.25 496v8M893.75 496v8M899.75 496v8M901.25 496v8M920.75 496v8M923.75 496v8M934.25 496v8"/><path stroke="#cdff00" stroke-width="1.5" d="M754.25 385v6M754.25 394v11M760.25 322v6M760.25 337v3M760.25 400v3M763.25 343v6M763.25 352v9M763.25 376v6M763.25 385v3M763.25 394v6M764.75 397v3M766.25 331v9M766.25 346v6M766.25 364v3M766.25 379v6M767.75 334v3M769.25 241v3M769.25 253v3M769.25 259v3M769.25 298v3M770.75 235v3M770.75 244v3M770.75 250v12M770.75 271v3M770.75 277v3M770.75 286v3M770.75 313v3M770.75 325v3M770.75 349v3M770.75 382v3M772.25 316v3M772.25 325v3M773.75 343v3M773.75 358v3M773.75 367v6M773.75 376v3M775.25 349v6M775.25 358v3M775.25 391v6M776.75 298v6M778.25 322v3M778.25 328v3M778.25 340v9M778.25 364v9M779.75 343v6M779.75 364v3M779.75 373v6M781.25 403v2M782.75 334v6M782.75 352v3M782.75 379v3M782.75 394v3M782.75 400v3M784.25 334v6M784.25 346v3M784.25 352v3M785.75 316v3M785.75 334v6M785.75 343v6M785.75 352v3M787.25 292v3M787.25 301v3M787.25 313v3M788.75 277v3M788.75 289v3M788.75 319v3M788.75 343v3M788.75 364v3M790.25 262v3M790.25 271v3M790.25 280v3M790.25 313v6M790.25 334v3M790.25 364v6M790.25 379v3M791.75 262v3M791.75 271v3M791.75 277v3M791.75 295v3M791.75 343v9M793.25 292v3M793.25 301v3M793.25 316v3M793.25 325v3M793.25 334v3M793.25 346v3M793.25 367v3M797.75 379v3M797.75 385v3M797.75 391v3M797.75 397v3M799.25 265v9M799.25 292v3M799.25 316v3M799.25 322v6M799.25 367v3M800.75 325v3M800.75 337v6M802.25 298v3M802.25 313v6M802.25 352v3M802.25 373v3M803.75 313v3M803.75 346v3M805.25 298v3M806.75 319v3M808.25 274v3M808.25 283v3M808.25 289v3M808.25 313v3M808.25 325v3M808.25 331v9M809.75 322v3M809.75 337v3M809.75 343v3M809.75 358v3M809.75 379v3M809.75 391v3M811.25 292v6M811.25 301v3M811.25 343v3M811.25 400v3M812.75 283v3M812.75 334v6M812.75 343v3M814.25 271v6M814.25 322v3M814.25 331v3M814.25 376v3M814.25 382v9M815.75 262v3M815.75 286v6M815.75 325v3M815.75 370v3M815.75 382v6M817.25 295v6M817.25 304v3M817.25 316v3M817.25 322v6M818.75 295v3M818.75 328v3M818.75 346v3M818.75 376v6M818.75 391v3M818.75 400v5M820.25 292v3M820.25 322v3M820.25 331v3M820.25 337v3M820.25 373v9M820.25 391v3M821.75 331v3M821.75 343v3M821.75 352v6M821.75 364v3M821.75 370v6M823.25 274v3M823.25 292v3M823.25 298v6M823.25 319v3M823.25 325v3M823.25 346v3M823.25 373v3M823.25 382v3M823.25 397v3M824.75 58v3M824.75 277v3M824.75 286v6M824.75 337v3M826.25 352v6M826.25 361v3M826.25 382v3M826.25 391v3M827.75 70v3M827.75 289v3M827.75 325v3M827.75 349v3M827.75 364v3M827.75 370v3M827.75 376v3M829.25 334v3M830.75 370v3M830.75 376v3M830.75 391v3M938.75 268v3M938.75 277v3M938.75 286v3M940.25 274v3M940.25 283v3M940.25 295v6M940.25 304v3M940.25 319v6M368.75 428v6M373.25 465v11M376.25 465v11M382.25 428v6M385.25 455v21M391.25 476v10M395.75 465v11M398.75 428v6M409.25 455v10M409.25 486v10M413.75 465v11M436.25 465v11M437.75 445v10M439.25 465v11M448.25 465v11M472.25 428v6M475.25 445v20M478.25 428v17M478.25 455v21M509.75 428v6M524.75 434v11M532.25 428v6M539.75 428v6M577.25 428v6M586.25 428v6M589.25 428v6M590.75 434v21M592.25 455v10M695.75 445v10M697.25 455v10M713.75 455v10M724.25 455v10M739.25 455v10M742.25 455v10M745.25 455v10M746.75 455v10M755.75 434v11M829.25 428v6M839.75 434v11M844.25 476v10M859.25 486v10M872.75 486v10M875.75 496v8M883.25 496v8M890.75 496v8M917.75 496v8M937.25 496v8M938.75 476v10M940.25 455v10"/><path stroke="#f1ff00" stroke-width="1.5" d="M754.25 391v3M761.75 403v2M763.25 361v9M763.25 403v2M764.75 391v3M766.25 289v3M766.25 295v3M766.25 340v3M767.75 331v3M767.75 337v3M767.75 349v3M767.75 355v3M767.75 373v3M769.25 235v6M769.25 250v3M769.25 265v3M770.75 238v3M770.75 262v3M770.75 274v3M770.75 280v6M770.75 289v12M770.75 361v6M770.75 370v3M770.75 385v6M772.25 322v3M772.25 328v3M772.25 337v3M772.25 385v3M772.25 391v3M772.25 397v3M773.75 346v6M773.75 361v6M775.25 355v3M775.25 379v3M775.25 385v6M776.75 313v6M776.75 331v9M776.75 346v3M776.75 355v3M776.75 367v3M776.75 382v3M778.25 316v3M778.25 331v9M778.25 352v3M778.25 358v3M778.25 373v3M778.25 379v3M779.75 355v3M779.75 361v3M782.75 340v12M782.75 364v6M782.75 373v6M782.75 382v3M782.75 388v3M782.75 397v3M782.75 403v2M784.25 343v3M785.75 295v3M785.75 301v6M785.75 313v3M785.75 319v3M785.75 325v3M785.75 349v3M787.25 316v3M787.25 325v3M788.75 313v6M788.75 322v3M788.75 361v3M788.75 367v12M790.25 274v6M790.25 292v3M790.25 319v3M790.25 361v3M790.25 370v3M790.25 376v3M791.75 268v3M791.75 274v3M791.75 280v15M793.25 319v6M793.25 331v3M793.25 358v3M794.75 241v9M794.75 277v3M794.75 283v3M794.75 364v3M796.25 256v9M796.25 274v3M796.25 355v3M796.25 361v3M796.25 373v3M797.75 256v6M797.75 265v3M797.75 274v3M797.75 400v5M799.25 295v6M799.25 319v3M799.25 328v3M800.75 328v6M802.25 319v6M802.25 328v3M802.25 340v9M802.25 355v3M803.75 298v3M803.75 304v3M803.75 325v3M803.75 331v3M803.75 337v3M803.75 343v3M808.25 271v3M808.25 286v3M808.25 316v6M808.25 370v3M809.75 328v9M809.75 349v6M809.75 367v6M809.75 376v3M811.25 331v3M811.25 337v3M811.25 349v6M811.25 361v3M811.25 370v6M811.25 394v3M812.75 331v3M812.75 340v3M812.75 385v3M812.75 397v3M814.25 280v3M814.25 286v6M814.25 301v6M814.25 316v6M814.25 325v3M814.25 334v3M814.25 358v3M814.25 367v9M814.25 379v3M814.25 397v3M815.75 268v3M815.75 277v9M815.75 328v3M815.75 334v3M815.75 373v3M815.75 379v3M817.25 328v9M817.25 370v3M817.25 385v3M818.75 343v3M818.75 364v9M820.25 334v3M820.25 340v3M820.25 361v6M820.25 370v3M820.25 388v3M821.75 346v6M821.75 376v3M823.25 304v3M823.25 322v3M823.25 337v3M823.25 343v3M823.25 349v6M823.25 358v3M824.75 61v6M824.75 313v6M824.75 328v3M824.75 361v6M824.75 373v3M826.25 364v3M826.25 376v6M827.75 73v3M827.75 319v6M827.75 331v3M827.75 355v9M827.75 379v3M827.75 388v3M827.75 394v9M938.75 271v3M938.75 280v6M938.75 313v12M373.25 455v10M377.75 465v11M386.75 465v11M389.75 465v11M392.75 428v6M397.25 455v10M415.25 455v10M415.25 486v10M416.75 465v11M418.25 455v10M425.75 465v11M430.25 465v11M431.75 465v11M433.25 455v10M436.25 455v10M437.75 428v6M451.25 486v10M463.25 455v10M466.25 455v10M472.25 434v11M472.25 455v10M515.75 428v6M533.75 428v6M574.25 428v6M584.75 428v6M586.25 465v11M587.75 428v6M589.25 445v10M692.75 455v10M694.25 455v10M698.75 465v11M706.25 465v11M707.75 455v10M713.75 465v11M721.25 455v10M722.75 445v20M731.75 455v10M737.75 455v10M743.75 455v10M746.75 445v10M760.25 434v11M845.75 476v10M854.75 486v10M860.75 486v10M862.25 496v8M863.75 496v8M872.75 465v11M874.25 476v10M877.25 455v10M878.75 455v10M878.75 486v10M889.25 496v8M938.75 486v10M941.75 434v11M943.25 428v6M946.25 428v6M949.25 434v11"/><path stroke="#fff800" stroke-width="1.5" d="M763.25 349v3M763.25 370v3M763.25 388v6M766.25 292v3M766.25 388v3M767.75 343v3M767.75 352v3M767.75 358v15M767.75 376v6M767.75 403v2M769.25 256v3M770.75 301v6M770.75 367v3M770.75 373v3M770.75 400v5M772.25 331v3M772.25 343v3M772.25 355v3M772.25 367v3M772.25 379v6M772.25 388v3M772.25 400v5M775.25 361v3M775.25 400v5M776.75 319v3M776.75 328v3M776.75 340v3M776.75 352v3M776.75 358v9M776.75 373v3M776.75 379v3M778.25 319v3M778.25 349v3M778.25 355v3M778.25 361v3M779.75 352v3M779.75 370v3M782.75 355v6M782.75 370v3M782.75 391v3M785.75 292v3M785.75 328v6M787.25 319v3M787.25 334v3M788.75 292v9M788.75 304v3M788.75 337v6M788.75 346v3M788.75 355v3M790.25 358v3M790.25 373v3M791.75 298v3M791.75 304v3M791.75 319v3M791.75 334v3M791.75 340v3M793.25 352v3M793.25 373v3M794.75 250v6M794.75 280v3M794.75 301v3M794.75 361v3M794.75 373v6M796.25 265v6M796.25 277v3M796.25 295v3M796.25 301v3M796.25 334v3M796.25 364v6M797.75 262v3M797.75 277v3M797.75 304v3M799.25 331v6M799.25 340v3M799.25 355v3M799.25 361v3M800.75 319v6M802.25 325v3M803.75 319v3M803.75 334v3M803.75 340v3M808.25 280v3M808.25 292v3M808.25 298v3M808.25 322v3M808.25 328v3M808.25 364v6M808.25 373v3M809.75 319v3M809.75 325v3M809.75 340v3M809.75 361v6M811.25 313v3M811.25 319v9M811.25 334v3M811.25 346v3M811.25 355v3M811.25 364v6M812.75 274v3M812.75 346v3M812.75 376v3M812.75 388v3M812.75 400v3M814.25 295v6M814.25 328v3M814.25 340v6M814.25 352v3M814.25 364v3M814.25 391v3M814.25 400v5M815.75 265v3M815.75 271v6M815.75 340v3M815.75 403v2M817.25 337v3M817.25 349v3M817.25 358v3M817.25 376v3M817.25 394v3M818.75 349v3M818.75 361v3M818.75 373v3M820.25 343v3M820.25 349v3M820.25 367v3M820.25 382v3M821.75 358v3M823.25 331v6M823.25 340v3M823.25 355v3M823.25 364v3M824.75 304v3M824.75 319v9M824.75 334v3M824.75 340v6M824.75 352v3M824.75 367v6M824.75 388v3M826.25 358v3M826.25 367v9M827.75 328v3M827.75 340v3M827.75 352v3M827.75 367v3M827.75 391v3M938.75 289v6M938.75 298v3M938.75 325v3M370.25 476v10M376.25 455v10M380.75 465v11M388.25 476v20M391.25 486v10M395.75 428v6M397.25 476v10M403.25 455v10M403.25 476v10M412.25 486v10M418.25 486v10M419.75 465v11M424.25 465v11M428.75 465v11M434.75 465v11M440.75 465v11M442.25 465v11M445.25 455v10M445.25 476v20M448.25 455v10M449.75 465v11M460.25 455v10M463.25 486v10M466.25 476v10M473.75 434v21M511.25 434v11M521.75 434v11M523.25 434v11M526.25 434v11M527.75 434v11M565.25 428v6M572.75 428v6M574.25 465v11M577.25 465v11M583.25 428v6M583.25 486v10M586.25 434v11M586.25 455v10M586.25 486v10M587.75 434v11M589.25 434v11M700.25 465v11M703.25 465v11M709.25 455v10M712.25 455v21M716.75 465v11M718.25 455v10M733.25 465v11M734.75 455v10M736.25 465v11M748.25 465v11M826.25 428v6M839.75 445v10M842.75 476v10M848.75 476v10M872.75 496v8M877.25 476v10M877.25 496v8M878.75 496v8M881.75 496v8M935.75 496v8M940.25 445v10M947.75 428v6"/><path stroke="#ffec00" stroke-width="1.5" d="M763.25 400v3M766.25 391v3M767.75 346v3M767.75 385v6M770.75 265v6M770.75 391v9M772.25 334v3M772.25 340v3M772.25 346v3M772.25 358v3M772.25 364v3M772.25 376v3M775.25 364v6M775.25 376v3M775.25 382v3M776.75 322v6M776.75 343v3M776.75 376v3M776.75 385v3M776.75 391v6M778.25 376v3M779.75 358v3M779.75 367v3M782.75 361v3M782.75 385v3M785.75 298v3M785.75 322v3M788.75 325v3M788.75 334v3M788.75 349v3M790.25 355v3M791.75 301v3M791.75 316v3M791.75 322v6M791.75 337v3M794.75 259v3M794.75 268v3M794.75 274v3M794.75 286v6M794.75 304v3M794.75 313v3M794.75 319v3M794.75 355v3M796.25 271v3M796.25 280v3M796.25 286v6M796.25 298v3M796.25 331v3M796.25 343v3M796.25 352v3M796.25 370v3M797.75 271v3M797.75 283v3M797.75 292v3M797.75 298v3M797.75 373v3M799.25 337v3M799.25 343v3M799.25 349v6M799.25 358v3M802.25 331v3M802.25 337v3M803.75 322v3M803.75 328v3M808.25 277v3M808.25 295v3M808.25 376v3M809.75 373v3M811.25 328v3M812.75 349v3M812.75 361v15M812.75 379v3M812.75 394v3M812.75 403v2M814.25 292v3M814.25 337v3M814.25 355v3M814.25 361v3M815.75 337v3M815.75 349v6M817.25 340v6M817.25 361v6M817.25 379v3M818.75 355v6M820.25 355v6M823.25 328v3M824.75 295v3M824.75 301v3M824.75 346v3M824.75 355v3M824.75 391v3M827.75 334v6M827.75 343v6M827.75 403v2M938.75 304v3M370.25 455v10M374.75 465v11M385.25 476v10M389.75 455v10M394.25 476v10M397.25 486v10M406.25 486v10M409.25 476v10M412.25 455v10M412.25 476v10M415.25 476v10M418.25 476v10M421.25 455v10M424.25 455v10M433.25 486v10M439.25 455v10M442.25 455v10M448.25 476v20M451.25 476v10M463.25 476v10M469.25 455v10M470.75 455v10M473.75 428v6M473.75 465v11M476.75 434v11M496.25 428v6M499.25 428v6M502.25 428v6M505.25 428v6M512.75 434v11M514.25 465v11M518.75 434v11M520.25 434v11M542.75 428v6M550.25 428v6M568.25 428v6M574.25 434v11M574.25 486v10M577.25 434v11M580.25 428v6M695.75 455v10M704.75 465v11M710.75 455v10M724.25 465v11M727.25 455v10M730.25 465v11M751.25 445v10M758.75 434v11M766.25 428v6M772.25 428v6M787.25 428v6M811.25 428v6M833.75 428v6M839.75 455v10M841.25 476v10M850.25 486v10M865.25 496v8M866.75 496v8M869.75 496v8M872.75 455v10M875.75 476v10M878.75 476v10M950.75 434v11"/><path stroke="#ffe100" stroke-width="1.5" d="M766.25 394v3M766.25 400v3M767.75 382v3M772.25 352v3M772.25 361v3M772.25 370v6M772.25 394v3M775.25 370v3M776.75 349v3M776.75 370v3M776.75 397v8M788.75 301v3M788.75 328v6M788.75 352v3M788.75 358v3M791.75 313v3M791.75 328v3M794.75 256v3M794.75 262v6M794.75 271v3M794.75 292v3M794.75 298v3M794.75 346v3M794.75 358v3M796.25 283v3M796.25 304v3M796.25 313v6M796.25 346v6M796.25 358v3M797.75 268v3M797.75 280v3M797.75 286v6M797.75 295v3M797.75 301v3M797.75 316v3M797.75 337v3M797.75 352v6M797.75 364v3M797.75 370v3M797.75 376v3M799.25 346v3M802.25 334v3M808.25 304v3M808.25 385v9M808.25 403v2M812.75 355v6M812.75 382v3M812.75 391v3M814.25 346v6M815.75 343v6M815.75 358v3M815.75 364v6M817.25 346v3M817.25 352v6M817.25 373v3M817.25 382v3M817.25 388v6M817.25 397v8M820.25 346v3M820.25 352v3M824.75 292v3M824.75 349v3M824.75 358v3M824.75 376v9M938.75 295v3M373.25 476v10M376.25 476v10M377.75 455v10M379.25 476v10M382.25 455v10M383.75 465v11M385.25 486v10M394.25 486v10M401.75 486v10M406.25 455v10M406.25 476v10M410.75 486v10M413.75 486v10M422.75 455v10M436.25 476v10M437.75 465v11M442.25 486v10M443.75 465v11M457.25 455v10M457.25 476v10M458.75 486v10M460.25 476v10M461.75 455v10M461.75 486v10M464.75 455v10M466.25 486v10M475.25 486v10M476.75 428v6M476.75 445v10M476.75 465v11M479.75 428v6M481.25 428v6M487.25 428v6M497.75 428v6M503.75 428v6M511.25 465v11M517.25 434v11M520.25 445v10M526.25 455v10M530.75 434v11M541.25 428v6M542.75 434v11M547.25 428v6M548.75 428v6M556.25 428v6M571.25 428v6M577.25 476v10M578.75 428v6M580.25 465v11M583.25 465v11M584.75 434v11M587.75 445v10M592.25 465v11M692.75 465v11M701.75 465v11M707.75 465v11M709.25 465v11M710.75 465v11M715.25 455v10M718.25 465v11M719.75 455v10M721.25 465v11M725.75 445v10M728.75 445v10M749.75 455v10M757.25 445v10M767.75 428v6M769.25 428v6M779.75 428v6M784.25 428v6M790.25 428v6M796.25 434v11M796.25 455v10M824.75 428v6M827.75 428v6M832.25 434v11M844.25 486v10M851.75 486v10M853.25 486v10M857.75 486v10M859.25 496v8M884.75 496v8M940.25 486v10M941.75 445v10M944.75 428v6M949.25 445v10M952.25 455v10"/><path stroke="#ffd500" stroke-width="1.5" d="M766.25 397v3M766.25 403v2M767.75 391v6M767.75 400v3M772.25 349v3M791.75 331v3M794.75 295v3M794.75 316v3M794.75 322v3M794.75 334v3M794.75 349v6M796.25 292v3M796.25 322v3M796.25 337v6M797.75 319v3M797.75 343v3M797.75 349v3M797.75 358v6M797.75 367v3M808.25 301v3M808.25 379v6M808.25 394v3M812.75 352v3M815.75 355v3M815.75 361v3M817.25 367v3M818.75 352v3M824.75 298v3M824.75 385v3M824.75 394v11M938.75 301v3M373.25 486v10M379.25 486v10M382.25 465v11M400.25 455v10M400.25 486v10M404.75 486v10M407.75 486v10M422.75 486v10M427.25 476v20M430.25 455v10M430.25 486v10M433.25 476v10M436.25 486v10M439.25 476v10M442.25 476v10M446.75 465v11M457.25 486v10M458.75 455v10M460.25 486v10M464.75 486v10M470.75 486v10M472.25 486v10M478.25 486v10M484.25 428v6M490.25 428v6M494.75 428v6M511.25 455v10M511.25 476v10M512.75 465v11M517.25 465v11M523.25 465v11M529.25 434v11M536.75 434v11M547.25 434v11M550.25 455v10M556.25 455v10M566.75 434v11M571.25 434v11M571.25 465v11M574.25 455v10M575.75 434v11M578.75 434v11M580.25 434v11M580.25 486v10M583.25 434v21M583.25 476v10M584.75 486v10M586.25 445v10M587.75 465v11M587.75 486v10M694.25 465v11M697.25 465v11M715.25 465v11M719.75 465v11M725.75 455v10M739.25 465v11M740.75 465v11M743.75 465v11M770.75 428v6M775.25 428v6M776.75 428v6M778.25 428v6M781.25 428v6M791.75 434v11M796.25 428v6M814.25 428v6M821.75 428v6M823.25 428v6M829.25 445v10M830.75 428v6M832.25 445v10M838.25 434v11M839.75 465v11M847.25 486v10M856.25 486v10M860.75 496v8M872.75 476v10M940.25 476v10M941.75 455v10M943.25 434v11"/><path stroke="#ffc900" stroke-width="1.5" d="M767.75 397v3M775.25 373v3M794.75 325v6M794.75 340v6M796.25 319v3M796.25 325v6M797.75 313v3M797.75 346v3M808.25 397v6M368.75 465v11M376.25 486v10M377.75 486v10M380.75 455v10M383.75 486v10M386.75 486v10M389.75 486v10M398.75 455v10M400.25 476v10M409.25 496v8M413.75 455v10M416.75 486v10M421.25 476v10M431.75 486v10M439.25 486v10M440.75 455v10M440.75 486v10M449.75 486v10M454.25 496v8M469.25 476v20M475.25 476v10M481.25 434v11M506.75 428v6M508.25 428v6M514.25 434v11M515.75 434v11M518.75 445v10M520.25 455v21M521.75 445v10M524.75 445v10M526.25 445v10M526.25 465v11M529.25 455v21M536.75 445v10M544.25 428v6M547.25 445v20M550.25 434v11M550.25 465v21M551.75 428v6M553.25 476v10M556.25 465v21M557.75 428v6M559.25 428v6M560.75 428v6M562.25 428v6M565.25 434v11M568.25 434v11M569.75 428v6M572.75 434v11M574.25 476v10M575.75 428v6M577.25 486v10M580.25 476v10M583.25 455v10M586.25 476v10M589.25 455v21M593.75 465v11M596.75 455v10M695.75 465v11M722.75 465v11M727.25 465v11M731.75 465v11M734.75 465v11M737.75 465v11M745.25 465v11M751.25 455v10M761.75 428v6M763.25 428v6M770.75 434v11M772.25 434v11M773.75 428v6M781.25 434v11M784.25 445v10M788.75 428v6M794.75 434v11M796.25 445v10M799.25 428v6M803.75 465v11M806.75 465v11M808.25 465v11M824.75 434v11M826.25 434v21M829.25 434v11M835.25 434v11M836.75 445v10M853.25 496v8M857.75 496v8M941.75 465v11"/><path stroke="#ffbe00" stroke-width="1.5" d="M794.75 331v3M794.75 337v3M797.75 322v15M797.75 340v3M370.25 496v8M371.75 465v11M374.75 455v10M380.75 486v10M383.75 455v10M386.75 455v10M398.75 486v10M419.75 455v10M425.75 455v10M430.25 476v10M433.25 496v8M443.75 486v10M449.75 455v10M452.75 455v10M452.75 486v10M455.75 455v10M455.75 486v10M467.75 455v10M478.25 476v10M479.75 434v11M485.75 428v6M491.75 428v6M493.25 428v6M499.25 434v11M505.25 434v11M509.75 434v11M511.25 486v10M517.25 476v10M518.75 465v11M526.25 476v20M529.25 445v10M538.25 434v11M538.25 455v10M539.75 434v11M541.25 434v11M547.25 476v10M548.75 434v11M553.25 428v6M553.25 455v21M559.25 434v11M565.25 455v10M565.25 476v10M566.75 428v6M568.25 455v10M569.75 434v11M571.25 455v10M571.25 486v10M572.75 465v11M577.25 445v20M578.75 445v10M578.75 465v11M578.75 486v10M580.25 455v10M584.75 465v11M725.75 465v11M728.75 455v21M736.25 476v10M746.75 465v11M749.75 465v11M755.75 445v10M757.25 455v10M758.75 445v10M766.25 434v11M781.25 445v31M782.75 445v10M784.25 434v11M784.25 455v10M787.25 455v10M788.75 434v11M788.75 465v11M790.25 434v11M790.25 455v10M791.75 428v6M799.25 445v10M800.75 465v11M805.25 428v6M805.25 465v11M806.75 428v6M808.25 428v6M809.75 428v6M811.25 434v11M820.25 428v6M824.75 445v10M830.75 434v11M835.25 445v10M836.75 434v11M838.25 445v20M841.25 486v10M845.75 486v10M848.75 486v10M854.75 496v8M938.75 496v8M947.75 434v11M949.25 455v10M952.25 465v11"/><path stroke="#ff3e00" stroke-width="1.5" d="M368.75 455v10M371.75 476v10M389.75 496v8M392.75 476v10M410.75 496v8M416.75 496v8M425.75 476v10M428.75 476v10M431.75 496v8M434.75 476v10M470.75 496v8M473.75 476v10M479.75 486v10M482.75 445v10M490.25 445v10M490.25 465v11M493.25 445v10M496.25 465v11M505.25 496v8M506.75 445v10M509.75 486v10M518.75 476v10M521.75 476v10M529.25 496v8M533.75 465v11M533.75 486v10M541.25 496v8M542.75 476v10M544.25 496v8M545.75 455v21M548.75 476v10M554.75 455v10M554.75 486v10M563.75 465v11M571.25 496v8M580.25 496v8M581.75 455v10M587.75 476v10M592.25 496v8M692.75 486v10M694.25 486v10M704.75 496v8M707.75 486v10M712.25 486v10M718.25 486v10M727.25 486v10M736.25 496v8M737.75 486v10M739.25 486v10M745.25 486v10M751.25 486v10M754.25 476v10M757.25 476v10M758.75 486v10M760.25 496v8M761.75 476v10M763.25 496v8M767.75 476v10M767.75 496v8M769.25 486v10M770.75 476v20M772.25 476v20M773.75 476v10M775.25 486v10M776.75 476v10M776.75 496v8M778.25 476v10M778.25 496v8M781.25 486v18M788.75 486v10M803.75 496v8M812.75 476v20M814.25 486v10M815.75 434v11M818.75 465v11M823.25 476v10M824.75 486v10M826.25 486v10M836.75 465v11M847.25 496v8M943.25 496v8"/><path stroke="#ff2500" stroke-width="1.5" d="M368.75 476v10M395.75 496v8M404.75 496v8M419.75 496v8M434.75 496v8M437.75 476v10M443.75 496v8M449.75 496v8M467.75 496v8M476.75 476v10M485.75 486v10M497.75 455v21M506.75 465v11M506.75 486v10M508.25 496v8M542.75 496v8M554.75 476v10M560.75 486v10M569.75 455v10M698.75 496v8M703.25 496v8M706.25 496v8M715.25 486v10M721.25 496v8M728.75 476v20M730.25 496v8M731.75 486v10M733.25 496v8M734.75 486v10M740.75 496v8M742.25 496v8M743.75 486v10M752.75 476v10M757.25 486v10M785.75 486v10M797.75 465v11M797.75 486v10M814.25 496v8M817.25 455v21M818.75 476v10M820.25 476v20M821.75 496v8M830.75 476v10M832.25 496v8M833.75 486v10M835.25 496v8M839.75 496v8M944.75 455v21"/><path stroke="#ff7a00" stroke-width="1.5" d="M371.75 455v10M374.75 476v10M377.75 476v10M379.25 496v8M380.75 476v10M386.75 476v10M389.75 476v10M391.25 496v8M398.75 476v10M403.25 496v8M406.25 496v8M410.75 476v10M424.25 486v10M443.75 476v10M463.25 496v8M469.25 496v8M475.25 496v8M478.25 496v8M484.25 434v11M487.25 445v31M487.25 496v8M491.75 434v11M493.25 434v11M493.25 455v10M496.25 445v20M496.25 476v10M499.25 476v10M502.25 465v11M502.25 486v10M505.25 455v10M508.25 455v10M521.75 486v10M524.75 455v10M532.25 455v10M533.75 434v11M535.25 445v31M535.25 486v10M539.75 486v10M541.25 445v10M541.25 486v10M542.75 455v21M544.25 455v10M544.25 476v10M547.25 465v11M548.75 455v10M551.75 445v10M554.75 434v11M556.25 496v8M557.75 465v11M557.75 486v10M560.75 434v11M562.25 455v10M565.25 486v10M566.75 465v11M568.25 496v8M569.75 465v11M578.75 455v10M581.75 486v10M586.25 496v8M592.25 486v10M598.25 496v8M703.25 476v10M704.75 486v10M707.75 476v10M712.25 476v10M713.75 476v10M727.25 476v10M730.25 486v10M739.25 476v10M754.25 465v11M758.75 465v11M761.75 445v20M763.25 465v11M766.25 455v21M769.25 445v10M770.75 445v20M772.25 445v10M773.75 434v11M773.75 465v11M775.25 445v20M779.75 445v10M787.25 476v10M793.25 445v20M793.25 476v10M794.75 486v10M796.25 465v11M796.25 496v8M797.75 428v17M799.25 496v8M802.25 445v10M802.25 465v11M802.25 486v10M806.75 455v10M808.25 476v10M814.25 434v11M818.75 434v11M820.25 445v10M827.75 455v10M829.25 476v10M830.75 455v10M832.25 465v11M943.25 455v10M946.25 465v11M947.75 445v10M952.25 476v10"/><path stroke="#ffaf00" stroke-width="1.5" d="M371.75 486v10M382.25 476v10M392.75 455v10M392.75 486v10M395.75 455v10M395.75 486v10M397.25 496v8M401.75 455v10M404.75 455v10M415.25 496v8M418.25 496v8M419.75 486v10M424.25 476v10M434.75 486v10M436.25 496v8M437.75 455v10M443.75 455v10M446.75 486v10M451.25 496v8M470.75 476v10M473.75 486v10M481.25 455v10M481.25 476v10M490.25 434v11M496.25 434v11M497.75 434v11M502.25 434v11M506.75 434v11M508.25 434v11M511.25 445v10M514.25 455v10M514.25 476v10M515.75 465v11M517.25 455v10M520.25 486v10M521.75 465v11M523.25 455v10M523.25 476v20M524.75 465v11M527.75 445v10M535.25 434v11M538.25 465v11M539.75 445v10M541.25 455v10M545.75 428v6M550.25 445v10M553.25 434v21M553.25 486v10M554.75 428v6M556.25 434v11M556.25 486v10M559.25 455v21M562.25 434v11M563.75 434v11M568.25 445v10M575.75 465v11M580.25 445v10M581.75 428v6M584.75 445v10M589.25 486v10M590.75 465v11M592.25 476v10M593.75 455v10M704.75 476v10M742.25 465v11M754.25 455v10M758.75 455v10M761.75 434v11M763.25 434v11M769.25 434v11M776.75 445v10M779.75 434v11M779.75 465v11M782.75 428v6M784.25 465v11M785.75 465v11M787.25 434v11M787.25 465v11M790.25 445v10M793.25 428v6M794.75 428v6M794.75 445v10M796.25 476v10M799.25 434v11M800.75 428v27M802.25 428v6M803.75 428v17M806.75 434v21M808.25 434v11M809.75 434v21M812.75 428v6M818.75 428v6M818.75 445v10M823.25 434v21M827.75 434v11M829.25 455v10M830.75 445v10M832.25 455v10M835.25 455v10M836.75 455v10M839.75 476v10M842.75 486v10M851.75 496v8M940.25 496v8M941.75 476v20M943.25 445v10M946.25 434v11M949.25 465v11M950.75 445v10"/><path stroke="#ff0000" stroke-width="1.5" d="M371.75 496v8M428.75 496v8M473.75 496v8M476.75 496v8M479.75 496v8M482.75 455v10M482.75 476v28M485.75 476v10M485.75 496v8M488.75 455v49M491.75 465v39M494.75 476v28M497.75 476v10M497.75 496v8M500.75 455v10M500.75 476v10M500.75 496v8M503.75 476v10M503.75 496v8M506.75 476v10M506.75 496v8M521.75 496v8M524.75 496v8M527.75 496v8M530.75 496v8M533.75 476v10M533.75 496v8M539.75 496v8M545.75 496v8M551.75 496v8M554.75 496v8M557.75 496v8M560.75 496v8M563.75 455v10M563.75 496v8M566.75 496v8M569.75 496v8M575.75 496v8M581.75 476v10M581.75 496v8M590.75 496v8M593.75 496v8M596.75 496v8M695.75 496v8M709.25 496v8M715.25 496v8M718.25 496v8M719.75 496v8M725.75 496v8M728.75 496v8M731.75 496v8M734.75 496v8M737.75 496v8M743.75 496v8M752.75 496v8M758.75 496v8M764.75 486v18M815.75 476v10M815.75 496v8M817.25 476v28M944.75 496v8M950.75 486v18"/><path stroke="#ff5700" stroke-width="1.5" d="M373.25 496v8M383.75 476v10M404.75 476v10M440.75 476v10M442.25 496v8M455.75 476v10M467.75 476v10M472.25 496v8M481.25 496v8M484.25 445v41M485.75 445v10M488.75 434v11M490.25 455v10M499.25 496v8M508.25 445v10M508.25 476v10M520.25 496v8M526.25 496v8M527.75 455v10M527.75 476v10M532.25 445v10M532.25 486v10M538.25 496v8M539.75 455v10M544.25 486v10M551.75 455v10M557.75 455v10M559.25 496v8M560.75 445v10M560.75 465v11M565.25 496v8M569.75 445v10M583.25 496v8M584.75 476v10M595.25 496v8M695.75 476v10M698.75 486v10M700.25 486v10M703.25 486v10M710.75 476v10M716.75 486v10M745.25 476v10M746.75 476v10M751.25 476v10M763.25 486v10M766.25 476v20M769.25 465v21M770.75 496v8M772.25 496v8M775.25 476v10M787.25 496v8M790.25 486v10M791.75 465v11M791.75 496v8M793.25 486v10M794.75 496v8M797.75 455v10M802.25 455v10M805.25 455v10M808.25 496v8M809.75 496v8M811.25 476v10M812.75 455v21M823.25 455v21M824.75 455v10M826.25 465v11M829.25 465v11M838.25 476v10M841.25 496v8M844.25 496v8M943.25 476v20M946.25 476v10M947.75 465v21M949.25 486v10"/><path stroke="#ff9d00" stroke-width="1.5" d="M374.75 486v10M382.25 486v10M388.25 496v8M394.25 496v8M410.75 455v10M412.25 496v8M416.75 455v10M421.25 486v18M427.25 496v8M428.75 455v10M431.75 455v10M434.75 455v10M448.25 496v8M449.75 476v10M458.75 476v10M464.75 476v10M466.25 496v8M467.75 486v10M472.25 476v10M479.75 445v10M482.75 428v6M487.25 434v11M500.75 428v6M502.25 455v10M503.75 434v11M511.25 496v8M512.75 445v10M518.75 455v10M520.25 476v10M523.25 445v10M527.75 465v11M529.25 476v20M530.75 445v10M536.75 465v11M538.25 445v10M538.25 476v20M542.75 445v10M544.25 434v21M545.75 445v10M548.75 445v10M556.25 445v10M557.75 434v11M559.25 476v20M562.25 476v10M563.75 428v6M568.25 465v21M571.25 476v10M572.75 486v10M574.25 445v10M575.75 486v10M581.75 434v11M581.75 465v11M697.25 476v10M698.75 476v10M700.25 476v10M701.75 476v10M706.25 476v10M721.25 476v10M730.25 476v10M737.75 476v10M740.75 476v10M751.25 465v11M754.25 445v10M760.25 445v10M772.25 455v10M773.75 455v10M776.75 434v11M778.25 434v11M779.75 476v10M782.75 434v11M782.75 455v10M785.75 428v6M785.75 455v10M787.25 445v10M788.75 445v20M791.75 445v20M793.25 434v11M799.25 455v10M800.75 455v10M803.75 445v10M808.25 455v10M809.75 465v11M811.25 445v10M812.75 434v11M814.25 445v10M817.25 428v6M821.75 434v11M826.25 455v10M827.75 445v10M833.75 434v21M850.25 496v8M856.25 496v8M950.75 455v10"/><path stroke="#ff0c00" stroke-width="1.5" d="M374.75 496v8M383.75 496v8M407.75 496v8M437.75 496v8M446.75 496v8M482.75 465v11M491.75 455v10M494.75 455v10M500.75 465v11M512.75 496v8M515.75 496v8M548.75 496v8M560.75 476v10M563.75 476v10M572.75 496v8M578.75 496v8M584.75 496v8M590.75 476v10M692.75 496v8M697.25 496v8M710.75 496v8M712.25 496v8M713.75 496v8M716.75 496v8M722.75 496v8M745.25 496v8M746.75 496v8M754.25 496v8M755.75 486v18M764.75 476v10M827.75 496v8M833.75 476v10M833.75 496v8M836.75 496v8M944.75 476v10"/><path stroke="#ff6900" stroke-width="1.5" d="M376.25 496v8M400.25 496v8M401.75 476v10M422.75 476v10M422.75 496v8M430.25 496v8M431.75 476v10M439.25 496v8M452.75 476v10M476.75 486v10M485.75 434v11M487.25 486v10M497.75 445v10M499.25 445v31M502.25 476v10M503.75 445v10M505.25 465v21M508.25 465v11M509.75 455v21M512.75 455v10M512.75 486v10M514.25 486v10M515.75 445v20M517.25 496v8M518.75 486v10M530.75 465v11M530.75 486v10M532.25 465v11M533.75 445v10M541.25 465v11M544.25 465v11M548.75 486v10M550.25 496v8M551.75 486v10M554.75 445v10M554.75 465v11M562.25 445v10M562.25 465v11M562.25 486v10M566.75 445v10M572.75 455v10M575.75 455v10M577.25 496v8M581.75 445v10M590.75 486v10M692.75 476v10M701.75 486v10M706.25 486v10M715.25 476v10M718.25 476v10M724.25 476v10M733.25 486v10M736.25 486v10M740.75 486v10M742.25 476v10M743.75 476v10M752.75 465v11M755.75 465v11M760.25 465v21M764.75 434v11M766.25 496v8M767.75 445v10M770.75 465v11M773.75 445v10M775.25 465v11M776.75 486v10M778.25 445v20M782.75 476v10M784.25 486v10M788.75 476v10M791.75 476v10M794.75 465v21M797.75 445v10M799.25 486v10M800.75 486v18M803.75 476v20M805.25 486v18M809.75 455v10M809.75 476v20M811.25 486v18M812.75 445v10M817.25 434v11M820.25 434v11M820.25 455v10M832.25 476v10M833.75 455v10M835.25 486v10M838.25 465v11M839.75 486v10M941.75 496v8M944.75 434v11M946.25 455v10M946.25 486v10M947.75 455v10M950.75 465v11"/><path stroke="#ff3100" stroke-width="1.5" d="M377.75 496v8M380.75 496v8M386.75 496v8M398.75 496v8M401.75 496v8M419.75 476v10M425.75 496v8M440.75 496v8M452.75 496v8M458.75 496v8M484.25 486v18M485.75 455v21M490.25 476v20M493.25 465v11M493.25 496v8M496.25 496v8M503.75 455v21M503.75 486v10M509.75 476v10M512.75 476v10M515.75 476v10M530.75 476v10M532.25 496v8M535.25 496v8M536.75 496v8M545.75 486v10M560.75 455v10M566.75 455v10M566.75 476v10M572.75 476v10M575.75 476v10M589.25 496v8M593.75 476v10M707.75 496v8M710.75 486v10M719.75 486v10M722.75 486v10M751.25 496v8M761.75 486v18M764.75 455v21M778.25 486v10M779.75 486v18M785.75 476v10M788.75 496v8M797.75 476v10M797.75 496v8M814.25 476v10M815.75 455v10M818.75 486v10M820.25 465v11M821.75 476v10M823.25 486v10M824.75 496v8M826.25 496v8M827.75 465v21M830.75 486v10M836.75 486v10M838.25 486v18M845.75 496v8M946.25 496v8M947.75 486v10M952.25 486v10"/><path stroke="#ff4a00" stroke-width="1.5" d="M382.25 496v8M395.75 476v10M407.75 476v10M413.75 496v8M424.25 496v8M446.75 476v10M461.75 496v8M464.75 496v8M479.75 455v10M482.75 434v11M488.75 445v10M491.75 445v10M493.25 476v10M494.75 445v10M496.25 486v10M499.25 486v10M500.75 445v10M502.25 496v8M505.25 486v10M508.25 486v10M514.25 496v8M515.75 486v10M521.75 455v10M523.25 496v8M524.75 476v10M530.75 455v10M532.25 476v10M533.75 455v10M536.75 476v10M539.75 465v11M551.75 476v10M553.25 496v8M562.25 496v8M563.75 445v10M566.75 486v10M569.75 486v10M574.25 496v8M578.75 476v10M593.75 486v10M697.25 486v10M709.25 486v10M713.75 486v10M719.75 476v10M721.25 486v10M722.75 476v10M724.25 486v10M725.75 476v10M731.75 476v10M734.75 476v10M742.25 486v10M746.75 486v10M748.25 496v8M749.75 476v20M755.75 476v10M758.75 476v10M760.25 486v10M761.75 465v11M763.25 476v10M764.75 445v10M767.75 465v11M767.75 486v10M769.25 496v8M775.25 496v8M782.75 486v10M784.25 496v8M787.25 486v10M790.25 496v8M791.75 486v10M793.25 465v11M793.25 496v8M802.25 476v10M802.25 496v8M805.25 476v10M806.75 496v8M814.25 465v11M815.75 445v10M817.25 445v10M818.75 455v10M821.75 455v21M824.75 465v21M829.25 486v18M830.75 465v11M832.25 486v10M833.75 465v11M835.25 476v10M836.75 476v10M842.75 496v8M848.75 496v8M944.75 445v10M949.25 496v8M950.75 476v10"/><path stroke="#ff8c00" stroke-width="1.5" d="M385.25 496v8M407.75 455v10M413.75 476v10M416.75 476v10M425.75 486v10M428.75 486v10M437.75 486v10M445.25 496v8M446.75 455v10M457.25 496v8M460.25 496v8M461.75 476v10M473.75 455v10M476.75 455v10M479.75 465v11M481.25 445v10M481.25 465v11M481.25 486v10M487.25 476v10M488.75 428v6M494.75 434v11M500.75 434v11M502.25 445v10M505.25 445v10M509.75 445v10M514.25 445v10M517.25 445v10M517.25 486v10M524.75 486v10M527.75 486v10M532.25 434v11M535.25 476v10M536.75 455v10M536.75 486v10M541.25 476v10M542.75 486v10M545.75 434v11M547.25 486v18M548.75 465v11M550.25 486v10M551.75 434v11M551.75 465v11M557.75 445v10M559.25 445v10M565.25 445v10M565.25 465v11M568.25 486v10M571.25 445v10M572.75 445v10M575.75 445v10M584.75 455v10M587.75 455v10M589.25 476v10M590.75 455v10M694.25 476v10M709.25 476v10M716.75 476v10M733.25 476v10M748.25 476v20M752.75 445v20M755.75 455v10M757.25 465v11M760.25 455v10M763.25 445v20M764.75 428v6M766.25 445v10M767.75 434v11M767.75 455v10M769.25 455v10M772.25 465v11M775.25 434v11M776.75 455v21M778.25 465v11M779.75 455v10M781.25 476v10M782.75 465v11M784.25 476v10M785.75 434v21M790.25 465v21M794.75 455v10M796.25 486v10M799.25 465v21M800.75 476v10M802.25 434v11M803.75 455v10M805.25 434v21M806.75 476v20M808.25 445v10M808.25 486v10M811.25 455v21M814.25 455v10M815.75 428v6M821.75 445v10M826.25 476v10M835.25 465v11M943.25 465v11M946.25 445v10M949.25 476v10"/><path stroke="#ff1900" stroke-width="1.5" d="M392.75 496v8M455.75 496v8M479.75 476v10M490.25 496v8M493.25 486v10M494.75 465v11M497.75 486v10M500.75 486v10M506.75 455v10M509.75 496v8M518.75 496v8M539.75 476v10M545.75 476v10M557.75 476v10M563.75 486v10M569.75 476v10M587.75 496v8M694.25 496v8M695.75 486v10M700.25 496v8M701.75 496v8M724.25 496v8M725.75 486v10M727.25 496v8M739.25 496v8M749.75 496v8M752.75 486v10M754.25 486v10M757.25 496v8M773.75 486v18M782.75 496v8M785.75 496v8M812.75 496v8M815.75 465v11M815.75 486v10M818.75 496v8M820.25 496v8M821.75 486v10M823.25 496v8M827.75 486v10M830.75 496v8M944.75 486v10M947.75 496v8M952.25 496v8"/></g><rect x="836" y="173.2" width="104" height="1.6" fill="#00e8ff" opacity="0.55"/><rect x="836" y="183.3" width="104" height="1.8" fill="#00ffc0" opacity="0.8"/><rect x="692" y="183.5" width="144" height="1.3" fill="#0030ff" opacity="0.6"/><rect x="905" y="94" width="1" height="3" fill="#000"/><rect x="905" y="360" width="1" height="3" fill="#000"/>
<defs><linearGradient id="cb" x1="0" y1="1" x2="0" y2="0">
<stop offset="0.0000" stop-color="#000089"/>
<stop offset="0.1176" stop-color="#0000ff"/>
<stop offset="0.2471" stop-color="#00ffff"/>
<stop offset="0.4941" stop-color="#00ff00"/>
<stop offset="0.6353" stop-color="#ffff00"/>
<stop offset="0.7529" stop-color="#ffb900"/>
<stop offset="0.8667" stop-color="#ff5400"/>
<stop offset="1.0000" stop-color="#ff0000"/>
</linearGradient></defs>
<rect x="966" y="53" width="14" height="352" fill="url(#cb)"/>
<rect x="966" y="429" width="14" height="76" fill="url(#cb)"/>
<path d="M141.6 51.5C142.4 53.4 144.8 59.1 146.6 63.1C148.4 67.0 150.6 71.4 152.6 75.2C154.6 79.0 156.5 82.5 158.7 86.1C160.9 89.7 163.6 93.6 166 97C168.4 100.4 170.4 103.5 173.2 106.7C176.0 109.9 179.7 113.3 182.9 116.3C186.1 119.3 189.0 122.0 192.6 124.8C196.2 127.6 200.6 130.8 204.6 133.3C208.6 135.8 212.7 137.9 216.7 140C220.7 142.1 224.8 144.2 228.8 146.1C232.8 148.0 236.5 149.6 240.9 151.4C245.3 153.2 250.6 155.3 255.4 157C260.2 158.7 264.4 160.1 270 161.8C275.6 163.5 282.9 165.4 289.3 167.1C295.7 168.8 302.2 170.6 308.6 172C315.1 173.4 321.6 174.6 328 175.8C334.4 177.1 340.4 178.4 347.3 179.5C354.2 180.6 363.2 181.9 369.1 182.6C375.1 183.3 376.9 183.2 383 183.8C389.1 184.4 398.3 185.4 406 186.1C413.7 186.8 421.3 187.2 429 187.7C436.7 188.2 444.3 188.8 452 189.1C459.7 189.4 467.6 189.7 475.4 189.8C483.1 189.9 490.8 189.9 498.5 189.8C506.2 189.7 513.9 189.6 521.6 189.3C529.3 189.0 537.0 188.6 544.7 188.2C552.4 187.8 559.6 187.4 567.8 186.8C576.0 186.2 589.6 185.1 594 184.8" fill="none" stroke="#ff00ff" stroke-width="1.8" stroke-linejoin="round"/>
<path d="M692.5 172.2C695.8 171.4 705.2 169.2 712.2 167.5C719.2 165.8 726.9 164.0 734.3 162C741.7 160.0 749.1 158.0 756.5 155.6C763.9 153.2 771.2 150.4 778.6 147.6C786.0 144.8 793.4 141.6 800.8 138.7C808.2 135.8 815.6 133.4 823 130.3C830.4 127.2 837.7 123.6 845.1 119.9C852.5 116.2 860.6 111.9 867.3 108.2C873.9 104.5 879.8 101.0 885 97.7C890.2 94.4 894.4 91.5 898.3 88.2C902.2 85.0 905.5 81.7 908.3 78.2C911.1 74.7 913.0 70.5 914.9 67.2C916.8 63.9 918.1 60.9 919.4 58.3C920.6 55.7 921.9 52.6 922.4 51.5" fill="none" stroke="#ff00ff" stroke-width="1.8" stroke-linejoin="round"/>
<path d="M90.5 51V406M90 51.5H954M953.5 51V406M90 405.5H954M90.5 427V505M90 427.5H954M953.5 427V505M90 504.5H954M81 405.5H90M81 307.5H90M81 209.5H90M81 111.5H90M86 312.5H90M86 317.5H90M86 322.5H90M86 329.5H90M86 336.5H90M86 346.5H90M86 358.5H90M86 376.5H90M86 214.5H90M86 219.5H90M86 224.5H90M86 231.5H90M86 238.5H90M86 248.5H90M86 260.5H90M86 278.5H90M86 116.5H90M86 121.5H90M86 126.5H90M86 133.5H90M86 140.5H90M86 150.5H90M86 162.5H90M86 180.5H90M86 53.5H90M86 65.5H90M86 82.5H90M81 428.5H90M81 470.5H90M86 430.5H90M86 432.5H90M86 434.5H90M86 437.5H90M86 440.5H90M86 444.5H90M86 450.5H90M86 457.5H90M86 472.5H90M86 474.5H90M86 477.5H90M86 479.5H90M86 482.5H90M86 486.5H90M86 492.5H90M86 499.5H90M114.5 504V509M145.5 504V509M176.5 504V509M207.5 504V514M238.5 504V509M269.5 504V509M300.5 504V509M332.5 504V514M363.5 504V509M394.5 504V509M425.5 504V509M456.5 504V514M487.5 504V509M519.5 504V509M550.5 504V509M581.5 504V514M612.5 504V509M643.5 504V509M674.5 504V509M705.5 504V514M737.5 504V509M768.5 504V509M799.5 504V509M830.5 504V514M861.5 504V509M892.5 504V509M923.5 504V509M979.5 52V406M966 405.5H979M979 405.5H989M979 369.5H984M979 334.5H989M979 299.5H984M979 263.5H989M979 228.5H984M979 193.5H989M979 157.5H984M979 122.5H989M979 87.5H984M979 52.5H989M979.5 428V505M979 504.5H984M979 496.5H989M979 488.5H984M979 481.5H984M979 473.5H984M979 466.5H984M979 458.5H989M979 450.5H984M979 443.5H984M979 435.5H984M979 428.5H984" stroke="#000" stroke-width="1" fill="none" shape-rendering="crispEdges"/>
<text x="278.6" y="30.7" font-size="13" text-anchor="start" xml:space="preserve" textLength="486" lengthAdjust="spacing">DE 1/PWI-SFC&#160; Spin Plane E-Field Spectra, 200 meter antenna, 104 Hz to 409 kHz</text>
<text x="459.0" y="44.3" font-size="9.5" text-anchor="start" font-weight="bold" textLength="125.2" lengthAdjust="spacing">(Magenta Line: Fce in Hz)</text>
<text x="281.3" y="418.7" font-size="13" text-anchor="start" xml:space="preserve" textLength="481.3" lengthAdjust="spacing">DE 1/PWI-LFC&#160; Spin Plane E-Field Spectra, 200 meter antenna, 1.78 Hz to 100 Hz</text>
<text x="436.6" y="611" font-size="13" text-anchor="start" textLength="170" lengthAdjust="spacing">1981-10-22 (295) 1:04 to 7:59</text>
<text x="77.2" y="413" font-size="13" text-anchor="end">10<tspan dy="-6">2</tspan></text>
<text x="77.2" y="315" font-size="13" text-anchor="end">10<tspan dy="-6">3</tspan></text>
<text x="77.2" y="217" font-size="13" text-anchor="end">10<tspan dy="-6">4</tspan></text>
<text x="77.2" y="119" font-size="13" text-anchor="end">10<tspan dy="-6">5</tspan></text>
<text x="77.2" y="435" font-size="13" text-anchor="end">10<tspan dy="-6">2</tspan></text>
<text x="77.2" y="478" font-size="13" text-anchor="end">10<tspan dy="-6">1</tspan></text>
<text transform="translate(47,228) rotate(-90)" font-size="13" text-anchor="middle">Frequency (Hz)</text>
<text transform="translate(47,466) rotate(-90)" font-size="13" text-anchor="middle">Freq (Hz)</text>
<text x="992" y="413" font-size="13" text-anchor="start">10<tspan dy="-6">-16</tspan></text>
<text x="992" y="342" font-size="13" text-anchor="start">10<tspan dy="-6">-14</tspan></text>
<text x="992" y="271" font-size="13" text-anchor="start">10<tspan dy="-6">-12</tspan></text>
<text x="992" y="201" font-size="13" text-anchor="start">10<tspan dy="-6">-10</tspan></text>
<text x="992" y="130" font-size="13" text-anchor="start">10<tspan dy="-6">-8</tspan></text>
<text x="992" y="60" font-size="13" text-anchor="start">10<tspan dy="-6">-6</tspan></text>
<text x="992" y="466" font-size="13" text-anchor="start">10<tspan dy="-6">-10</tspan></text>
<text x="992" y="504" font-size="13" text-anchor="start">10<tspan dy="-6">-15</tspan></text>
<text transform="translate(1048,228) rotate(-90)" font-size="13" text-anchor="middle">Ex (V<tspan dy="-6">2</tspan><tspan dy="6"> m</tspan><tspan dy="-6">-2</tspan><tspan dy="6"> Hz</tspan><tspan dy="-6">-1</tspan><tspan dy="6">)</tspan></text>
<text transform="translate(1042,466) rotate(-90)" font-size="13" text-anchor="middle">LFC Ex</text>
<text x="222.7" y="529.7" font-size="13" text-anchor="end" >02:00</text>
<text x="222.7" y="545.7" font-size="13" text-anchor="end" >2.572</text>
<text x="222.7" y="561.6" font-size="13" text-anchor="end" >2.540</text>
<text x="222.7" y="577.5" font-size="13" text-anchor="end" >8.860</text>
<text x="222.7" y="593.4" font-size="13" text-anchor="end" >5.193</text>
<text x="347.3" y="529.7" font-size="13" text-anchor="end" >03:00</text>
<text x="347.3" y="545.7" font-size="13" text-anchor="end" >3.930</text>
<text x="347.3" y="561.6" font-size="13" text-anchor="end" >6.460</text>
<text x="347.3" y="577.5" font-size="13" text-anchor="end" >9.171</text>
<text x="347.3" y="593.4" font-size="13" text-anchor="end" >38.093</text>
<text x="471.9" y="529.7" font-size="13" text-anchor="end" >04:00</text>
<text x="471.9" y="545.7" font-size="13" text-anchor="end" >4.563</text>
<text x="471.9" y="561.6" font-size="13" text-anchor="end" >16.203</text>
<text x="471.9" y="577.5" font-size="13" text-anchor="end" >9.769</text>
<text x="471.9" y="593.4" font-size="13" text-anchor="end" >57.439</text>
<text x="596.5" y="529.7" font-size="13" text-anchor="end" >05:00</text>
<text x="596.5" y="545.7" font-size="13" text-anchor="end" >4.599</text>
<text x="596.5" y="561.6" font-size="13" text-anchor="end" >59.977</text>
<text x="596.5" y="577.5" font-size="13" text-anchor="end" >11.290</text>
<text x="596.5" y="593.4" font-size="13" text-anchor="end" >73.340</text>
<text x="721.1" y="529.7" font-size="13" text-anchor="end" >06:00</text>
<text x="721.1" y="545.7" font-size="13" text-anchor="end" >4.046</text>
<text x="721.1" y="561.6" font-size="13" text-anchor="end" >****</text>
<text x="721.1" y="577.5" font-size="13" text-anchor="end" >17.124</text>
<text x="721.1" y="593.4" font-size="13" text-anchor="end" >77.823</text>
<text x="845.7" y="529.7" font-size="13" text-anchor="end" >07:00</text>
<text x="845.7" y="545.7" font-size="13" text-anchor="end" >2.791</text>
<text x="845.7" y="561.6" font-size="13" text-anchor="end" >6.790</text>
<text x="845.7" y="577.5" font-size="13" text-anchor="end" >20.140</text>
<text x="845.7" y="593.4" font-size="13" text-anchor="end" >50.766</text>
<text x="59" y="545.7" font-size="13" text-anchor="end">R<tspan font-size="7.6" dy="3.5">e</tspan></text>
<text x="59" y="561.6" font-size="13" text-anchor="end" >L</text>
<text x="59" y="577.5" font-size="13" text-anchor="end">M<tspan font-size="7.6" dy="3.5">LT</tspan></text>
<text x="59" y="593.4" font-size="13" text-anchor="end">M<tspan font-size="7.6" dy="3.5">LAT</tspan></text>
</svg></body></html>
